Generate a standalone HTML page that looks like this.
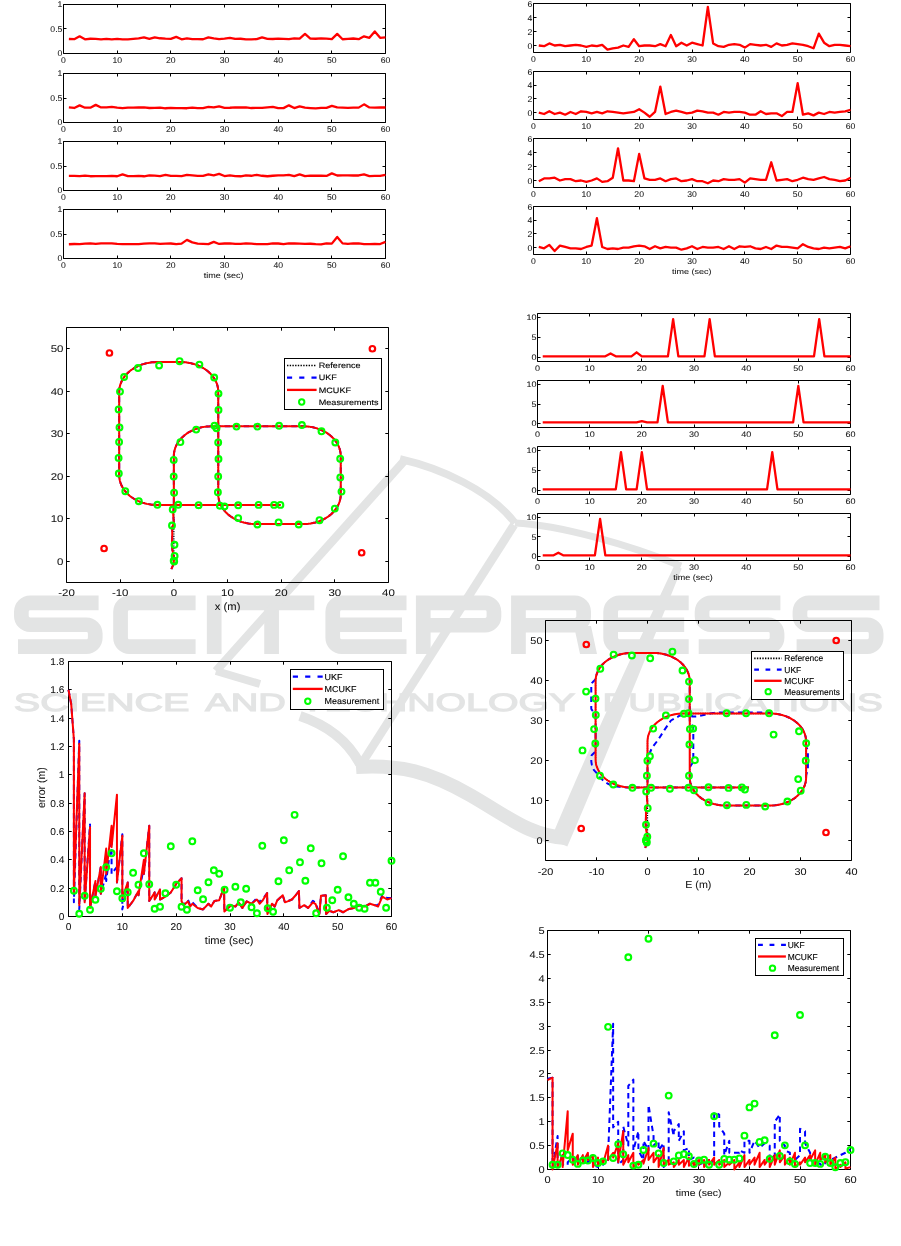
<!DOCTYPE html>
<html><head><meta charset="utf-8"><style>
html,body{margin:0;padding:0;background:#fff;}
body{width:901px;height:1246px;overflow:hidden;position:relative;}
svg{position:absolute;left:0;top:0;font-family:"Liberation Sans", sans-serif;will-change:transform;}
</style></head><body>
<svg width="901" height="1246" viewBox="0 0 901 1246" text-rendering="geometricPrecision">
<path d="M98.6 602.85H30.15A8.8 8.8 0 0 0 21.35 611.65V615.95A8.8 8.8 0 0 0 30.15 624.75H86.45A8.8 8.8 0 0 1 95.25 633.55V637.85A8.8 8.8 0 0 1 86.45 646.65H18M195.6 602.85H129.35A8.8 8.8 0 0 0 120.55 611.65V637.85A8.8 8.8 0 0 0 129.35 646.65H195.6M214.2 595.5V654M230 602.85H314.3 M271.6 602.85V654M406.5 602.85H341.55A8.8 8.8 0 0 0 332.75 611.65V637.85A8.8 8.8 0 0 0 341.55 646.65H406.5 M332.75 624.75H402M423.25 654V602.85H485.15A8.8 8.8 0 0 1 493.95 611.65V616.45A8.8 8.8 0 0 1 485.15 625.25H423.25M518.45 654V602.85H574.85A8.8 8.8 0 0 1 583.65 611.65V616.45A8.8 8.8 0 0 1 574.85 625.25H518.45M688.7 602.85H619.45A8.8 8.8 0 0 0 610.65 611.65V637.85A8.8 8.8 0 0 0 619.45 646.65H688.7 M610.65 624.75H684.2M780.4 602.85H710.85A8.8 8.8 0 0 0 702.05 611.65V615.95A8.8 8.8 0 0 0 710.85 624.75H768.25A8.8 8.8 0 0 1 777.05 633.55V637.85A8.8 8.8 0 0 1 768.25 646.65H698.7M879.5 602.85H808.75A8.8 8.8 0 0 0 799.95 611.65V615.95A8.8 8.8 0 0 0 808.75 624.75H867.35A8.8 8.8 0 0 1 876.15 633.55V637.85A8.8 8.8 0 0 1 867.35 646.65H796.6" fill="none" stroke="#e3e4e4" stroke-width="14.7" stroke-linejoin="miter"/>
<path d="M574 626 L591 626 L597 654 L580 654 Z" fill="#e3e4e4"/>
<text x="13.8" y="710.5" font-size="25" fill="#e3e4e4" stroke="#e3e4e4" stroke-width="1.1" textLength="175.7" lengthAdjust="spacingAndGlyphs">SCIENCE</text>
<text x="205.3" y="710.5" font-size="25" fill="#e3e4e4" stroke="#e3e4e4" stroke-width="1.1" textLength="80.6" lengthAdjust="spacingAndGlyphs">AND</text>
<text x="300.5" y="710.5" font-size="25" fill="#e3e4e4" stroke="#e3e4e4" stroke-width="1.1" textLength="274.6" lengthAdjust="spacingAndGlyphs">TECHNOLOGY</text>
<text x="602.5" y="710.5" font-size="25" fill="#e3e4e4" stroke="#e3e4e4" stroke-width="1.1" textLength="280.4" lengthAdjust="spacingAndGlyphs">PUBLICATIONS</text>
<path d="M216 671 L405 460" fill="none" stroke="#e3e4e4" stroke-width="8.5" stroke-linejoin="round"/>
<path d="M216 671 L260 684" fill="none" stroke="#e3e4e4" stroke-width="8" stroke-linejoin="round"/>
<path d="M400 459 C 440 468, 490 490, 515 523" fill="none" stroke="#e3e4e4" stroke-width="7.5" stroke-linejoin="round"/>
<path d="M515 523 C 560 525, 630 545, 681 566" fill="none" stroke="#e3e4e4" stroke-width="7" stroke-linejoin="round"/>
<path d="M514 525 L362 763" fill="none" stroke="#e3e4e4" stroke-width="8.5" stroke-linejoin="round"/>
<path d="M300 716 Q 342 730, 360 764" fill="none" stroke="#e3e4e4" stroke-width="10" stroke-linejoin="round"/>
<path d="M356 767 C 400 764, 430 772, 470 795 C 510 818, 530 836, 566 838" fill="none" stroke="#e3e4e4" stroke-width="14" stroke-linejoin="round"/>
<path d="M550.7 839.4 L567.3 846.6 Q 611 745, 681.7 568.6 L674.3 565.4 Q 594 735, 550.7 839.4Z" fill="#e3e4e4"/>
<path d="M63.5 4.5H385.5V53.5H63.5Z M63.5 53.5V50.5 M63.5 4.5V7.5 M117.5 53.5V50.5 M117.5 4.5V7.5 M170.5 53.5V50.5 M170.5 4.5V7.5 M224.5 53.5V50.5 M224.5 4.5V7.5 M278.5 53.5V50.5 M278.5 4.5V7.5 M331.5 53.5V50.5 M331.5 4.5V7.5 M385.5 53.5V50.5 M385.5 4.5V7.5 M63.5 53.5H66.5 M385.5 53.5H382.5 M63.5 28.5H66.5 M385.5 28.5H382.5 M63.5 4.5H66.5 M385.5 4.5H382.5" fill="none" stroke="#000" stroke-width="1"/>
<text transform="translate(63.5,60.45) scale(1.04,1)" y="2.97" font-size="8.3" text-anchor="middle" fill="#111111" stroke="#111111" stroke-width="0.05">0</text>
<text transform="translate(117.17,60.45) scale(1.04,1)" y="2.97" font-size="8.3" text-anchor="middle" fill="#111111" stroke="#111111" stroke-width="0.05">10</text>
<text transform="translate(170.83,60.45) scale(1.04,1)" y="2.97" font-size="8.3" text-anchor="middle" fill="#111111" stroke="#111111" stroke-width="0.05">20</text>
<text transform="translate(224.5,60.45) scale(1.04,1)" y="2.97" font-size="8.3" text-anchor="middle" fill="#111111" stroke="#111111" stroke-width="0.05">30</text>
<text transform="translate(278.17,60.45) scale(1.04,1)" y="2.97" font-size="8.3" text-anchor="middle" fill="#111111" stroke="#111111" stroke-width="0.05">40</text>
<text transform="translate(331.83,60.45) scale(1.04,1)" y="2.97" font-size="8.3" text-anchor="middle" fill="#111111" stroke="#111111" stroke-width="0.05">50</text>
<text transform="translate(385.5,60.45) scale(1.04,1)" y="2.97" font-size="8.3" text-anchor="middle" fill="#111111" stroke="#111111" stroke-width="0.05">60</text>
<text transform="translate(62.35,53.5) scale(1.04,1)" y="2.97" font-size="8.3" text-anchor="end" fill="#111111" stroke="#111111" stroke-width="0.05">0</text>
<text transform="translate(62.35,29) scale(1.04,1)" y="2.97" font-size="8.3" text-anchor="end" fill="#111111" stroke="#111111" stroke-width="0.05">0.5</text>
<text transform="translate(62.35,4.5) scale(1.04,1)" y="2.97" font-size="8.3" text-anchor="end" fill="#111111" stroke="#111111" stroke-width="0.05">1</text>
<path d="M68.87 39.01 L74.23 39.21 L79.6 36.35 L84.97 39.3 L90.33 38.76 L95.7 38.96 L101.07 39.32 L106.43 38.79 L111.8 39.34 L117.17 38.88 L122.53 39.31 L127.9 39.28 L133.27 38.89 L138.63 38.42 L144 37.33 L149.37 38.8 L154.73 37.33 L160.1 38.27 L165.47 38.71 L170.83 38.92 L176.2 36.84 L181.57 39.33 L186.93 38.38 L192.3 39.05 L197.67 39.22 L203.03 39.25 L208.4 37.33 L213.77 38.43 L219.13 39.18 L224.5 38.7 L229.87 37.82 L235.23 38.95 L240.6 38.74 L245.97 39.31 L251.33 39.32 L256.7 39.15 L262.07 37.33 L267.43 38.89 L272.8 39.02 L278.17 38.7 L283.53 38.86 L288.9 39.04 L294.27 38.45 L299.63 38.57 L305 33.9 L310.37 38.71 L315.73 38.77 L321.1 38.36 L326.47 38.53 L331.83 39.05 L337.2 33.9 L342.57 39.25 L347.93 38.9 L353.3 38.5 L358.67 39.21 L364.03 36.35 L369.4 37.82 L374.77 31.45 L380.13 37.82 L385.5 37.33" fill="none" stroke="#ff0000" stroke-width="2.3" stroke-linejoin="round" stroke-linecap="butt"/>
<path d="M63.5 73.5H385.5V122.5H63.5Z M63.5 122.5V119.5 M63.5 73.5V76.5 M117.5 122.5V119.5 M117.5 73.5V76.5 M170.5 122.5V119.5 M170.5 73.5V76.5 M224.5 122.5V119.5 M224.5 73.5V76.5 M278.5 122.5V119.5 M278.5 73.5V76.5 M331.5 122.5V119.5 M331.5 73.5V76.5 M385.5 122.5V119.5 M385.5 73.5V76.5 M63.5 122.5H66.5 M385.5 122.5H382.5 M63.5 98.5H66.5 M385.5 98.5H382.5 M63.5 73.5H66.5 M385.5 73.5H382.5" fill="none" stroke="#000" stroke-width="1"/>
<text transform="translate(63.5,129.45) scale(1.04,1)" y="2.97" font-size="8.3" text-anchor="middle" fill="#111111" stroke="#111111" stroke-width="0.05">0</text>
<text transform="translate(117.17,129.45) scale(1.04,1)" y="2.97" font-size="8.3" text-anchor="middle" fill="#111111" stroke="#111111" stroke-width="0.05">10</text>
<text transform="translate(170.83,129.45) scale(1.04,1)" y="2.97" font-size="8.3" text-anchor="middle" fill="#111111" stroke="#111111" stroke-width="0.05">20</text>
<text transform="translate(224.5,129.45) scale(1.04,1)" y="2.97" font-size="8.3" text-anchor="middle" fill="#111111" stroke="#111111" stroke-width="0.05">30</text>
<text transform="translate(278.17,129.45) scale(1.04,1)" y="2.97" font-size="8.3" text-anchor="middle" fill="#111111" stroke="#111111" stroke-width="0.05">40</text>
<text transform="translate(331.83,129.45) scale(1.04,1)" y="2.97" font-size="8.3" text-anchor="middle" fill="#111111" stroke="#111111" stroke-width="0.05">50</text>
<text transform="translate(385.5,129.45) scale(1.04,1)" y="2.97" font-size="8.3" text-anchor="middle" fill="#111111" stroke="#111111" stroke-width="0.05">60</text>
<text transform="translate(62.35,122.5) scale(1.04,1)" y="2.97" font-size="8.3" text-anchor="end" fill="#111111" stroke="#111111" stroke-width="0.05">0</text>
<text transform="translate(62.35,98) scale(1.04,1)" y="2.97" font-size="8.3" text-anchor="end" fill="#111111" stroke="#111111" stroke-width="0.05">0.5</text>
<text transform="translate(62.35,73.5) scale(1.04,1)" y="2.97" font-size="8.3" text-anchor="end" fill="#111111" stroke="#111111" stroke-width="0.05">1</text>
<path d="M68.87 107.43 L74.23 107.98 L79.6 105.35 L84.97 107.71 L90.33 107.72 L95.7 104.86 L101.07 107.47 L106.43 107.36 L111.8 106.82 L117.17 107.64 L122.53 108.23 L127.9 107.6 L133.27 107.66 L138.63 107.32 L144 107.48 L149.37 108.01 L154.73 107.91 L160.1 107.63 L165.47 108.27 L170.83 107.84 L176.2 108.13 L181.57 108.18 L186.93 108.23 L192.3 107.54 L197.67 108.16 L203.03 108.05 L208.4 106.82 L213.77 107.44 L219.13 106.33 L224.5 107.85 L229.87 107.75 L235.23 107.42 L240.6 107.49 L245.97 107.44 L251.33 108.02 L256.7 107.88 L262.07 107.94 L267.43 107.42 L272.8 106.82 L278.17 108.14 L283.53 108.12 L288.9 105.35 L294.27 108.06 L299.63 106.33 L305 107.71 L310.37 108.03 L315.73 108.29 L321.1 107.88 L326.47 107.93 L331.83 105.84 L337.2 107.36 L342.57 107.61 L347.93 107.78 L353.3 107.68 L358.67 107.63 L364.03 104.37 L369.4 107.41 L374.77 107.53 L380.13 107.43 L385.5 107.51" fill="none" stroke="#ff0000" stroke-width="2.3" stroke-linejoin="round" stroke-linecap="butt"/>
<path d="M63.5 141.5H385.5V190.5H63.5Z M63.5 190.5V187.5 M63.5 141.5V144.5 M117.5 190.5V187.5 M117.5 141.5V144.5 M170.5 190.5V187.5 M170.5 141.5V144.5 M224.5 190.5V187.5 M224.5 141.5V144.5 M278.5 190.5V187.5 M278.5 141.5V144.5 M331.5 190.5V187.5 M331.5 141.5V144.5 M385.5 190.5V187.5 M385.5 141.5V144.5 M63.5 190.5H66.5 M385.5 190.5H382.5 M63.5 166.5H66.5 M385.5 166.5H382.5 M63.5 141.5H66.5 M385.5 141.5H382.5" fill="none" stroke="#000" stroke-width="1"/>
<text transform="translate(63.5,197.45) scale(1.04,1)" y="2.97" font-size="8.3" text-anchor="middle" fill="#111111" stroke="#111111" stroke-width="0.05">0</text>
<text transform="translate(117.17,197.45) scale(1.04,1)" y="2.97" font-size="8.3" text-anchor="middle" fill="#111111" stroke="#111111" stroke-width="0.05">10</text>
<text transform="translate(170.83,197.45) scale(1.04,1)" y="2.97" font-size="8.3" text-anchor="middle" fill="#111111" stroke="#111111" stroke-width="0.05">20</text>
<text transform="translate(224.5,197.45) scale(1.04,1)" y="2.97" font-size="8.3" text-anchor="middle" fill="#111111" stroke="#111111" stroke-width="0.05">30</text>
<text transform="translate(278.17,197.45) scale(1.04,1)" y="2.97" font-size="8.3" text-anchor="middle" fill="#111111" stroke="#111111" stroke-width="0.05">40</text>
<text transform="translate(331.83,197.45) scale(1.04,1)" y="2.97" font-size="8.3" text-anchor="middle" fill="#111111" stroke="#111111" stroke-width="0.05">50</text>
<text transform="translate(385.5,197.45) scale(1.04,1)" y="2.97" font-size="8.3" text-anchor="middle" fill="#111111" stroke="#111111" stroke-width="0.05">60</text>
<text transform="translate(62.35,190.5) scale(1.04,1)" y="2.97" font-size="8.3" text-anchor="end" fill="#111111" stroke="#111111" stroke-width="0.05">0</text>
<text transform="translate(62.35,166) scale(1.04,1)" y="2.97" font-size="8.3" text-anchor="end" fill="#111111" stroke="#111111" stroke-width="0.05">0.5</text>
<text transform="translate(62.35,141.5) scale(1.04,1)" y="2.97" font-size="8.3" text-anchor="end" fill="#111111" stroke="#111111" stroke-width="0.05">1</text>
<path d="M68.87 175.91 L74.23 175.9 L79.6 176.19 L84.97 175.67 L90.33 176.23 L95.7 176.22 L101.07 176.09 L106.43 176.13 L111.8 175.96 L117.17 176.24 L122.53 174.33 L127.9 176.14 L133.27 176.19 L138.63 175.93 L144 176.27 L149.37 175.43 L154.73 175.69 L160.1 176.14 L165.47 174.82 L170.83 175.95 L176.2 175.93 L181.57 176.17 L186.93 174.82 L192.3 175.32 L197.67 175.83 L203.03 175.82 L208.4 174.33 L213.77 175.31 L219.13 173.84 L224.5 176.03 L229.87 175.48 L235.23 176.13 L240.6 176.27 L245.97 175.36 L251.33 175.77 L256.7 174.82 L262.07 175.76 L267.43 176.26 L272.8 175.77 L278.17 175.33 L283.53 175.44 L288.9 174.82 L294.27 176.03 L299.63 174.33 L305 176.13 L310.37 175.53 L315.73 175.77 L321.1 175.53 L326.47 175.97 L331.83 173.35 L337.2 175.49 L342.57 175.32 L347.93 175.45 L353.3 175.5 L358.67 175.49 L364.03 174.33 L369.4 176.07 L374.77 175.78 L380.13 175.94 L385.5 174.82" fill="none" stroke="#ff0000" stroke-width="2.3" stroke-linejoin="round" stroke-linecap="butt"/>
<path d="M63.5 209.5H385.5V258.5H63.5Z M63.5 258.5V255.5 M63.5 209.5V212.5 M117.5 258.5V255.5 M117.5 209.5V212.5 M170.5 258.5V255.5 M170.5 209.5V212.5 M224.5 258.5V255.5 M224.5 209.5V212.5 M278.5 258.5V255.5 M278.5 209.5V212.5 M331.5 258.5V255.5 M331.5 209.5V212.5 M385.5 258.5V255.5 M385.5 209.5V212.5 M63.5 258.5H66.5 M385.5 258.5H382.5 M63.5 234.5H66.5 M385.5 234.5H382.5 M63.5 209.5H66.5 M385.5 209.5H382.5" fill="none" stroke="#000" stroke-width="1"/>
<text transform="translate(63.5,265.45) scale(1.04,1)" y="2.97" font-size="8.3" text-anchor="middle" fill="#111111" stroke="#111111" stroke-width="0.05">0</text>
<text transform="translate(117.17,265.45) scale(1.04,1)" y="2.97" font-size="8.3" text-anchor="middle" fill="#111111" stroke="#111111" stroke-width="0.05">10</text>
<text transform="translate(170.83,265.45) scale(1.04,1)" y="2.97" font-size="8.3" text-anchor="middle" fill="#111111" stroke="#111111" stroke-width="0.05">20</text>
<text transform="translate(224.5,265.45) scale(1.04,1)" y="2.97" font-size="8.3" text-anchor="middle" fill="#111111" stroke="#111111" stroke-width="0.05">30</text>
<text transform="translate(278.17,265.45) scale(1.04,1)" y="2.97" font-size="8.3" text-anchor="middle" fill="#111111" stroke="#111111" stroke-width="0.05">40</text>
<text transform="translate(331.83,265.45) scale(1.04,1)" y="2.97" font-size="8.3" text-anchor="middle" fill="#111111" stroke="#111111" stroke-width="0.05">50</text>
<text transform="translate(385.5,265.45) scale(1.04,1)" y="2.97" font-size="8.3" text-anchor="middle" fill="#111111" stroke="#111111" stroke-width="0.05">60</text>
<text transform="translate(62.35,258.5) scale(1.04,1)" y="2.97" font-size="8.3" text-anchor="end" fill="#111111" stroke="#111111" stroke-width="0.05">0</text>
<text transform="translate(62.35,234) scale(1.04,1)" y="2.97" font-size="8.3" text-anchor="end" fill="#111111" stroke="#111111" stroke-width="0.05">0.5</text>
<text transform="translate(62.35,209.5) scale(1.04,1)" y="2.97" font-size="8.3" text-anchor="end" fill="#111111" stroke="#111111" stroke-width="0.05">1</text>
<path d="M68.87 244.26 L74.23 244.02 L79.6 244.04 L84.97 243.61 L90.33 243.35 L95.7 243.85 L101.07 243.37 L106.43 243.32 L111.8 243.35 L117.17 243.93 L122.53 244.07 L127.9 244.07 L133.27 244.1 L138.63 244.09 L144 243.68 L149.37 243.41 L154.73 243.47 L160.1 243.82 L165.47 243.65 L170.83 243.51 L176.2 244.21 L181.57 243.64 L186.93 239.88 L192.3 242.33 L197.67 243.55 L203.03 243.82 L208.4 244.12 L213.77 241.84 L219.13 243.96 L224.5 243.51 L229.87 243.34 L235.23 243.9 L240.6 243.9 L245.97 243.36 L251.33 243.58 L256.7 244.12 L262.07 244.17 L267.43 244.14 L272.8 243.4 L278.17 243.5 L283.53 244.15 L288.9 243.48 L294.27 243.33 L299.63 243.65 L305 243.95 L310.37 243.75 L315.73 244.16 L321.1 244.28 L326.47 243.34 L331.83 243.65 L337.2 236.94 L342.57 243.38 L347.93 243.86 L353.3 243.44 L358.67 243.48 L364.03 244.08 L369.4 244.04 L374.77 244 L380.13 244.05 L385.5 241.84" fill="none" stroke="#ff0000" stroke-width="2.3" stroke-linejoin="round" stroke-linecap="butt"/>
<text transform="translate(223.65,276) scale(1.16,1)" y="2.03" font-size="7.8" text-anchor="middle" fill="#111111" stroke="#111111" stroke-width="0.05">time (sec)</text>
<path d="M533.5 3.5H850.5V52.5H533.5Z M533.5 52.5V49.5 M533.5 3.5V6.5 M586.5 52.5V49.5 M586.5 3.5V6.5 M639.5 52.5V49.5 M639.5 3.5V6.5 M692.5 52.5V49.5 M692.5 3.5V6.5 M744.5 52.5V49.5 M744.5 3.5V6.5 M797.5 52.5V49.5 M797.5 3.5V6.5 M850.5 52.5V49.5 M850.5 3.5V6.5 M533.5 45.5H536.5 M850.5 45.5H847.5 M533.5 31.5H536.5 M850.5 31.5H847.5 M533.5 17.5H536.5 M850.5 17.5H847.5 M533.5 3.5H536.5 M850.5 3.5H847.5" fill="none" stroke="#000" stroke-width="1"/>
<text transform="translate(533.5,59.1) scale(1.03,1)" y="3.01" font-size="8.4" text-anchor="middle" fill="#111111" stroke="#111111" stroke-width="0.05">0</text>
<text transform="translate(586.33,59.1) scale(1.03,1)" y="3.01" font-size="8.4" text-anchor="middle" fill="#111111" stroke="#111111" stroke-width="0.05">10</text>
<text transform="translate(639.17,59.1) scale(1.03,1)" y="3.01" font-size="8.4" text-anchor="middle" fill="#111111" stroke="#111111" stroke-width="0.05">20</text>
<text transform="translate(692,59.1) scale(1.03,1)" y="3.01" font-size="8.4" text-anchor="middle" fill="#111111" stroke="#111111" stroke-width="0.05">30</text>
<text transform="translate(744.83,59.1) scale(1.03,1)" y="3.01" font-size="8.4" text-anchor="middle" fill="#111111" stroke="#111111" stroke-width="0.05">40</text>
<text transform="translate(797.67,59.1) scale(1.03,1)" y="3.01" font-size="8.4" text-anchor="middle" fill="#111111" stroke="#111111" stroke-width="0.05">50</text>
<text transform="translate(850.5,59.1) scale(1.03,1)" y="3.01" font-size="8.4" text-anchor="middle" fill="#111111" stroke="#111111" stroke-width="0.05">60</text>
<text transform="translate(532.35,45.5) scale(1.03,1)" y="3.01" font-size="8.4" text-anchor="end" fill="#111111" stroke="#111111" stroke-width="0.05">0</text>
<text transform="translate(532.35,31.5) scale(1.03,1)" y="3.01" font-size="8.4" text-anchor="end" fill="#111111" stroke="#111111" stroke-width="0.05">2</text>
<text transform="translate(532.35,17.5) scale(1.03,1)" y="3.01" font-size="8.4" text-anchor="end" fill="#111111" stroke="#111111" stroke-width="0.05">4</text>
<text transform="translate(532.35,3.5) scale(1.03,1)" y="3.01" font-size="8.4" text-anchor="end" fill="#111111" stroke="#111111" stroke-width="0.05">6</text>
<path d="M538.78 45.5 L544.07 46.2 L549.35 43.4 L554.63 45.5 L559.92 44.8 L565.2 46.2 L570.48 45.5 L575.77 44.8 L581.05 45.5 L586.33 46.9 L591.62 45.5 L596.9 46.2 L602.18 44.8 L607.47 49.7 L612.75 48.3 L618.03 47.6 L623.32 45.5 L628.6 46.9 L633.88 39.2 L639.17 46.2 L644.45 45.5 L649.73 45.5 L655.02 46.2 L660.3 44.1 L665.58 46.2 L670.87 35 L676.15 46.2 L681.43 42.7 L686.72 45.5 L692 42.7 L697.28 44.1 L702.57 45.5 L707.85 7 L713.13 43.4 L718.42 46.2 L723.7 46.9 L728.98 44.8 L734.27 44.1 L739.55 44.8 L744.83 47.6 L750.12 44.1 L755.4 44.8 L760.68 45.5 L765.97 44.8 L771.25 46.9 L776.53 43.4 L781.82 45.5 L787.1 44.8 L792.38 43.4 L797.67 44.1 L802.95 44.8 L808.23 46.2 L813.52 48.3 L818.8 33.6 L824.08 42.7 L829.37 46.2 L834.65 44.8 L839.93 44.8 L845.22 45.5 L850.5 46.2" fill="none" stroke="#ff0000" stroke-width="2.3" stroke-linejoin="round" stroke-linecap="butt"/>
<path d="M533.5 71.5H850.5V119.5H533.5Z M533.5 119.5V116.5 M533.5 71.5V74.5 M586.5 119.5V116.5 M586.5 71.5V74.5 M639.5 119.5V116.5 M639.5 71.5V74.5 M692.5 119.5V116.5 M692.5 71.5V74.5 M744.5 119.5V116.5 M744.5 71.5V74.5 M797.5 119.5V116.5 M797.5 71.5V74.5 M850.5 119.5V116.5 M850.5 71.5V74.5 M533.5 112.5H536.5 M850.5 112.5H847.5 M533.5 98.5H536.5 M850.5 98.5H847.5 M533.5 85.5H536.5 M850.5 85.5H847.5 M533.5 71.5H536.5 M850.5 71.5H847.5" fill="none" stroke="#000" stroke-width="1"/>
<text transform="translate(533.5,126.1) scale(1.03,1)" y="3.01" font-size="8.4" text-anchor="middle" fill="#111111" stroke="#111111" stroke-width="0.05">0</text>
<text transform="translate(586.33,126.1) scale(1.03,1)" y="3.01" font-size="8.4" text-anchor="middle" fill="#111111" stroke="#111111" stroke-width="0.05">10</text>
<text transform="translate(639.17,126.1) scale(1.03,1)" y="3.01" font-size="8.4" text-anchor="middle" fill="#111111" stroke="#111111" stroke-width="0.05">20</text>
<text transform="translate(692,126.1) scale(1.03,1)" y="3.01" font-size="8.4" text-anchor="middle" fill="#111111" stroke="#111111" stroke-width="0.05">30</text>
<text transform="translate(744.83,126.1) scale(1.03,1)" y="3.01" font-size="8.4" text-anchor="middle" fill="#111111" stroke="#111111" stroke-width="0.05">40</text>
<text transform="translate(797.67,126.1) scale(1.03,1)" y="3.01" font-size="8.4" text-anchor="middle" fill="#111111" stroke="#111111" stroke-width="0.05">50</text>
<text transform="translate(850.5,126.1) scale(1.03,1)" y="3.01" font-size="8.4" text-anchor="middle" fill="#111111" stroke="#111111" stroke-width="0.05">60</text>
<text transform="translate(532.35,112.64) scale(1.03,1)" y="3.01" font-size="8.4" text-anchor="end" fill="#111111" stroke="#111111" stroke-width="0.05">0</text>
<text transform="translate(532.35,98.93) scale(1.03,1)" y="3.01" font-size="8.4" text-anchor="end" fill="#111111" stroke="#111111" stroke-width="0.05">2</text>
<text transform="translate(532.35,85.21) scale(1.03,1)" y="3.01" font-size="8.4" text-anchor="end" fill="#111111" stroke="#111111" stroke-width="0.05">4</text>
<text transform="translate(532.35,71.5) scale(1.03,1)" y="3.01" font-size="8.4" text-anchor="end" fill="#111111" stroke="#111111" stroke-width="0.05">6</text>
<path d="M538.78 112.64 L544.07 114.01 L549.35 111.27 L554.63 114.01 L559.92 112.64 L565.2 114.7 L570.48 111.96 L575.77 114.01 L581.05 111.27 L586.33 111.96 L591.62 113.33 L596.9 111.96 L602.18 113.33 L607.47 111.27 L612.75 111.96 L618.03 112.64 L623.32 113.33 L628.6 112.64 L633.88 111.96 L639.17 109.21 L644.45 112.64 L649.73 116.76 L655.02 111.96 L660.3 86.59 L665.58 114.01 L670.87 111.96 L676.15 110.59 L681.43 111.96 L686.72 113.33 L692 112.64 L697.28 110.59 L702.57 111.27 L707.85 112.64 L713.13 112.64 L718.42 114.7 L723.7 111.96 L728.98 112.64 L734.27 111.96 L739.55 111.96 L744.83 112.64 L750.12 114.7 L755.4 114.7 L760.68 111.27 L765.97 114.01 L771.25 113.33 L776.53 113.33 L781.82 116.07 L787.1 111.96 L792.38 111.96 L797.67 83.16 L802.95 114.7 L808.23 113.33 L813.52 115.39 L818.8 112.64 L824.08 114.01 L829.37 111.96 L834.65 112.64 L839.93 111.96 L845.22 111.27 L850.5 109.9" fill="none" stroke="#ff0000" stroke-width="2.3" stroke-linejoin="round" stroke-linecap="butt"/>
<path d="M533.5 138.5H850.5V187.5H533.5Z M533.5 187.5V184.5 M533.5 138.5V141.5 M586.5 187.5V184.5 M586.5 138.5V141.5 M639.5 187.5V184.5 M639.5 138.5V141.5 M692.5 187.5V184.5 M692.5 138.5V141.5 M744.5 187.5V184.5 M744.5 138.5V141.5 M797.5 187.5V184.5 M797.5 138.5V141.5 M850.5 187.5V184.5 M850.5 138.5V141.5 M533.5 180.5H536.5 M850.5 180.5H847.5 M533.5 166.5H536.5 M850.5 166.5H847.5 M533.5 152.5H536.5 M850.5 152.5H847.5 M533.5 138.5H536.5 M850.5 138.5H847.5" fill="none" stroke="#000" stroke-width="1"/>
<text transform="translate(533.5,194.1) scale(1.03,1)" y="3.01" font-size="8.4" text-anchor="middle" fill="#111111" stroke="#111111" stroke-width="0.05">0</text>
<text transform="translate(586.33,194.1) scale(1.03,1)" y="3.01" font-size="8.4" text-anchor="middle" fill="#111111" stroke="#111111" stroke-width="0.05">10</text>
<text transform="translate(639.17,194.1) scale(1.03,1)" y="3.01" font-size="8.4" text-anchor="middle" fill="#111111" stroke="#111111" stroke-width="0.05">20</text>
<text transform="translate(692,194.1) scale(1.03,1)" y="3.01" font-size="8.4" text-anchor="middle" fill="#111111" stroke="#111111" stroke-width="0.05">30</text>
<text transform="translate(744.83,194.1) scale(1.03,1)" y="3.01" font-size="8.4" text-anchor="middle" fill="#111111" stroke="#111111" stroke-width="0.05">40</text>
<text transform="translate(797.67,194.1) scale(1.03,1)" y="3.01" font-size="8.4" text-anchor="middle" fill="#111111" stroke="#111111" stroke-width="0.05">50</text>
<text transform="translate(850.5,194.1) scale(1.03,1)" y="3.01" font-size="8.4" text-anchor="middle" fill="#111111" stroke="#111111" stroke-width="0.05">60</text>
<text transform="translate(532.35,180.5) scale(1.03,1)" y="3.01" font-size="8.4" text-anchor="end" fill="#111111" stroke="#111111" stroke-width="0.05">0</text>
<text transform="translate(532.35,166.5) scale(1.03,1)" y="3.01" font-size="8.4" text-anchor="end" fill="#111111" stroke="#111111" stroke-width="0.05">2</text>
<text transform="translate(532.35,152.5) scale(1.03,1)" y="3.01" font-size="8.4" text-anchor="end" fill="#111111" stroke="#111111" stroke-width="0.05">4</text>
<text transform="translate(532.35,138.5) scale(1.03,1)" y="3.01" font-size="8.4" text-anchor="end" fill="#111111" stroke="#111111" stroke-width="0.05">6</text>
<path d="M538.78 181.2 L544.07 178.4 L549.35 178.4 L554.63 177.7 L559.92 180.5 L565.2 179.1 L570.48 179.1 L575.77 181.2 L581.05 180.5 L586.33 181.9 L591.62 180.5 L596.9 178.4 L602.18 181.9 L607.47 181.2 L612.75 177.7 L618.03 148.3 L623.32 180.5 L628.6 180.5 L633.88 181.2 L639.17 153.9 L644.45 178.4 L649.73 179.8 L655.02 179.8 L660.3 178.4 L665.58 181.2 L670.87 179.1 L676.15 178.4 L681.43 181.2 L686.72 180.5 L692 179.1 L697.28 181.2 L702.57 181.2 L707.85 183.3 L713.13 180.5 L718.42 181.2 L723.7 179.1 L728.98 179.8 L734.27 179.8 L739.55 179.1 L744.83 182.6 L750.12 178.4 L755.4 179.1 L760.68 179.8 L765.97 179.8 L771.25 162.3 L776.53 180.5 L781.82 179.8 L787.1 179.1 L792.38 181.2 L797.67 179.8 L802.95 177.7 L808.23 179.1 L813.52 179.8 L818.8 178.4 L824.08 177 L829.37 179.1 L834.65 179.8 L839.93 181.2 L845.22 180.5 L850.5 177.7" fill="none" stroke="#ff0000" stroke-width="2.3" stroke-linejoin="round" stroke-linecap="butt"/>
<path d="M533.5 206.5H850.5V254.5H533.5Z M533.5 254.5V251.5 M533.5 206.5V209.5 M586.5 254.5V251.5 M586.5 206.5V209.5 M639.5 254.5V251.5 M639.5 206.5V209.5 M692.5 254.5V251.5 M692.5 206.5V209.5 M744.5 254.5V251.5 M744.5 206.5V209.5 M797.5 254.5V251.5 M797.5 206.5V209.5 M850.5 254.5V251.5 M850.5 206.5V209.5 M533.5 247.5H536.5 M850.5 247.5H847.5 M533.5 233.5H536.5 M850.5 233.5H847.5 M533.5 220.5H536.5 M850.5 220.5H847.5 M533.5 206.5H536.5 M850.5 206.5H847.5" fill="none" stroke="#000" stroke-width="1"/>
<text transform="translate(533.5,261.1) scale(1.03,1)" y="3.01" font-size="8.4" text-anchor="middle" fill="#111111" stroke="#111111" stroke-width="0.05">0</text>
<text transform="translate(586.33,261.1) scale(1.03,1)" y="3.01" font-size="8.4" text-anchor="middle" fill="#111111" stroke="#111111" stroke-width="0.05">10</text>
<text transform="translate(639.17,261.1) scale(1.03,1)" y="3.01" font-size="8.4" text-anchor="middle" fill="#111111" stroke="#111111" stroke-width="0.05">20</text>
<text transform="translate(692,261.1) scale(1.03,1)" y="3.01" font-size="8.4" text-anchor="middle" fill="#111111" stroke="#111111" stroke-width="0.05">30</text>
<text transform="translate(744.83,261.1) scale(1.03,1)" y="3.01" font-size="8.4" text-anchor="middle" fill="#111111" stroke="#111111" stroke-width="0.05">40</text>
<text transform="translate(797.67,261.1) scale(1.03,1)" y="3.01" font-size="8.4" text-anchor="middle" fill="#111111" stroke="#111111" stroke-width="0.05">50</text>
<text transform="translate(850.5,261.1) scale(1.03,1)" y="3.01" font-size="8.4" text-anchor="middle" fill="#111111" stroke="#111111" stroke-width="0.05">60</text>
<text transform="translate(532.35,247.64) scale(1.03,1)" y="3.01" font-size="8.4" text-anchor="end" fill="#111111" stroke="#111111" stroke-width="0.05">0</text>
<text transform="translate(532.35,233.93) scale(1.03,1)" y="3.01" font-size="8.4" text-anchor="end" fill="#111111" stroke="#111111" stroke-width="0.05">2</text>
<text transform="translate(532.35,220.21) scale(1.03,1)" y="3.01" font-size="8.4" text-anchor="end" fill="#111111" stroke="#111111" stroke-width="0.05">4</text>
<text transform="translate(532.35,206.5) scale(1.03,1)" y="3.01" font-size="8.4" text-anchor="end" fill="#111111" stroke="#111111" stroke-width="0.05">6</text>
<path d="M538.78 246.96 L544.07 248.33 L549.35 244.9 L554.63 251.07 L559.92 245.59 L565.2 246.96 L570.48 248.33 L575.77 248.33 L581.05 249.01 L586.33 246.96 L591.62 245.59 L596.9 218.16 L602.18 246.96 L607.47 249.01 L612.75 248.33 L618.03 249.01 L623.32 247.64 L628.6 247.64 L633.88 246.27 L639.17 245.59 L644.45 246.27 L649.73 249.01 L655.02 246.27 L660.3 248.33 L665.58 246.96 L670.87 247.64 L676.15 247.64 L681.43 249.7 L686.72 248.33 L692 246.27 L697.28 249.01 L702.57 246.96 L707.85 247.64 L713.13 247.64 L718.42 246.96 L723.7 249.01 L728.98 246.27 L734.27 249.01 L739.55 246.27 L744.83 246.96 L750.12 246.27 L755.4 248.33 L760.68 249.01 L765.97 246.96 L771.25 249.01 L776.53 245.59 L781.82 246.96 L787.1 246.96 L792.38 247.64 L797.67 248.33 L802.95 244.21 L808.23 246.96 L813.52 248.33 L818.8 249.01 L824.08 247.64 L829.37 248.33 L834.65 247.64 L839.93 246.96 L845.22 248.33 L850.5 246.27" fill="none" stroke="#ff0000" stroke-width="2.3" stroke-linejoin="round" stroke-linecap="butt"/>
<text transform="translate(691.65,271.8) scale(1.2,1)" y="1.95" font-size="7.5" text-anchor="middle" fill="#111111" stroke="#111111" stroke-width="0.05">time (sec)</text>
<path d="M537.5 313.5H850.5V361.5H537.5Z M537.5 361.5V358.5 M537.5 313.5V316.5 M589.5 361.5V358.5 M589.5 313.5V316.5 M641.5 361.5V358.5 M641.5 313.5V316.5 M694.5 361.5V358.5 M694.5 313.5V316.5 M746.5 361.5V358.5 M746.5 313.5V316.5 M798.5 361.5V358.5 M798.5 313.5V316.5 M850.5 361.5V358.5 M850.5 313.5V316.5 M537.5 357.5H540.5 M850.5 357.5H847.5 M537.5 337.5H540.5 M850.5 337.5H847.5 M537.5 317.5H540.5 M850.5 317.5H847.5" fill="none" stroke="#000" stroke-width="1"/>
<text transform="translate(537.5,368.2) scale(1.12,1)" y="2.88" font-size="8.05" text-anchor="middle" fill="#111111" stroke="#111111" stroke-width="0.05">0</text>
<text transform="translate(589.67,368.2) scale(1.12,1)" y="2.88" font-size="8.05" text-anchor="middle" fill="#111111" stroke="#111111" stroke-width="0.05">10</text>
<text transform="translate(641.83,368.2) scale(1.12,1)" y="2.88" font-size="8.05" text-anchor="middle" fill="#111111" stroke="#111111" stroke-width="0.05">20</text>
<text transform="translate(694,368.2) scale(1.12,1)" y="2.88" font-size="8.05" text-anchor="middle" fill="#111111" stroke="#111111" stroke-width="0.05">30</text>
<text transform="translate(746.17,368.2) scale(1.12,1)" y="2.88" font-size="8.05" text-anchor="middle" fill="#111111" stroke="#111111" stroke-width="0.05">40</text>
<text transform="translate(798.33,368.2) scale(1.12,1)" y="2.88" font-size="8.05" text-anchor="middle" fill="#111111" stroke="#111111" stroke-width="0.05">50</text>
<text transform="translate(850.5,368.2) scale(1.12,1)" y="2.88" font-size="8.05" text-anchor="middle" fill="#111111" stroke="#111111" stroke-width="0.05">60</text>
<text transform="translate(536.46,357.5) scale(1.12,1)" y="2.88" font-size="8.05" text-anchor="end" fill="#111111" stroke="#111111" stroke-width="0.05">0</text>
<text transform="translate(536.46,337.5) scale(1.12,1)" y="2.88" font-size="8.05" text-anchor="end" fill="#111111" stroke="#111111" stroke-width="0.05">5</text>
<text transform="translate(536.46,317.5) scale(1.12,1)" y="2.88" font-size="8.05" text-anchor="end" fill="#111111" stroke="#111111" stroke-width="0.05">10</text>
<path d="M542.72 356.3 L547.93 356.3 L553.15 356.3 L558.37 356.3 L563.58 356.3 L568.8 356.3 L574.02 356.3 L579.23 356.3 L584.45 356.3 L589.67 356.3 L594.88 356.3 L600.1 356.3 L605.32 356.3 L610.53 353.5 L615.75 356.3 L620.97 356.3 L626.18 356.3 L631.4 356.3 L636.62 352.3 L641.83 356.3 L647.05 356.3 L652.27 356.3 L657.48 356.3 L662.7 356.3 L667.92 356.3 L673.13 319.1 L678.35 356.3 L683.57 356.3 L688.78 356.3 L694 356.3 L699.22 356.3 L704.43 356.3 L709.65 319.1 L714.87 356.3 L720.08 356.3 L725.3 356.3 L730.52 356.3 L735.73 356.3 L740.95 356.3 L746.17 356.3 L751.38 356.3 L756.6 356.3 L761.82 356.3 L767.03 356.3 L772.25 356.3 L777.47 356.3 L782.68 356.3 L787.9 356.3 L793.12 356.3 L798.33 356.3 L803.55 356.3 L808.77 356.3 L813.98 356.3 L819.2 319.1 L824.42 356.3 L829.63 356.3 L834.85 356.3 L840.07 356.3 L845.28 356.3 L850.5 356.3" fill="none" stroke="#ff0000" stroke-width="2.3" stroke-linejoin="round" stroke-linecap="butt"/>
<path d="M537.5 380.5H850.5V427.5H537.5Z M537.5 427.5V424.5 M537.5 380.5V383.5 M589.5 427.5V424.5 M589.5 380.5V383.5 M641.5 427.5V424.5 M641.5 380.5V383.5 M694.5 427.5V424.5 M694.5 380.5V383.5 M746.5 427.5V424.5 M746.5 380.5V383.5 M798.5 427.5V424.5 M798.5 380.5V383.5 M850.5 427.5V424.5 M850.5 380.5V383.5 M537.5 423.5H540.5 M850.5 423.5H847.5 M537.5 404.5H540.5 M850.5 404.5H847.5 M537.5 384.5H540.5 M850.5 384.5H847.5" fill="none" stroke="#000" stroke-width="1"/>
<text transform="translate(537.5,434.2) scale(1.12,1)" y="2.88" font-size="8.05" text-anchor="middle" fill="#111111" stroke="#111111" stroke-width="0.05">0</text>
<text transform="translate(589.67,434.2) scale(1.12,1)" y="2.88" font-size="8.05" text-anchor="middle" fill="#111111" stroke="#111111" stroke-width="0.05">10</text>
<text transform="translate(641.83,434.2) scale(1.12,1)" y="2.88" font-size="8.05" text-anchor="middle" fill="#111111" stroke="#111111" stroke-width="0.05">20</text>
<text transform="translate(694,434.2) scale(1.12,1)" y="2.88" font-size="8.05" text-anchor="middle" fill="#111111" stroke="#111111" stroke-width="0.05">30</text>
<text transform="translate(746.17,434.2) scale(1.12,1)" y="2.88" font-size="8.05" text-anchor="middle" fill="#111111" stroke="#111111" stroke-width="0.05">40</text>
<text transform="translate(798.33,434.2) scale(1.12,1)" y="2.88" font-size="8.05" text-anchor="middle" fill="#111111" stroke="#111111" stroke-width="0.05">50</text>
<text transform="translate(850.5,434.2) scale(1.12,1)" y="2.88" font-size="8.05" text-anchor="middle" fill="#111111" stroke="#111111" stroke-width="0.05">60</text>
<text transform="translate(536.46,423.58) scale(1.12,1)" y="2.88" font-size="8.05" text-anchor="end" fill="#111111" stroke="#111111" stroke-width="0.05">0</text>
<text transform="translate(536.46,404) scale(1.12,1)" y="2.88" font-size="8.05" text-anchor="end" fill="#111111" stroke="#111111" stroke-width="0.05">5</text>
<text transform="translate(536.46,384.42) scale(1.12,1)" y="2.88" font-size="8.05" text-anchor="end" fill="#111111" stroke="#111111" stroke-width="0.05">10</text>
<path d="M542.72 422.41 L547.93 422.41 L553.15 422.41 L558.37 422.41 L563.58 422.41 L568.8 422.41 L574.02 422.41 L579.23 422.41 L584.45 422.41 L589.67 422.41 L594.88 422.41 L600.1 422.41 L605.32 422.41 L610.53 422.41 L615.75 422.41 L620.97 422.41 L626.18 422.41 L631.4 422.41 L636.62 422.41 L641.83 421.23 L647.05 422.41 L652.27 422.41 L657.48 422.41 L662.7 385.98 L667.92 422.41 L673.13 422.41 L678.35 422.41 L683.57 422.41 L688.78 422.41 L694 422.41 L699.22 422.41 L704.43 422.41 L709.65 422.41 L714.87 422.41 L720.08 422.41 L725.3 422.41 L730.52 422.41 L735.73 422.41 L740.95 422.41 L746.17 422.41 L751.38 422.41 L756.6 422.41 L761.82 422.41 L767.03 422.41 L772.25 422.41 L777.47 422.41 L782.68 422.41 L787.9 422.41 L793.12 422.41 L798.33 385.98 L803.55 422.41 L808.77 422.41 L813.98 422.41 L819.2 422.41 L824.42 422.41 L829.63 422.41 L834.85 422.41 L840.07 422.41 L845.28 422.41 L850.5 422.41" fill="none" stroke="#ff0000" stroke-width="2.3" stroke-linejoin="round" stroke-linecap="butt"/>
<path d="M537.5 446.5H850.5V494.5H537.5Z M537.5 494.5V491.5 M537.5 446.5V449.5 M589.5 494.5V491.5 M589.5 446.5V449.5 M641.5 494.5V491.5 M641.5 446.5V449.5 M694.5 494.5V491.5 M694.5 446.5V449.5 M746.5 494.5V491.5 M746.5 446.5V449.5 M798.5 494.5V491.5 M798.5 446.5V449.5 M850.5 494.5V491.5 M850.5 446.5V449.5 M537.5 490.5H540.5 M850.5 490.5H847.5 M537.5 470.5H540.5 M850.5 470.5H847.5 M537.5 450.5H540.5 M850.5 450.5H847.5" fill="none" stroke="#000" stroke-width="1"/>
<text transform="translate(537.5,501.2) scale(1.12,1)" y="2.88" font-size="8.05" text-anchor="middle" fill="#111111" stroke="#111111" stroke-width="0.05">0</text>
<text transform="translate(589.67,501.2) scale(1.12,1)" y="2.88" font-size="8.05" text-anchor="middle" fill="#111111" stroke="#111111" stroke-width="0.05">10</text>
<text transform="translate(641.83,501.2) scale(1.12,1)" y="2.88" font-size="8.05" text-anchor="middle" fill="#111111" stroke="#111111" stroke-width="0.05">20</text>
<text transform="translate(694,501.2) scale(1.12,1)" y="2.88" font-size="8.05" text-anchor="middle" fill="#111111" stroke="#111111" stroke-width="0.05">30</text>
<text transform="translate(746.17,501.2) scale(1.12,1)" y="2.88" font-size="8.05" text-anchor="middle" fill="#111111" stroke="#111111" stroke-width="0.05">40</text>
<text transform="translate(798.33,501.2) scale(1.12,1)" y="2.88" font-size="8.05" text-anchor="middle" fill="#111111" stroke="#111111" stroke-width="0.05">50</text>
<text transform="translate(850.5,501.2) scale(1.12,1)" y="2.88" font-size="8.05" text-anchor="middle" fill="#111111" stroke="#111111" stroke-width="0.05">60</text>
<text transform="translate(536.46,490.5) scale(1.12,1)" y="2.88" font-size="8.05" text-anchor="end" fill="#111111" stroke="#111111" stroke-width="0.05">0</text>
<text transform="translate(536.46,470.5) scale(1.12,1)" y="2.88" font-size="8.05" text-anchor="end" fill="#111111" stroke="#111111" stroke-width="0.05">5</text>
<text transform="translate(536.46,450.5) scale(1.12,1)" y="2.88" font-size="8.05" text-anchor="end" fill="#111111" stroke="#111111" stroke-width="0.05">10</text>
<path d="M542.72 489.3 L547.93 489.3 L553.15 489.3 L558.37 489.3 L563.58 489.3 L568.8 489.3 L574.02 489.3 L579.23 489.3 L584.45 489.3 L589.67 489.3 L594.88 489.3 L600.1 489.3 L605.32 489.3 L610.53 489.3 L615.75 489.3 L620.97 452.1 L626.18 489.3 L631.4 489.3 L636.62 489.3 L641.83 452.1 L647.05 489.3 L652.27 489.3 L657.48 489.3 L662.7 489.3 L667.92 489.3 L673.13 489.3 L678.35 489.3 L683.57 489.3 L688.78 489.3 L694 489.3 L699.22 489.3 L704.43 489.3 L709.65 489.3 L714.87 489.3 L720.08 489.3 L725.3 489.3 L730.52 489.3 L735.73 489.3 L740.95 489.3 L746.17 489.3 L751.38 489.3 L756.6 489.3 L761.82 489.3 L767.03 489.3 L772.25 452.1 L777.47 489.3 L782.68 489.3 L787.9 489.3 L793.12 489.3 L798.33 489.3 L803.55 489.3 L808.77 489.3 L813.98 489.3 L819.2 489.3 L824.42 489.3 L829.63 489.3 L834.85 489.3 L840.07 489.3 L845.28 489.3 L850.5 489.3" fill="none" stroke="#ff0000" stroke-width="2.3" stroke-linejoin="round" stroke-linecap="butt"/>
<path d="M537.5 513.5H850.5V560.5H537.5Z M537.5 560.5V557.5 M537.5 513.5V516.5 M589.5 560.5V557.5 M589.5 513.5V516.5 M641.5 560.5V557.5 M641.5 513.5V516.5 M694.5 560.5V557.5 M694.5 513.5V516.5 M746.5 560.5V557.5 M746.5 513.5V516.5 M798.5 560.5V557.5 M798.5 513.5V516.5 M850.5 560.5V557.5 M850.5 513.5V516.5 M537.5 556.5H540.5 M850.5 556.5H847.5 M537.5 536.5H540.5 M850.5 536.5H847.5 M537.5 517.5H540.5 M850.5 517.5H847.5" fill="none" stroke="#000" stroke-width="1"/>
<text transform="translate(537.5,567.2) scale(1.12,1)" y="2.88" font-size="8.05" text-anchor="middle" fill="#111111" stroke="#111111" stroke-width="0.05">0</text>
<text transform="translate(589.67,567.2) scale(1.12,1)" y="2.88" font-size="8.05" text-anchor="middle" fill="#111111" stroke="#111111" stroke-width="0.05">10</text>
<text transform="translate(641.83,567.2) scale(1.12,1)" y="2.88" font-size="8.05" text-anchor="middle" fill="#111111" stroke="#111111" stroke-width="0.05">20</text>
<text transform="translate(694,567.2) scale(1.12,1)" y="2.88" font-size="8.05" text-anchor="middle" fill="#111111" stroke="#111111" stroke-width="0.05">30</text>
<text transform="translate(746.17,567.2) scale(1.12,1)" y="2.88" font-size="8.05" text-anchor="middle" fill="#111111" stroke="#111111" stroke-width="0.05">40</text>
<text transform="translate(798.33,567.2) scale(1.12,1)" y="2.88" font-size="8.05" text-anchor="middle" fill="#111111" stroke="#111111" stroke-width="0.05">50</text>
<text transform="translate(850.5,567.2) scale(1.12,1)" y="2.88" font-size="8.05" text-anchor="middle" fill="#111111" stroke="#111111" stroke-width="0.05">60</text>
<text transform="translate(536.46,556.58) scale(1.12,1)" y="2.88" font-size="8.05" text-anchor="end" fill="#111111" stroke="#111111" stroke-width="0.05">0</text>
<text transform="translate(536.46,537) scale(1.12,1)" y="2.88" font-size="8.05" text-anchor="end" fill="#111111" stroke="#111111" stroke-width="0.05">5</text>
<text transform="translate(536.46,517.42) scale(1.12,1)" y="2.88" font-size="8.05" text-anchor="end" fill="#111111" stroke="#111111" stroke-width="0.05">10</text>
<path d="M542.72 555.41 L547.93 555.41 L553.15 555.41 L558.37 552.67 L563.58 555.41 L568.8 555.41 L574.02 555.41 L579.23 555.41 L584.45 555.41 L589.67 555.41 L594.88 555.41 L600.1 518.98 L605.32 555.41 L610.53 555.41 L615.75 555.41 L620.97 555.41 L626.18 555.41 L631.4 555.41 L636.62 555.41 L641.83 555.41 L647.05 555.41 L652.27 555.41 L657.48 555.41 L662.7 555.41 L667.92 555.41 L673.13 555.41 L678.35 555.41 L683.57 555.41 L688.78 555.41 L694 555.41 L699.22 555.41 L704.43 555.41 L709.65 555.41 L714.87 555.41 L720.08 555.41 L725.3 555.41 L730.52 555.41 L735.73 555.41 L740.95 555.41 L746.17 555.41 L751.38 555.41 L756.6 555.41 L761.82 555.41 L767.03 555.41 L772.25 555.41 L777.47 555.41 L782.68 555.41 L787.9 555.41 L793.12 555.41 L798.33 555.41 L803.55 555.41 L808.77 555.41 L813.98 555.41 L819.2 555.41 L824.42 555.41 L829.63 555.41 L834.85 555.41 L840.07 555.41 L845.28 555.41 L850.5 555.41" fill="none" stroke="#ff0000" stroke-width="2.3" stroke-linejoin="round" stroke-linecap="butt"/>
<text transform="translate(693,577.9) scale(1.14,1)" y="2.05" font-size="7.9" text-anchor="middle" fill="#111111" stroke="#111111" stroke-width="0.05">time (sec)</text>
<path d="M66.5 327.5H388.5V582.5H66.5Z M66.5 582.5V579.3 M66.5 327.5V330.7 M120.5 582.5V579.3 M120.5 327.5V330.7 M173.5 582.5V579.3 M173.5 327.5V330.7 M227.5 582.5V579.3 M227.5 327.5V330.7 M281.5 582.5V579.3 M281.5 327.5V330.7 M334.5 582.5V579.3 M334.5 327.5V330.7 M388.5 582.5V579.3 M388.5 327.5V330.7 M66.5 561.5H69.7 M388.5 561.5H385.3 M66.5 518.5H69.7 M388.5 518.5H385.3 M66.5 476.5H69.7 M388.5 476.5H385.3 M66.5 433.5H69.7 M388.5 433.5H385.3 M66.5 391.5H69.7 M388.5 391.5H385.3 M66.5 348.5H69.7 M388.5 348.5H385.3" fill="none" stroke="#000" stroke-width="1"/>
<text transform="translate(66.5,592.8) scale(1.17,1)" y="3.51" font-size="9.8" text-anchor="middle" fill="#111111" stroke="#111111" stroke-width="0.05">-20</text>
<text transform="translate(120.17,592.8) scale(1.17,1)" y="3.51" font-size="9.8" text-anchor="middle" fill="#111111" stroke="#111111" stroke-width="0.05">-10</text>
<text transform="translate(173.83,592.8) scale(1.17,1)" y="3.51" font-size="9.8" text-anchor="middle" fill="#111111" stroke="#111111" stroke-width="0.05">0</text>
<text transform="translate(227.5,592.8) scale(1.17,1)" y="3.51" font-size="9.8" text-anchor="middle" fill="#111111" stroke="#111111" stroke-width="0.05">10</text>
<text transform="translate(281.17,592.8) scale(1.17,1)" y="3.51" font-size="9.8" text-anchor="middle" fill="#111111" stroke="#111111" stroke-width="0.05">20</text>
<text transform="translate(334.83,592.8) scale(1.17,1)" y="3.51" font-size="9.8" text-anchor="middle" fill="#111111" stroke="#111111" stroke-width="0.05">30</text>
<text transform="translate(388.5,592.8) scale(1.17,1)" y="3.51" font-size="9.8" text-anchor="middle" fill="#111111" stroke="#111111" stroke-width="0.05">40</text>
<text transform="translate(63.46,561.25) scale(1.17,1)" y="3.51" font-size="9.8" text-anchor="end" fill="#111111" stroke="#111111" stroke-width="0.05">0</text>
<text transform="translate(63.46,518.75) scale(1.17,1)" y="3.51" font-size="9.8" text-anchor="end" fill="#111111" stroke="#111111" stroke-width="0.05">10</text>
<text transform="translate(63.46,476.25) scale(1.17,1)" y="3.51" font-size="9.8" text-anchor="end" fill="#111111" stroke="#111111" stroke-width="0.05">20</text>
<text transform="translate(63.46,433.75) scale(1.17,1)" y="3.51" font-size="9.8" text-anchor="end" fill="#111111" stroke="#111111" stroke-width="0.05">30</text>
<text transform="translate(63.46,391.25) scale(1.17,1)" y="3.51" font-size="9.8" text-anchor="end" fill="#111111" stroke="#111111" stroke-width="0.05">40</text>
<text transform="translate(63.46,348.75) scale(1.17,1)" y="3.51" font-size="9.8" text-anchor="end" fill="#111111" stroke="#111111" stroke-width="0.05">50</text>
<path d="M173.83 563.38 L173.83 562.31 L173.83 561.25 L173.83 560.19 L173.83 559.12 L173.83 558.06 L173.83 557 L173.83 555.94 L173.83 554.88 L173.83 553.81 L173.83 552.75 L173.83 551.69 L173.83 550.62 L173.83 549.56 L173.83 548.5 L173.83 547.44 L173.83 546.38 L173.83 545.31 L173.83 544.25 L173.83 543.19 L173.83 542.12 L173.83 541.06 L173.83 540 L173.83 538.94 L173.83 537.88 L173.83 536.81 L173.83 535.75 L173.83 534.69 L173.83 533.62 L173.83 532.56 L173.83 531.5 L173.83 530.44 L173.83 529.38 L173.83 528.31 L173.83 527.25 L173.83 526.19 L173.83 525.12 L173.83 524.06 L173.83 523 L173.83 521.94 L173.83 520.88 L173.83 519.81 L173.83 518.75 L173.83 517.69 L173.83 516.62 L173.83 515.56 L173.83 514.5 L173.83 513.44 L173.83 512.38 L173.83 511.31 L173.83 510.25 L173.83 509.19 L173.83 508.12 L173.83 507.06 L173.83 506 L173.83 504.94 L173.83 503.88 L173.83 502.81 L173.83 501.75 L173.83 500.69 L173.83 499.62 L173.83 498.56 L173.83 497.5 L173.83 496.44 L173.83 495.38 L173.83 494.31 L173.83 493.25 L173.83 492.19 L173.83 491.12 L173.83 490.06 L173.83 489 L173.83 487.94 L173.83 486.88 L173.83 485.81 L173.83 484.75 L173.83 483.69 L173.83 482.62 L173.83 481.56 L173.83 480.5 L173.83 479.44 L173.83 478.38 L173.83 477.31 L173.83 476.25 L173.83 475.19 L173.83 474.12 L173.83 473.06 L173.83 472 L173.83 470.94 L173.83 469.88 L173.83 468.81 L173.83 467.75 L173.83 466.69 L173.83 465.62 L173.83 464.56 L173.83 463.5 L173.83 462.44 L173.83 461.38 L173.83 460.31 L173.83 459.25 L173.83 458.19 L173.83 457.12 L173.83 456.06 L173.91 454.12 L174.15 452.18 L174.56 450.26 L175.11 448.36 L175.83 446.5 L176.69 444.68 L177.71 442.9 L178.87 441.19 L180.16 439.53 L181.6 437.95 L183.16 436.45 L184.84 435.03 L186.63 433.7 L188.53 432.46 L190.53 431.33 L192.62 430.3 L194.78 429.38 L197.02 428.58 L199.32 427.89 L201.68 427.33 L204.07 426.88 L206.5 426.57 L208.94 426.38 L211.4 426.31 L212.75 426.31 L214.1 426.31 L215.45 426.31 L216.8 426.31 L218.15 426.31 L219.5 426.31 L220.85 426.31 L222.2 426.31 L223.55 426.31 L224.9 426.31 L226.25 426.31 L227.59 426.31 L228.94 426.31 L230.29 426.31 L231.64 426.31 L232.99 426.31 L234.34 426.31 L235.69 426.31 L237.04 426.31 L238.39 426.31 L239.74 426.31 L241.09 426.31 L242.44 426.31 L243.79 426.31 L245.14 426.31 L246.49 426.31 L247.84 426.31 L249.19 426.31 L250.54 426.31 L251.89 426.31 L253.24 426.31 L254.59 426.31 L255.94 426.31 L257.28 426.31 L258.63 426.31 L259.98 426.31 L261.33 426.31 L262.68 426.31 L264.03 426.31 L265.38 426.31 L266.73 426.31 L268.08 426.31 L269.43 426.31 L270.78 426.31 L272.13 426.31 L273.48 426.31 L274.83 426.31 L276.18 426.31 L277.53 426.31 L278.88 426.31 L280.23 426.31 L281.58 426.31 L282.93 426.31 L284.28 426.31 L285.63 426.31 L286.98 426.31 L288.32 426.31 L289.67 426.31 L291.02 426.31 L292.37 426.31 L293.72 426.31 L295.07 426.31 L296.42 426.31 L297.77 426.31 L299.12 426.31 L300.47 426.31 L301.82 426.31 L303.17 426.31 L305.63 426.38 L308.07 426.57 L310.5 426.88 L312.89 427.33 L315.25 427.89 L317.55 428.58 L319.79 429.38 L321.95 430.3 L324.04 431.33 L326.04 432.46 L327.94 433.7 L329.73 435.03 L331.41 436.45 L332.97 437.95 L334.41 439.53 L335.7 441.19 L336.86 442.9 L337.88 444.68 L338.74 446.5 L339.46 448.36 L340.01 450.26 L340.42 452.18 L340.66 454.12 L340.74 456.06 L340.74 457.13 L340.74 458.19 L340.74 459.25 L340.74 460.32 L340.74 461.38 L340.74 462.44 L340.74 463.51 L340.74 464.57 L340.74 465.64 L340.74 466.7 L340.74 467.76 L340.74 468.83 L340.74 469.89 L340.74 470.95 L340.74 472.02 L340.74 473.08 L340.74 474.15 L340.74 475.21 L340.74 476.27 L340.74 477.34 L340.74 478.4 L340.74 479.46 L340.74 480.53 L340.74 481.59 L340.74 482.65 L340.74 483.72 L340.74 484.78 L340.74 485.85 L340.74 486.91 L340.74 487.97 L340.74 489.04 L340.74 490.1 L340.74 491.16 L340.74 492.23 L340.74 493.29 L340.74 494.36 L340.66 496.3 L340.42 498.24 L340.01 500.16 L339.46 502.05 L338.74 503.92 L337.88 505.74 L336.86 507.51 L335.7 509.23 L334.41 510.88 L332.97 512.47 L331.41 513.97 L329.73 515.39 L327.94 516.72 L326.04 517.96 L324.04 519.09 L321.95 520.12 L319.79 521.04 L317.55 521.84 L315.25 522.53 L312.89 523.09 L310.5 523.53 L308.07 523.85 L305.63 524.04 L303.17 524.11 L301.82 524.11 L300.47 524.11 L299.11 524.11 L297.76 524.11 L296.41 524.11 L295.06 524.11 L293.7 524.11 L292.35 524.11 L291 524.11 L289.65 524.11 L288.29 524.11 L286.94 524.11 L285.59 524.11 L284.24 524.11 L282.88 524.11 L281.53 524.11 L280.18 524.11 L278.83 524.11 L277.47 524.11 L276.12 524.11 L274.77 524.11 L273.42 524.11 L272.06 524.11 L270.71 524.11 L269.36 524.11 L268.01 524.11 L266.66 524.11 L265.3 524.11 L263.95 524.11 L262.6 524.11 L261.25 524.11 L259.89 524.11 L258.54 524.11 L257.19 524.11 L255.84 524.11 L253.38 524.04 L250.93 523.85 L248.51 523.53 L246.11 523.09 L243.76 522.53 L241.46 521.84 L239.22 521.04 L237.05 520.12 L234.97 519.09 L232.97 517.96 L231.07 516.72 L229.27 515.39 L227.59 513.97 L226.03 512.47 L224.6 510.88 L223.3 509.23 L222.14 507.51 L221.13 505.74 L220.26 503.92 L219.55 502.05 L218.99 500.16 L218.59 498.24 L218.35 496.3 L218.27 494.36 L218.27 493.29 L218.27 492.22 L218.27 491.15 L218.27 490.08 L218.27 489.02 L218.27 487.95 L218.27 486.88 L218.27 485.81 L218.27 484.74 L218.27 483.68 L218.27 482.61 L218.27 481.54 L218.27 480.47 L218.27 479.41 L218.27 478.34 L218.27 477.27 L218.27 476.2 L218.27 475.13 L218.27 474.07 L218.27 473 L218.27 471.93 L218.27 470.86 L218.27 469.8 L218.27 468.73 L218.27 467.66 L218.27 466.59 L218.27 465.52 L218.27 464.46 L218.27 463.39 L218.27 462.32 L218.27 461.25 L218.27 460.19 L218.27 459.12 L218.27 458.05 L218.27 456.98 L218.27 455.91 L218.27 454.85 L218.27 453.78 L218.27 452.71 L218.27 451.64 L218.27 450.57 L218.27 449.51 L218.27 448.44 L218.27 447.37 L218.27 446.3 L218.27 445.24 L218.27 444.17 L218.27 443.1 L218.27 442.03 L218.27 440.96 L218.27 439.9 L218.27 438.83 L218.27 437.76 L218.27 436.69 L218.27 435.63 L218.27 434.56 L218.27 433.49 L218.27 432.42 L218.27 431.35 L218.27 430.29 L218.27 429.22 L218.27 428.15 L218.27 427.08 L218.27 426.01 L218.27 424.95 L218.27 423.88 L218.27 422.81 L218.27 421.74 L218.27 420.68 L218.27 419.61 L218.27 418.54 L218.27 417.47 L218.27 416.4 L218.27 415.34 L218.27 414.27 L218.27 413.2 L218.27 412.13 L218.27 411.07 L218.27 410 L218.27 408.93 L218.27 407.86 L218.27 406.79 L218.27 405.73 L218.27 404.66 L218.27 403.59 L218.27 402.52 L218.27 401.46 L218.27 400.39 L218.27 399.32 L218.27 398.25 L218.27 397.18 L218.27 396.12 L218.27 395.05 L218.27 393.98 L218.27 392.91 L218.27 391.85 L218.19 389.9 L217.95 387.96 L217.55 386.04 L216.99 384.15 L216.28 382.28 L215.41 380.46 L214.4 378.69 L213.24 376.97 L211.94 375.32 L210.51 373.73 L208.95 372.23 L207.27 370.81 L205.47 369.48 L203.57 368.24 L201.57 367.11 L199.49 366.08 L197.32 365.16 L195.08 364.36 L192.78 363.67 L190.43 363.11 L188.03 362.67 L185.61 362.35 L183.16 362.16 L180.7 362.1 L179.29 362.1 L177.89 362.1 L176.48 362.1 L175.07 362.1 L173.66 362.1 L172.25 362.1 L170.85 362.1 L169.44 362.1 L168.03 362.1 L166.62 362.1 L165.22 362.1 L163.81 362.1 L162.4 362.1 L160.99 362.1 L159.58 362.1 L158.18 362.1 L156.77 362.1 L154.31 362.16 L151.86 362.35 L149.44 362.67 L147.04 363.11 L144.69 363.67 L142.39 364.36 L140.15 365.16 L137.98 366.08 L135.9 367.11 L133.9 368.24 L132 369.48 L130.2 370.81 L128.52 372.23 L126.96 373.73 L125.53 375.32 L124.23 376.97 L123.07 378.69 L122.06 380.46 L121.19 382.28 L120.48 384.15 L119.92 386.04 L119.52 387.96 L119.28 389.9 L119.2 391.85 L119.2 392.91 L119.2 393.98 L119.2 395.05 L119.2 396.12 L119.2 397.18 L119.2 398.25 L119.2 399.32 L119.2 400.39 L119.2 401.46 L119.2 402.52 L119.2 403.59 L119.2 404.66 L119.2 405.73 L119.2 406.8 L119.2 407.86 L119.2 408.93 L119.2 410 L119.2 411.07 L119.2 412.14 L119.2 413.2 L119.2 414.27 L119.2 415.34 L119.2 416.41 L119.2 417.48 L119.2 418.54 L119.2 419.61 L119.2 420.68 L119.2 421.75 L119.2 422.82 L119.2 423.88 L119.2 424.95 L119.2 426.02 L119.2 427.09 L119.2 428.16 L119.2 429.22 L119.2 430.29 L119.2 431.36 L119.2 432.43 L119.2 433.5 L119.2 434.56 L119.2 435.63 L119.2 436.7 L119.2 437.77 L119.2 438.83 L119.2 439.9 L119.2 440.97 L119.2 442.04 L119.2 443.11 L119.2 444.17 L119.2 445.24 L119.2 446.31 L119.2 447.38 L119.2 448.45 L119.2 449.51 L119.2 450.58 L119.2 451.65 L119.2 452.72 L119.2 453.79 L119.2 454.85 L119.2 455.92 L119.2 456.99 L119.2 458.06 L119.2 459.13 L119.2 460.19 L119.2 461.26 L119.2 462.33 L119.2 463.4 L119.2 464.47 L119.2 465.53 L119.2 466.6 L119.2 467.67 L119.2 468.74 L119.2 469.81 L119.2 470.87 L119.2 471.94 L119.2 473.01 L119.2 474.08 L119.2 475.14 L119.28 477.09 L119.52 479.03 L119.92 480.95 L120.48 482.84 L121.19 484.71 L122.06 486.53 L123.07 488.3 L124.23 490.02 L125.53 491.67 L126.96 493.26 L128.52 494.76 L130.2 496.18 L132 497.51 L133.9 498.75 L135.9 499.88 L137.98 500.91 L140.15 501.83 L142.39 502.63 L144.69 503.32 L147.04 503.88 L149.44 504.32 L151.86 504.64 L154.31 504.83 L156.77 504.89 L158.11 504.89 L159.46 504.89 L160.81 504.89 L162.15 504.89 L163.5 504.89 L164.85 504.89 L166.19 504.89 L167.54 504.89 L168.88 504.89 L170.23 504.89 L171.58 504.89 L172.92 504.89 L174.27 504.89 L175.62 504.89 L176.96 504.89 L178.31 504.89 L179.66 504.89 L181 504.89 L182.35 504.89 L183.69 504.89 L185.04 504.89 L186.39 504.89 L187.73 504.89 L189.08 504.89 L190.43 504.89 L191.77 504.89 L193.12 504.89 L194.46 504.89 L195.81 504.89 L197.16 504.89 L198.5 504.89 L199.85 504.89 L201.2 504.89 L202.54 504.89 L203.89 504.89 L205.24 504.89 L206.58 504.89 L207.93 504.89 L209.27 504.89 L210.62 504.89 L211.97 504.89 L213.31 504.89 L214.66 504.89 L216.01 504.89 L217.35 504.89 L218.7 504.89 L220.05 504.89 L221.39 504.89 L222.74 504.89 L224.08 504.89 L225.43 504.89 L226.78 504.89 L228.12 504.89 L229.47 504.89 L230.82 504.89 L232.16 504.89 L233.51 504.89 L234.85 504.89 L236.2 504.89 L237.55 504.89 L238.89 504.89 L240.24 504.89 L241.59 504.89 L242.93 504.89 L244.28 504.89 L245.63 504.89 L246.97 504.89 L248.32 504.89 L249.66 504.89 L251.01 504.89 L252.36 504.89 L253.7 504.89 L255.05 504.89 L256.4 504.89 L257.74 504.89 L259.09 504.89 L260.44 504.89 L261.78 504.89 L263.13 504.89 L264.47 504.89 L265.82 504.89 L267.17 504.89 L268.51 504.89 L269.86 504.89 L271.21 504.89 L272.55 504.89 L273.9 504.89 L275.24 504.89 L276.59 504.89 L277.94 504.89 L279.28 504.89 L280.63 504.89" fill="none" stroke="#000" stroke-width="1.3" stroke-linejoin="round" stroke-linecap="butt" stroke-dasharray="1.2 1.2"/>
<path d="M171.36 569.11 L173.83 563.38 L173.83 562.31 L173.83 561.25 L173.83 560.19 L173.83 559.12 L173.83 558.06 L173.83 557 L173.61 555.94 L173.39 554.88 L173.16 553.81 L172.94 552.75 L172.72 551.69 L172.49 550.62 L172.4 549.56 L172.31 548.5 L172.22 547.44 L172.13 546.38 L172.04 545.31 L171.95 544.25 L171.99 543.19 L172.02 542.12 L172.06 541.06 L172.09 540 L172.12 538.94 L172.16 537.88 L172.19 536.81 L172.22 535.75 L172.22 534.69 L172.22 533.62 L172.22 532.56 L172.22 531.5 L172.22 530.44 L172.22 529.38 L172.22 528.31 L172.22 527.25 L172.63 526.19 L173.03 525.12 L173.43 524.06 L173.83 523 L173.75 521.94 L173.67 520.88 L173.59 519.81 L173.51 518.75 L173.43 517.69 L173.35 516.62 L173.27 515.56 L173.19 514.5 L173.27 513.44 L173.35 512.38 L173.43 511.31 L173.51 510.25 L173.59 509.19 L173.67 508.12 L173.75 507.06 L173.83 506 L173.83 504.94 L173.83 503.88 L173.83 502.81 L173.83 501.75 L173.83 500.69 L173.83 499.62 L173.83 498.56 L173.83 497.5 L173.83 496.44 L173.83 495.38 L173.83 494.31 L173.83 493.25 L173.83 492.19 L173.83 491.12 L173.83 490.06 L173.83 489 L173.83 487.94 L173.83 486.88 L173.83 485.81 L173.83 484.75 L173.83 483.69 L173.83 482.62 L173.83 481.56 L173.83 480.5 L173.83 479.44 L173.83 478.38 L173.83 477.31 L173.83 476.25 L173.83 475.19 L173.83 474.12 L173.83 473.06 L173.83 472 L173.83 470.94 L173.83 469.88 L173.83 468.81 L173.83 467.75 L173.83 466.69 L173.83 465.62 L173.83 464.56 L173.83 463.5 L173.83 462.44 L173.83 461.38 L173.83 460.31 L173.83 459.25 L173.83 458.19 L173.83 457.12 L173.83 456.06 L173.91 454.12 L174.15 452.18 L174.56 450.26 L175.11 448.36 L175.83 446.5 L176.69 444.68 L177.71 442.9 L178.87 441.19 L180.16 439.53 L181.6 437.95 L183.16 436.45 L184.84 435.03 L186.63 433.7 L188.53 432.46 L190.53 431.33 L192.62 430.3 L194.78 429.38 L197.02 428.58 L199.32 427.89 L201.68 427.33 L204.07 426.88 L206.5 426.57 L208.94 426.38 L211.4 426.31 L212.75 426.31 L214.1 426.31 L215.45 426.31 L216.8 426.31 L218.15 426.31 L219.5 426.31 L220.85 426.31 L222.2 426.31 L223.55 426.31 L224.9 426.31 L226.25 426.31 L227.59 426.31 L228.94 426.31 L230.29 426.31 L231.64 426.31 L232.99 426.31 L234.34 426.31 L235.69 426.31 L237.04 426.31 L238.39 426.31 L239.74 426.31 L241.09 426.31 L242.44 426.31 L243.79 426.31 L245.14 426.31 L246.49 426.31 L247.84 426.31 L249.19 426.31 L250.54 426.31 L251.89 426.31 L253.24 426.31 L254.59 426.31 L255.94 426.31 L257.28 426.31 L258.63 426.31 L259.98 426.31 L261.33 426.31 L262.68 426.31 L264.03 426.31 L265.38 426.31 L266.73 426.31 L268.08 426.31 L269.43 426.31 L270.78 426.31 L272.13 426.31 L273.48 426.31 L274.83 426.31 L276.18 426.31 L277.53 426.31 L278.88 426.31 L280.23 426.31 L281.58 426.31 L282.93 426.31 L284.28 426.31 L285.63 426.31 L286.98 426.31 L288.32 426.31 L289.67 426.31 L291.02 426.31 L292.37 426.31 L293.72 426.31 L295.07 426.31 L296.42 426.31 L297.77 426.31 L299.12 426.31 L300.47 426.31 L301.82 426.31 L303.17 426.31 L305.63 426.38 L308.07 426.57 L310.5 426.88 L312.89 427.33 L315.25 427.89 L317.55 428.58 L319.79 429.38 L321.95 430.3 L324.04 431.33 L326.04 432.46 L327.94 433.7 L329.73 435.03 L331.41 436.45 L332.97 437.95 L334.41 439.53 L335.7 441.19 L336.86 442.9 L337.88 444.68 L338.74 446.5 L339.46 448.36 L340.01 450.26 L340.42 452.18 L340.66 454.12 L340.74 456.06 L340.74 457.13 L340.74 458.19 L340.74 459.25 L340.74 460.32 L340.74 461.38 L340.74 462.44 L340.74 463.51 L340.74 464.57 L340.74 465.64 L340.74 466.7 L340.74 467.76 L340.74 468.83 L340.74 469.89 L340.74 470.95 L340.74 472.02 L340.74 473.08 L340.74 474.15 L340.74 475.21 L340.74 476.27 L340.74 477.34 L340.74 478.4 L340.74 479.46 L340.74 480.53 L340.74 481.59 L340.74 482.65 L340.74 483.72 L340.74 484.78 L340.74 485.85 L340.74 486.91 L340.74 487.97 L340.74 489.04 L340.74 490.1 L340.74 491.16 L340.74 492.23 L340.74 493.29 L340.74 494.36 L340.66 496.3 L340.42 498.24 L340.01 500.16 L339.46 502.05 L338.74 503.92 L337.88 505.74 L336.86 507.51 L335.7 509.23 L334.41 510.88 L332.97 512.47 L331.41 513.97 L329.73 515.39 L327.94 516.72 L326.04 517.96 L324.04 519.09 L321.95 520.12 L319.79 521.04 L317.55 521.84 L315.25 522.53 L312.89 523.09 L310.5 523.53 L308.07 523.85 L305.63 524.04 L303.17 524.11 L301.82 524.11 L300.47 524.11 L299.11 524.11 L297.76 524.11 L296.41 524.11 L295.06 524.11 L293.7 524.11 L292.35 524.11 L291 524.11 L289.65 524.11 L288.29 524.11 L286.94 524.11 L285.59 524.11 L284.24 524.11 L282.88 524.11 L281.53 524.11 L280.18 524.11 L278.83 524.11 L277.47 524.11 L276.12 524.11 L274.77 524.11 L273.42 524.11 L272.06 524.11 L270.71 524.11 L269.36 524.11 L268.01 524.11 L266.66 524.11 L265.3 524.11 L263.95 524.11 L262.6 524.11 L261.25 524.11 L259.89 524.11 L258.54 524.11 L257.19 524.11 L255.84 524.11 L253.38 524.04 L250.93 523.85 L248.51 523.53 L246.11 523.09 L243.76 522.53 L241.46 521.84 L239.22 521.04 L237.05 520.12 L234.97 519.09 L232.97 517.96 L231.07 516.72 L229.27 515.39 L227.59 513.97 L226.03 512.47 L224.6 510.88 L223.3 509.23 L222.14 507.51 L221.13 505.74 L220.26 503.92 L219.55 502.05 L218.99 500.16 L218.59 498.24 L218.35 496.3 L218.27 494.36 L218.27 493.29 L218.27 492.22 L218.27 491.15 L218.27 490.08 L218.27 489.02 L218.27 487.95 L218.27 486.88 L218.27 485.81 L218.27 484.74 L218.27 483.68 L218.27 482.61 L218.27 481.54 L218.27 480.47 L218.27 479.41 L218.27 478.34 L218.27 477.27 L218.27 476.2 L218.27 475.13 L218.27 474.07 L218.27 473 L218.27 471.93 L218.27 470.86 L218.27 469.8 L218.27 468.73 L218.27 467.66 L218.27 466.59 L218.27 465.52 L218.27 464.46 L218.27 463.39 L218.27 462.32 L218.27 461.25 L218.27 460.19 L218.27 459.12 L218.27 458.05 L218.27 456.98 L218.27 455.91 L218.27 454.85 L218.27 453.78 L218.27 452.71 L218.27 451.64 L218.27 450.57 L218.27 449.51 L218.27 448.44 L218.27 447.37 L218.27 446.3 L218.27 445.24 L218.27 444.17 L218.27 443.1 L218.27 442.03 L218.27 440.96 L218.27 439.9 L218.27 438.83 L218.27 437.76 L218.27 436.69 L218.27 435.63 L218.27 434.56 L218.27 433.49 L218.27 432.42 L218.27 431.35 L218.27 430.29 L218.27 429.22 L218.27 428.15 L218.27 427.08 L218.27 426.01 L218.27 424.95 L218.27 423.88 L218.27 422.81 L218.27 421.74 L218.27 420.68 L218.27 419.61 L218.27 418.54 L218.27 417.47 L218.27 416.4 L218.27 415.34 L218.27 414.27 L218.27 413.2 L218.27 412.13 L218.27 411.07 L218.27 410 L218.27 408.93 L218.27 407.86 L218.27 406.79 L218.27 405.73 L218.27 404.66 L218.27 403.59 L218.27 402.52 L218.27 401.46 L218.27 400.39 L218.27 399.32 L218.27 398.25 L218.27 397.18 L218.27 396.12 L218.27 395.05 L218.27 393.98 L218.27 392.91 L218.27 391.85 L218.19 389.9 L217.95 387.96 L217.55 386.04 L216.99 384.15 L216.28 382.28 L215.41 380.46 L214.4 378.69 L213.24 376.97 L211.94 375.32 L210.51 373.73 L208.95 372.23 L207.27 370.81 L205.47 369.48 L203.57 368.24 L201.57 367.11 L199.49 366.08 L197.32 365.16 L195.08 364.36 L192.78 363.67 L190.43 363.11 L188.03 362.67 L185.61 362.35 L183.16 362.16 L180.7 362.1 L179.29 362.1 L177.89 362.1 L176.48 362.1 L175.07 362.1 L173.66 362.1 L172.25 362.1 L170.85 362.1 L169.44 362.1 L168.03 362.1 L166.62 362.1 L165.22 362.1 L163.81 362.1 L162.4 362.1 L160.99 362.1 L159.58 362.1 L158.18 362.1 L156.77 362.1 L154.31 362.16 L151.86 362.35 L149.44 362.67 L147.04 363.11 L144.69 363.67 L142.39 364.36 L140.15 365.16 L137.98 366.08 L135.9 367.11 L133.9 368.24 L132 369.48 L130.2 370.81 L128.52 372.23 L126.96 373.73 L125.53 375.32 L124.23 376.97 L123.07 378.69 L122.06 380.46 L121.19 382.28 L120.48 384.15 L119.92 386.04 L119.52 387.96 L119.28 389.9 L119.2 391.85 L119.2 392.91 L119.2 393.98 L119.2 395.05 L119.2 396.12 L119.2 397.18 L119.2 398.25 L119.2 399.32 L119.2 400.39 L119.2 401.46 L119.2 402.52 L119.2 403.59 L119.2 404.66 L119.2 405.73 L119.2 406.8 L119.2 407.86 L119.2 408.93 L119.2 410 L119.2 411.07 L119.2 412.14 L119.2 413.2 L119.2 414.27 L119.2 415.34 L119.2 416.41 L119.2 417.48 L119.2 418.54 L119.2 419.61 L119.2 420.68 L119.2 421.75 L119.2 422.82 L119.2 423.88 L119.2 424.95 L119.2 426.02 L119.2 427.09 L119.2 428.16 L119.2 429.22 L119.2 430.29 L119.2 431.36 L119.2 432.43 L119.2 433.5 L119.2 434.56 L119.2 435.63 L119.2 436.7 L119.2 437.77 L119.2 438.83 L119.2 439.9 L119.2 440.97 L119.2 442.04 L119.2 443.11 L119.2 444.17 L119.2 445.24 L119.2 446.31 L119.2 447.38 L119.2 448.45 L119.2 449.51 L119.2 450.58 L119.2 451.65 L119.2 452.72 L119.2 453.79 L119.2 454.85 L119.2 455.92 L119.2 456.99 L119.2 458.06 L119.2 459.13 L119.2 460.19 L119.2 461.26 L119.2 462.33 L119.2 463.4 L119.2 464.47 L119.2 465.53 L119.2 466.6 L119.2 467.67 L119.2 468.74 L119.2 469.81 L119.2 470.87 L119.2 471.94 L119.2 473.01 L119.2 474.08 L119.2 475.14 L119.28 477.09 L119.52 479.03 L119.92 480.95 L120.48 482.84 L121.19 484.71 L122.06 486.53 L123.07 488.3 L124.23 490.02 L125.53 491.67 L126.96 493.26 L128.52 494.76 L130.2 496.18 L132 497.51 L133.9 498.75 L135.9 499.88 L137.98 500.91 L140.15 501.83 L142.39 502.63 L144.69 503.32 L147.04 503.88 L149.44 504.32 L151.86 504.64 L154.31 504.83 L156.77 504.89 L158.11 504.89 L159.46 504.89 L160.81 504.89 L162.15 504.89 L163.5 504.89 L164.85 504.89 L166.19 504.89 L167.54 504.89 L168.88 504.89 L170.23 504.89 L171.58 504.89 L172.92 504.89 L174.27 504.89 L175.62 504.89 L176.96 504.89 L178.31 504.89 L179.66 504.89 L181 504.89 L182.35 504.89 L183.69 504.89 L185.04 504.89 L186.39 504.89 L187.73 504.89 L189.08 504.89 L190.43 504.89 L191.77 504.89 L193.12 504.89 L194.46 504.89 L195.81 504.89 L197.16 504.89 L198.5 504.89 L199.85 504.89 L201.2 504.89 L202.54 504.89 L203.89 504.89 L205.24 504.89 L206.58 504.89 L207.93 504.89 L209.27 504.89 L210.62 504.89 L211.97 504.89 L213.31 504.89 L214.66 504.89 L216.01 504.89 L217.35 504.89 L218.7 504.89 L220.05 504.89 L221.39 504.89 L222.74 504.89 L224.08 504.89 L225.43 504.89 L226.78 504.89 L228.12 504.89 L229.47 504.89 L230.82 504.89 L232.16 504.89 L233.51 504.89 L234.85 504.89 L236.2 504.89 L237.55 504.89 L238.89 504.89 L240.24 504.89 L241.59 504.89 L242.93 504.89 L244.28 504.89 L245.63 504.89 L246.97 504.89 L248.32 504.89 L249.66 504.89 L251.01 504.89 L252.36 504.89 L253.7 504.89 L255.05 504.89 L256.4 504.89 L257.74 504.89 L259.09 504.89 L260.44 504.89 L261.78 504.89 L263.13 504.89 L264.47 504.89 L265.82 504.89 L267.17 504.89 L268.51 504.89 L269.86 504.89 L271.21 504.89 L272.55 504.89 L273.9 504.89 L275.24 504.89 L276.59 504.89 L277.94 504.89 L279.28 504.89 L280.63 504.89" fill="none" stroke="#0000ff" stroke-width="2" stroke-linejoin="round" stroke-linecap="butt" stroke-dasharray="5.5 4"/>
<path d="M171.36 569.11 L173.83 563.38 L173.83 562.31 L173.83 561.25 L173.83 560.19 L173.83 559.12 L173.83 558.06 L173.83 557 L173.61 555.94 L173.39 554.88 L173.16 553.81 L172.94 552.75 L172.72 551.69 L172.49 550.62 L172.4 549.56 L172.31 548.5 L172.22 547.44 L172.13 546.38 L172.04 545.31 L171.95 544.25 L171.99 543.19 L172.02 542.12 L172.06 541.06 L172.09 540 L172.12 538.94 L172.16 537.88 L172.19 536.81 L172.22 535.75 L172.22 534.69 L172.22 533.62 L172.22 532.56 L172.22 531.5 L172.22 530.44 L172.22 529.38 L172.22 528.31 L172.22 527.25 L172.63 526.19 L173.03 525.12 L173.43 524.06 L173.83 523 L173.75 521.94 L173.67 520.88 L173.59 519.81 L173.51 518.75 L173.43 517.69 L173.35 516.62 L173.27 515.56 L173.19 514.5 L173.27 513.44 L173.35 512.38 L173.43 511.31 L173.51 510.25 L173.59 509.19 L173.67 508.12 L173.75 507.06 L173.83 506 L173.83 504.94 L173.83 503.88 L173.83 502.81 L173.83 501.75 L173.83 500.69 L173.83 499.62 L173.83 498.56 L173.83 497.5 L173.83 496.44 L173.83 495.38 L173.83 494.31 L173.83 493.25 L173.83 492.19 L173.83 491.12 L173.83 490.06 L173.83 489 L173.83 487.94 L173.83 486.88 L173.83 485.81 L173.83 484.75 L173.83 483.69 L173.83 482.62 L173.83 481.56 L173.83 480.5 L173.83 479.44 L173.83 478.38 L173.83 477.31 L173.83 476.25 L173.83 475.19 L173.83 474.12 L173.83 473.06 L173.83 472 L173.83 470.94 L173.83 469.88 L173.83 468.81 L173.83 467.75 L173.83 466.69 L173.83 465.62 L173.83 464.56 L173.83 463.5 L173.83 462.44 L173.83 461.38 L173.83 460.31 L173.83 459.25 L173.83 458.19 L173.83 457.12 L173.83 456.06 L173.91 454.12 L174.15 452.18 L174.56 450.26 L175.11 448.36 L175.83 446.5 L176.69 444.68 L177.71 442.9 L178.87 441.19 L180.16 439.53 L181.6 437.95 L183.16 436.45 L184.84 435.03 L186.63 433.7 L188.53 432.46 L190.53 431.33 L192.62 430.3 L194.78 429.38 L197.02 428.58 L199.32 427.89 L201.68 427.33 L204.07 426.88 L206.5 426.57 L208.94 426.38 L211.4 426.31 L212.75 426.31 L214.1 426.31 L215.45 426.31 L216.8 426.31 L218.15 426.31 L219.5 426.31 L220.85 426.31 L222.2 426.31 L223.55 426.31 L224.9 426.31 L226.25 426.31 L227.59 426.31 L228.94 426.31 L230.29 426.31 L231.64 426.31 L232.99 426.31 L234.34 426.31 L235.69 426.31 L237.04 426.31 L238.39 426.31 L239.74 426.31 L241.09 426.31 L242.44 426.31 L243.79 426.31 L245.14 426.31 L246.49 426.31 L247.84 426.31 L249.19 426.31 L250.54 426.31 L251.89 426.31 L253.24 426.31 L254.59 426.31 L255.94 426.31 L257.28 426.31 L258.63 426.31 L259.98 426.31 L261.33 426.31 L262.68 426.31 L264.03 426.31 L265.38 426.31 L266.73 426.31 L268.08 426.31 L269.43 426.31 L270.78 426.31 L272.13 426.31 L273.48 426.31 L274.83 426.31 L276.18 426.31 L277.53 426.31 L278.88 426.31 L280.23 426.31 L281.58 426.31 L282.93 426.31 L284.28 426.31 L285.63 426.31 L286.98 426.31 L288.32 426.31 L289.67 426.31 L291.02 426.31 L292.37 426.31 L293.72 426.31 L295.07 426.31 L296.42 426.31 L297.77 426.31 L299.12 426.31 L300.47 426.31 L301.82 426.31 L303.17 426.31 L305.63 426.38 L308.07 426.57 L310.5 426.88 L312.89 427.33 L315.25 427.89 L317.55 428.58 L319.79 429.38 L321.95 430.3 L324.04 431.33 L326.04 432.46 L327.94 433.7 L329.73 435.03 L331.41 436.45 L332.97 437.95 L334.41 439.53 L335.7 441.19 L336.86 442.9 L337.88 444.68 L338.74 446.5 L339.46 448.36 L340.01 450.26 L340.42 452.18 L340.66 454.12 L340.74 456.06 L340.74 457.13 L340.74 458.19 L340.74 459.25 L340.74 460.32 L340.74 461.38 L340.74 462.44 L340.74 463.51 L340.74 464.57 L340.74 465.64 L340.74 466.7 L340.74 467.76 L340.74 468.83 L340.74 469.89 L340.74 470.95 L340.74 472.02 L340.74 473.08 L340.74 474.15 L340.74 475.21 L340.74 476.27 L340.74 477.34 L340.74 478.4 L340.74 479.46 L340.74 480.53 L340.74 481.59 L340.74 482.65 L340.74 483.72 L340.74 484.78 L340.74 485.85 L340.74 486.91 L340.74 487.97 L340.74 489.04 L340.74 490.1 L340.74 491.16 L340.74 492.23 L340.74 493.29 L340.74 494.36 L340.66 496.3 L340.42 498.24 L340.01 500.16 L339.46 502.05 L338.74 503.92 L337.88 505.74 L336.86 507.51 L335.7 509.23 L334.41 510.88 L332.97 512.47 L331.41 513.97 L329.73 515.39 L327.94 516.72 L326.04 517.96 L324.04 519.09 L321.95 520.12 L319.79 521.04 L317.55 521.84 L315.25 522.53 L312.89 523.09 L310.5 523.53 L308.07 523.85 L305.63 524.04 L303.17 524.11 L301.82 524.11 L300.47 524.11 L299.11 524.11 L297.76 524.11 L296.41 524.11 L295.06 524.11 L293.7 524.11 L292.35 524.11 L291 524.11 L289.65 524.11 L288.29 524.11 L286.94 524.11 L285.59 524.11 L284.24 524.11 L282.88 524.11 L281.53 524.11 L280.18 524.11 L278.83 524.11 L277.47 524.11 L276.12 524.11 L274.77 524.11 L273.42 524.11 L272.06 524.11 L270.71 524.11 L269.36 524.11 L268.01 524.11 L266.66 524.11 L265.3 524.11 L263.95 524.11 L262.6 524.11 L261.25 524.11 L259.89 524.11 L258.54 524.11 L257.19 524.11 L255.84 524.11 L253.38 524.04 L250.93 523.85 L248.51 523.53 L246.11 523.09 L243.76 522.53 L241.46 521.84 L239.22 521.04 L237.05 520.12 L234.97 519.09 L232.97 517.96 L231.07 516.72 L229.27 515.39 L227.59 513.97 L226.03 512.47 L224.6 510.88 L223.3 509.23 L222.14 507.51 L221.13 505.74 L220.26 503.92 L219.55 502.05 L218.99 500.16 L218.59 498.24 L218.35 496.3 L218.27 494.36 L218.27 493.29 L218.27 492.22 L218.27 491.15 L218.27 490.08 L218.27 489.02 L218.27 487.95 L218.27 486.88 L218.27 485.81 L218.27 484.74 L218.27 483.68 L218.27 482.61 L218.27 481.54 L218.27 480.47 L218.27 479.41 L218.27 478.34 L218.27 477.27 L218.27 476.2 L218.27 475.13 L218.27 474.07 L218.27 473 L218.27 471.93 L218.27 470.86 L218.27 469.8 L218.27 468.73 L218.27 467.66 L218.27 466.59 L218.27 465.52 L218.27 464.46 L218.27 463.39 L218.27 462.32 L218.27 461.25 L218.27 460.19 L218.27 459.12 L218.27 458.05 L218.27 456.98 L218.27 455.91 L218.27 454.85 L218.27 453.78 L218.27 452.71 L218.27 451.64 L218.27 450.57 L218.27 449.51 L218.27 448.44 L218.27 447.37 L218.27 446.3 L218.27 445.24 L218.27 444.17 L218.27 443.1 L218.27 442.03 L218.27 440.96 L218.27 439.9 L218.27 438.83 L218.27 437.76 L218.27 436.69 L218.27 435.63 L218.27 434.56 L218.27 433.49 L218.27 432.42 L218.27 431.35 L218.27 430.29 L218.27 429.22 L218.27 428.15 L218.27 427.08 L218.27 426.01 L218.27 424.95 L218.27 423.88 L218.27 422.81 L218.27 421.74 L218.27 420.68 L218.27 419.61 L218.27 418.54 L218.27 417.47 L218.27 416.4 L218.27 415.34 L218.27 414.27 L218.27 413.2 L218.27 412.13 L218.27 411.07 L218.27 410 L218.27 408.93 L218.27 407.86 L218.27 406.79 L218.27 405.73 L218.27 404.66 L218.27 403.59 L218.27 402.52 L218.27 401.46 L218.27 400.39 L218.27 399.32 L218.27 398.25 L218.27 397.18 L218.27 396.12 L218.27 395.05 L218.27 393.98 L218.27 392.91 L218.27 391.85 L218.19 389.9 L217.95 387.96 L217.55 386.04 L216.99 384.15 L216.28 382.28 L215.41 380.46 L214.4 378.69 L213.24 376.97 L211.94 375.32 L210.51 373.73 L208.95 372.23 L207.27 370.81 L205.47 369.48 L203.57 368.24 L201.57 367.11 L199.49 366.08 L197.32 365.16 L195.08 364.36 L192.78 363.67 L190.43 363.11 L188.03 362.67 L185.61 362.35 L183.16 362.16 L180.7 362.1 L179.29 362.1 L177.89 362.1 L176.48 362.1 L175.07 362.1 L173.66 362.1 L172.25 362.1 L170.85 362.1 L169.44 362.1 L168.03 362.1 L166.62 362.1 L165.22 362.1 L163.81 362.1 L162.4 362.1 L160.99 362.1 L159.58 362.1 L158.18 362.1 L156.77 362.1 L154.31 362.16 L151.86 362.35 L149.44 362.67 L147.04 363.11 L144.69 363.67 L142.39 364.36 L140.15 365.16 L137.98 366.08 L135.9 367.11 L133.9 368.24 L132 369.48 L130.2 370.81 L128.52 372.23 L126.96 373.73 L125.53 375.32 L124.23 376.97 L123.07 378.69 L122.06 380.46 L121.19 382.28 L120.48 384.15 L119.92 386.04 L119.52 387.96 L119.28 389.9 L119.2 391.85 L119.2 392.91 L119.2 393.98 L119.2 395.05 L119.2 396.12 L119.2 397.18 L119.2 398.25 L119.2 399.32 L119.2 400.39 L119.2 401.46 L119.2 402.52 L119.2 403.59 L119.2 404.66 L119.2 405.73 L119.2 406.8 L119.2 407.86 L119.2 408.93 L119.2 410 L119.2 411.07 L119.2 412.14 L119.2 413.2 L119.2 414.27 L119.2 415.34 L119.2 416.41 L119.2 417.48 L119.2 418.54 L119.2 419.61 L119.2 420.68 L119.2 421.75 L119.2 422.82 L119.2 423.88 L119.2 424.95 L119.2 426.02 L119.2 427.09 L119.2 428.16 L119.2 429.22 L119.2 430.29 L119.2 431.36 L119.2 432.43 L119.2 433.5 L119.2 434.56 L119.2 435.63 L119.2 436.7 L119.2 437.77 L119.2 438.83 L119.2 439.9 L119.2 440.97 L119.2 442.04 L119.2 443.11 L119.2 444.17 L119.2 445.24 L119.2 446.31 L119.2 447.38 L119.2 448.45 L119.2 449.51 L119.2 450.58 L119.2 451.65 L119.2 452.72 L119.2 453.79 L119.2 454.85 L119.2 455.92 L119.2 456.99 L119.2 458.06 L119.2 459.13 L119.2 460.19 L119.2 461.26 L119.2 462.33 L119.2 463.4 L119.2 464.47 L119.2 465.53 L119.2 466.6 L119.2 467.67 L119.2 468.74 L119.2 469.81 L119.2 470.87 L119.2 471.94 L119.2 473.01 L119.2 474.08 L119.2 475.14 L119.28 477.09 L119.52 479.03 L119.92 480.95 L120.48 482.84 L121.19 484.71 L122.06 486.53 L123.07 488.3 L124.23 490.02 L125.53 491.67 L126.96 493.26 L128.52 494.76 L130.2 496.18 L132 497.51 L133.9 498.75 L135.9 499.88 L137.98 500.91 L140.15 501.83 L142.39 502.63 L144.69 503.32 L147.04 503.88 L149.44 504.32 L151.86 504.64 L154.31 504.83 L156.77 504.89 L158.11 504.89 L159.46 504.89 L160.81 504.89 L162.15 504.89 L163.5 504.89 L164.85 504.89 L166.19 504.89 L167.54 504.89 L168.88 504.89 L170.23 504.89 L171.58 504.89 L172.92 504.89 L174.27 504.89 L175.62 504.89 L176.96 504.89 L178.31 504.89 L179.66 504.89 L181 504.89 L182.35 504.89 L183.69 504.89 L185.04 504.89 L186.39 504.89 L187.73 504.89 L189.08 504.89 L190.43 504.89 L191.77 504.89 L193.12 504.89 L194.46 504.89 L195.81 504.89 L197.16 504.89 L198.5 504.89 L199.85 504.89 L201.2 504.89 L202.54 504.89 L203.89 504.89 L205.24 504.89 L206.58 504.89 L207.93 504.89 L209.27 504.89 L210.62 504.89 L211.97 504.89 L213.31 504.89 L214.66 504.89 L216.01 504.89 L217.35 504.89 L218.7 504.89 L220.05 504.89 L221.39 504.89 L222.74 504.89 L224.08 504.89 L225.43 504.89 L226.78 504.89 L228.12 504.89 L229.47 504.89 L230.82 504.89 L232.16 504.89 L233.51 504.89 L234.85 504.89 L236.2 504.89 L237.55 504.89 L238.89 504.89 L240.24 504.89 L241.59 504.89 L242.93 504.89 L244.28 504.89 L245.63 504.89 L246.97 504.89 L248.32 504.89 L249.66 504.89 L251.01 504.89 L252.36 504.89 L253.7 504.89 L255.05 504.89 L256.4 504.89 L257.74 504.89 L259.09 504.89 L260.44 504.89 L261.78 504.89 L263.13 504.89 L264.47 504.89 L265.82 504.89 L267.17 504.89 L268.51 504.89 L269.86 504.89 L271.21 504.89 L272.55 504.89 L273.9 504.89 L275.24 504.89 L276.59 504.89 L277.94 504.89 L279.28 504.89 L280.63 504.89" fill="none" stroke="#ff0000" stroke-width="2" stroke-linejoin="round" stroke-linecap="butt"/>
<circle cx="109.43" cy="353" r="2.75" fill="none" stroke="#ff0000" stroke-width="2.2"/>
<circle cx="372.4" cy="348.75" r="2.75" fill="none" stroke="#ff0000" stroke-width="2.2"/>
<circle cx="104.07" cy="548.5" r="2.75" fill="none" stroke="#ff0000" stroke-width="2.2"/>
<circle cx="361.67" cy="552.75" r="2.75" fill="none" stroke="#ff0000" stroke-width="2.2"/>
<circle cx="124.1" cy="377" r="2.9" fill="none" stroke="#00ff00" stroke-width="2.1"/>
<circle cx="138" cy="368" r="2.9" fill="none" stroke="#00ff00" stroke-width="2.1"/>
<circle cx="159.1" cy="365.5" r="2.9" fill="none" stroke="#00ff00" stroke-width="2.1"/>
<circle cx="179.6" cy="361.2" r="2.9" fill="none" stroke="#00ff00" stroke-width="2.1"/>
<circle cx="199.4" cy="364.6" r="2.9" fill="none" stroke="#00ff00" stroke-width="2.1"/>
<circle cx="214.2" cy="377.5" r="2.9" fill="none" stroke="#00ff00" stroke-width="2.1"/>
<circle cx="218.5" cy="393.6" r="2.9" fill="none" stroke="#00ff00" stroke-width="2.1"/>
<circle cx="218.5" cy="409.9" r="2.9" fill="none" stroke="#00ff00" stroke-width="2.1"/>
<circle cx="120" cy="391.6" r="2.9" fill="none" stroke="#00ff00" stroke-width="2.1"/>
<circle cx="118.6" cy="409.4" r="2.9" fill="none" stroke="#00ff00" stroke-width="2.1"/>
<circle cx="119.5" cy="427.4" r="2.9" fill="none" stroke="#00ff00" stroke-width="2.1"/>
<circle cx="119.1" cy="441.9" r="2.9" fill="none" stroke="#00ff00" stroke-width="2.1"/>
<circle cx="118.6" cy="457.9" r="2.9" fill="none" stroke="#00ff00" stroke-width="2.1"/>
<circle cx="118.8" cy="473.5" r="2.9" fill="none" stroke="#00ff00" stroke-width="2.1"/>
<circle cx="125.3" cy="491.2" r="2.9" fill="none" stroke="#00ff00" stroke-width="2.1"/>
<circle cx="138.8" cy="501.2" r="2.9" fill="none" stroke="#00ff00" stroke-width="2.1"/>
<circle cx="157.4" cy="504.8" r="2.9" fill="none" stroke="#00ff00" stroke-width="2.1"/>
<circle cx="172.7" cy="509.5" r="2.9" fill="none" stroke="#00ff00" stroke-width="2.1"/>
<circle cx="178.2" cy="504.8" r="2.9" fill="none" stroke="#00ff00" stroke-width="2.1"/>
<circle cx="198.6" cy="505.2" r="2.9" fill="none" stroke="#00ff00" stroke-width="2.1"/>
<circle cx="219.9" cy="505.7" r="2.9" fill="none" stroke="#00ff00" stroke-width="2.1"/>
<circle cx="224.5" cy="506.5" r="2.9" fill="none" stroke="#00ff00" stroke-width="2.1"/>
<circle cx="238.2" cy="505.3" r="2.9" fill="none" stroke="#00ff00" stroke-width="2.1"/>
<circle cx="238.2" cy="518.1" r="2.9" fill="none" stroke="#00ff00" stroke-width="2.1"/>
<circle cx="173.7" cy="459.9" r="2.9" fill="none" stroke="#00ff00" stroke-width="2.1"/>
<circle cx="173.7" cy="476.5" r="2.9" fill="none" stroke="#00ff00" stroke-width="2.1"/>
<circle cx="174.1" cy="492.7" r="2.9" fill="none" stroke="#00ff00" stroke-width="2.1"/>
<circle cx="180.4" cy="442.1" r="2.9" fill="none" stroke="#00ff00" stroke-width="2.1"/>
<circle cx="196.2" cy="429.6" r="2.9" fill="none" stroke="#00ff00" stroke-width="2.1"/>
<circle cx="214.5" cy="425.7" r="2.9" fill="none" stroke="#00ff00" stroke-width="2.1"/>
<circle cx="216.5" cy="428.2" r="2.9" fill="none" stroke="#00ff00" stroke-width="2.1"/>
<circle cx="218.2" cy="442.4" r="2.9" fill="none" stroke="#00ff00" stroke-width="2.1"/>
<circle cx="218.5" cy="459" r="2.9" fill="none" stroke="#00ff00" stroke-width="2.1"/>
<circle cx="218.2" cy="476.5" r="2.9" fill="none" stroke="#00ff00" stroke-width="2.1"/>
<circle cx="217.9" cy="492.3" r="2.9" fill="none" stroke="#00ff00" stroke-width="2.1"/>
<circle cx="236.5" cy="426.6" r="2.9" fill="none" stroke="#00ff00" stroke-width="2.1"/>
<circle cx="257.4" cy="426.6" r="2.9" fill="none" stroke="#00ff00" stroke-width="2.1"/>
<circle cx="279.1" cy="425.8" r="2.9" fill="none" stroke="#00ff00" stroke-width="2.1"/>
<circle cx="301.9" cy="425" r="2.9" fill="none" stroke="#00ff00" stroke-width="2.1"/>
<circle cx="321.5" cy="431.3" r="2.9" fill="none" stroke="#00ff00" stroke-width="2.1"/>
<circle cx="335.3" cy="442.5" r="2.9" fill="none" stroke="#00ff00" stroke-width="2.1"/>
<circle cx="340.2" cy="458.8" r="2.9" fill="none" stroke="#00ff00" stroke-width="2.1"/>
<circle cx="340.3" cy="477.4" r="2.9" fill="none" stroke="#00ff00" stroke-width="2.1"/>
<circle cx="341.5" cy="491.6" r="2.9" fill="none" stroke="#00ff00" stroke-width="2.1"/>
<circle cx="334.8" cy="508.6" r="2.9" fill="none" stroke="#00ff00" stroke-width="2.1"/>
<circle cx="319.5" cy="520.2" r="2.9" fill="none" stroke="#00ff00" stroke-width="2.1"/>
<circle cx="298.7" cy="524.5" r="2.9" fill="none" stroke="#00ff00" stroke-width="2.1"/>
<circle cx="278.6" cy="522.4" r="2.9" fill="none" stroke="#00ff00" stroke-width="2.1"/>
<circle cx="257.4" cy="524.5" r="2.9" fill="none" stroke="#00ff00" stroke-width="2.1"/>
<circle cx="258.6" cy="504.9" r="2.9" fill="none" stroke="#00ff00" stroke-width="2.1"/>
<circle cx="274.1" cy="504.9" r="2.9" fill="none" stroke="#00ff00" stroke-width="2.1"/>
<circle cx="280.4" cy="504.9" r="2.9" fill="none" stroke="#00ff00" stroke-width="2.1"/>
<circle cx="172" cy="525.5" r="2.9" fill="none" stroke="#00ff00" stroke-width="2.1"/>
<circle cx="174.5" cy="544.8" r="2.9" fill="none" stroke="#00ff00" stroke-width="2.1"/>
<circle cx="174.6" cy="555.9" r="2.9" fill="none" stroke="#00ff00" stroke-width="2.1"/>
<circle cx="173.7" cy="560.8" r="2.9" fill="none" stroke="#00ff00" stroke-width="2.1"/>
<circle cx="174.2" cy="561.5" r="2.9" fill="none" stroke="#00ff00" stroke-width="2.1"/>
<text transform="translate(227.65,606.85) scale(1.07,1)" y="2.73" font-size="10.5" text-anchor="middle" fill="#111111" stroke="#111111" stroke-width="0.05">x (m)</text>
<rect x="284.5" y="358.5" width="97" height="51" fill="#fff" stroke="#000" stroke-width="1"/>
<path d="M287 365.5 L316.6 365.5" fill="none" stroke="#000" stroke-width="1.6" stroke-linejoin="round" stroke-linecap="butt" stroke-dasharray="1.4 1.3"/>
<text transform="translate(318.8,365.5) scale(1.16,1)" y="2.79" font-size="7.8" text-anchor="start" fill="#000" stroke="#000" stroke-width="0.12">Reference</text>
<path d="M287 377.7 L316.6 377.7" fill="none" stroke="#0000ff" stroke-width="2.3" stroke-linejoin="round" stroke-linecap="butt" stroke-dasharray="5.13 7.1"/>
<text transform="translate(318.8,377.7) scale(1.16,1)" y="2.79" font-size="7.8" text-anchor="start" fill="#000" stroke="#000" stroke-width="0.12">UKF</text>
<path d="M287 389.9 L316.6 389.9" fill="none" stroke="#ff0000" stroke-width="2.3" stroke-linejoin="round" stroke-linecap="butt"/>
<text transform="translate(318.8,389.9) scale(1.16,1)" y="2.79" font-size="7.8" text-anchor="start" fill="#000" stroke="#000" stroke-width="0.12">MCUKF</text>
<circle cx="301.7" cy="402.05" r="2.7" fill="none" stroke="#00ff00" stroke-width="2"/>
<text transform="translate(318.8,402.05) scale(1.16,1)" y="2.79" font-size="7.8" text-anchor="start" fill="#000" stroke="#000" stroke-width="0.12">Measurements</text>
<path d="M545.5 620.5H851.5V860.5H545.5Z M545.5 860.5V857.3 M545.5 620.5V623.7 M596.5 860.5V857.3 M596.5 620.5V623.7 M647.5 860.5V857.3 M647.5 620.5V623.7 M698.5 860.5V857.3 M698.5 620.5V623.7 M749.5 860.5V857.3 M749.5 620.5V623.7 M800.5 860.5V857.3 M800.5 620.5V623.7 M851.5 860.5V857.3 M851.5 620.5V623.7 M545.5 840.5H548.7 M851.5 840.5H848.3 M545.5 800.5H548.7 M851.5 800.5H848.3 M545.5 760.5H548.7 M851.5 760.5H848.3 M545.5 720.5H548.7 M851.5 720.5H848.3 M545.5 680.5H548.7 M851.5 680.5H848.3 M545.5 640.5H548.7 M851.5 640.5H848.3" fill="none" stroke="#000" stroke-width="1"/>
<text transform="translate(545.5,871.5) scale(1.12,1)" y="3.47" font-size="9.7" text-anchor="middle" fill="#111111" stroke="#111111" stroke-width="0.05">-20</text>
<text transform="translate(596.5,871.5) scale(1.12,1)" y="3.47" font-size="9.7" text-anchor="middle" fill="#111111" stroke="#111111" stroke-width="0.05">-10</text>
<text transform="translate(647.5,871.5) scale(1.12,1)" y="3.47" font-size="9.7" text-anchor="middle" fill="#111111" stroke="#111111" stroke-width="0.05">0</text>
<text transform="translate(698.5,871.5) scale(1.12,1)" y="3.47" font-size="9.7" text-anchor="middle" fill="#111111" stroke="#111111" stroke-width="0.05">10</text>
<text transform="translate(749.5,871.5) scale(1.12,1)" y="3.47" font-size="9.7" text-anchor="middle" fill="#111111" stroke="#111111" stroke-width="0.05">20</text>
<text transform="translate(800.5,871.5) scale(1.12,1)" y="3.47" font-size="9.7" text-anchor="middle" fill="#111111" stroke="#111111" stroke-width="0.05">30</text>
<text transform="translate(851.5,871.5) scale(1.12,1)" y="3.47" font-size="9.7" text-anchor="middle" fill="#111111" stroke="#111111" stroke-width="0.05">40</text>
<text transform="translate(542.43,840.5) scale(1.12,1)" y="3.47" font-size="9.7" text-anchor="end" fill="#111111" stroke="#111111" stroke-width="0.05">0</text>
<text transform="translate(542.43,800.5) scale(1.12,1)" y="3.47" font-size="9.7" text-anchor="end" fill="#111111" stroke="#111111" stroke-width="0.05">10</text>
<text transform="translate(542.43,760.5) scale(1.12,1)" y="3.47" font-size="9.7" text-anchor="end" fill="#111111" stroke="#111111" stroke-width="0.05">20</text>
<text transform="translate(542.43,720.5) scale(1.12,1)" y="3.47" font-size="9.7" text-anchor="end" fill="#111111" stroke="#111111" stroke-width="0.05">30</text>
<text transform="translate(542.43,680.5) scale(1.12,1)" y="3.47" font-size="9.7" text-anchor="end" fill="#111111" stroke="#111111" stroke-width="0.05">40</text>
<text transform="translate(542.43,640.5) scale(1.12,1)" y="3.47" font-size="9.7" text-anchor="end" fill="#111111" stroke="#111111" stroke-width="0.05">50</text>
<path d="M647.5 842.5 L647.5 841.5 L647.5 840.5 L647.5 839.5 L647.5 838.5 L647.5 837.5 L647.5 836.5 L647.5 835.5 L647.5 834.5 L647.5 833.5 L647.5 832.5 L647.5 831.5 L647.5 830.5 L647.5 829.5 L647.5 828.5 L647.5 827.5 L647.5 826.5 L647.5 825.5 L647.5 824.5 L647.5 823.5 L647.5 822.5 L647.5 821.5 L647.5 820.5 L647.5 819.5 L647.5 818.5 L647.5 817.5 L647.5 816.5 L647.5 815.5 L647.5 814.5 L647.5 813.5 L647.5 812.5 L647.5 811.5 L647.5 810.5 L647.5 809.5 L647.5 808.5 L647.5 807.5 L647.5 806.5 L647.5 805.5 L647.5 804.5 L647.5 803.5 L647.5 802.5 L647.5 801.5 L647.5 800.5 L647.5 799.5 L647.5 798.5 L647.5 797.5 L647.5 796.5 L647.5 795.5 L647.5 794.5 L647.5 793.5 L647.5 792.5 L647.5 791.5 L647.5 790.5 L647.5 789.5 L647.5 788.5 L647.5 787.5 L647.5 786.5 L647.5 785.5 L647.5 784.5 L647.5 783.5 L647.5 782.5 L647.5 781.5 L647.5 780.5 L647.5 779.5 L647.5 778.5 L647.5 777.5 L647.5 776.5 L647.5 775.5 L647.5 774.5 L647.5 773.5 L647.5 772.5 L647.5 771.5 L647.5 770.5 L647.5 769.5 L647.5 768.5 L647.5 767.5 L647.5 766.5 L647.5 765.5 L647.5 764.5 L647.5 763.5 L647.5 762.5 L647.5 761.5 L647.5 760.5 L647.5 759.5 L647.5 758.5 L647.5 757.5 L647.5 756.5 L647.5 755.5 L647.5 754.5 L647.5 753.5 L647.5 752.5 L647.5 751.5 L647.5 750.5 L647.5 749.5 L647.5 748.5 L647.5 747.5 L647.5 746.5 L647.5 745.5 L647.5 744.5 L647.5 743.5 L647.5 742.5 L647.5 741.5 L647.58 739.67 L647.81 737.85 L648.19 736.04 L648.72 734.25 L649.39 732.5 L650.22 730.78 L651.18 729.12 L652.28 727.5 L653.52 725.94 L654.88 724.45 L656.36 723.04 L657.96 721.7 L659.66 720.45 L661.47 719.29 L663.37 718.22 L665.35 717.25 L667.41 716.39 L669.54 715.63 L671.72 714.99 L673.96 714.45 L676.24 714.04 L678.54 713.74 L680.87 713.56 L683.2 713.5 L684.48 713.5 L685.76 713.5 L687.05 713.5 L688.33 713.5 L689.61 713.5 L690.89 713.5 L692.18 713.5 L693.46 713.5 L694.74 713.5 L696.02 713.5 L697.31 713.5 L698.59 713.5 L699.87 713.5 L701.15 713.5 L702.44 713.5 L703.72 713.5 L705 713.5 L706.29 713.5 L707.57 713.5 L708.85 713.5 L710.13 713.5 L711.41 713.5 L712.7 713.5 L713.98 713.5 L715.26 713.5 L716.54 713.5 L717.83 713.5 L719.11 713.5 L720.39 713.5 L721.67 713.5 L722.96 713.5 L724.24 713.5 L725.52 713.5 L726.8 713.5 L728.09 713.5 L729.37 713.5 L730.65 713.5 L731.93 713.5 L733.22 713.5 L734.5 713.5 L735.78 713.5 L737.07 713.5 L738.35 713.5 L739.63 713.5 L740.91 713.5 L742.2 713.5 L743.48 713.5 L744.76 713.5 L746.04 713.5 L747.33 713.5 L748.61 713.5 L749.89 713.5 L751.17 713.5 L752.45 713.5 L753.74 713.5 L755.02 713.5 L756.3 713.5 L757.59 713.5 L758.87 713.5 L760.15 713.5 L761.43 713.5 L762.72 713.5 L764 713.5 L765.28 713.5 L766.56 713.5 L767.85 713.5 L769.13 713.5 L770.41 713.5 L772.74 713.56 L775.07 713.74 L777.37 714.04 L779.65 714.45 L781.89 714.99 L784.07 715.63 L786.2 716.39 L788.26 717.25 L790.24 718.22 L792.14 719.29 L793.95 720.45 L795.65 721.7 L797.25 723.04 L798.73 724.45 L800.09 725.94 L801.33 727.5 L802.43 729.12 L803.39 730.78 L804.22 732.5 L804.89 734.25 L805.42 736.04 L805.8 737.85 L806.03 739.67 L806.11 741.5 L806.11 742.5 L806.11 743.5 L806.11 744.5 L806.11 745.5 L806.11 746.51 L806.11 747.51 L806.11 748.51 L806.11 749.51 L806.11 750.51 L806.11 751.51 L806.11 752.51 L806.11 753.51 L806.11 754.51 L806.11 755.52 L806.11 756.52 L806.11 757.52 L806.11 758.52 L806.11 759.52 L806.11 760.52 L806.11 761.52 L806.11 762.52 L806.11 763.52 L806.11 764.53 L806.11 765.53 L806.11 766.53 L806.11 767.53 L806.11 768.53 L806.11 769.53 L806.11 770.53 L806.11 771.53 L806.11 772.53 L806.11 773.54 L806.11 774.54 L806.11 775.54 L806.11 776.54 L806.11 777.54 L806.03 779.37 L805.8 781.19 L805.42 783 L804.89 784.79 L804.22 786.54 L803.39 788.26 L802.43 789.92 L801.33 791.54 L800.09 793.1 L798.73 794.59 L797.25 796 L795.65 797.34 L793.95 798.59 L792.14 799.75 L790.24 800.82 L788.26 801.79 L786.2 802.65 L784.07 803.41 L781.89 804.05 L779.65 804.59 L777.37 805 L775.07 805.3 L772.74 805.48 L770.41 805.54 L769.12 805.54 L767.84 805.54 L766.55 805.54 L765.27 805.54 L763.98 805.54 L762.7 805.54 L761.41 805.54 L760.13 805.54 L758.84 805.54 L757.56 805.54 L756.27 805.54 L754.99 805.54 L753.7 805.54 L752.42 805.54 L751.13 805.54 L749.85 805.54 L748.56 805.54 L747.28 805.54 L745.99 805.54 L744.71 805.54 L743.42 805.54 L742.14 805.54 L740.85 805.54 L739.57 805.54 L738.28 805.54 L736.99 805.54 L735.71 805.54 L734.42 805.54 L733.14 805.54 L731.85 805.54 L730.57 805.54 L729.28 805.54 L728 805.54 L726.71 805.54 L725.43 805.54 L723.09 805.48 L720.77 805.3 L718.46 805 L716.19 804.59 L713.95 804.05 L711.77 803.41 L709.64 802.65 L707.58 801.79 L705.59 800.82 L703.7 799.75 L701.89 798.59 L700.18 797.34 L698.59 796 L697.11 794.59 L695.74 793.1 L694.51 791.54 L693.41 789.92 L692.45 788.26 L691.62 786.54 L690.94 784.79 L690.41 783 L690.03 781.19 L689.8 779.37 L689.73 777.54 L689.73 776.53 L689.73 775.53 L689.73 774.52 L689.73 773.52 L689.73 772.51 L689.73 771.51 L689.73 770.5 L689.73 769.5 L689.73 768.5 L689.73 767.49 L689.73 766.49 L689.73 765.48 L689.73 764.48 L689.73 763.47 L689.73 762.47 L689.73 761.46 L689.73 760.46 L689.73 759.45 L689.73 758.44 L689.73 757.44 L689.73 756.43 L689.73 755.43 L689.73 754.42 L689.73 753.42 L689.73 752.41 L689.73 751.41 L689.73 750.4 L689.73 749.4 L689.73 748.39 L689.73 747.39 L689.73 746.38 L689.73 745.38 L689.73 744.38 L689.73 743.37 L689.73 742.37 L689.73 741.36 L689.73 740.36 L689.73 739.35 L689.73 738.35 L689.73 737.34 L689.73 736.34 L689.73 735.33 L689.73 734.33 L689.73 733.32 L689.73 732.32 L689.73 731.31 L689.73 730.31 L689.73 729.3 L689.73 728.3 L689.73 727.29 L689.73 726.28 L689.73 725.28 L689.73 724.27 L689.73 723.27 L689.73 722.26 L689.73 721.26 L689.73 720.25 L689.73 719.25 L689.73 718.25 L689.73 717.24 L689.73 716.24 L689.73 715.23 L689.73 714.23 L689.73 713.22 L689.73 712.22 L689.73 711.21 L689.73 710.21 L689.73 709.2 L689.73 708.2 L689.73 707.19 L689.73 706.18 L689.73 705.18 L689.73 704.17 L689.73 703.17 L689.73 702.16 L689.73 701.16 L689.73 700.15 L689.73 699.15 L689.73 698.14 L689.73 697.14 L689.73 696.13 L689.73 695.13 L689.73 694.12 L689.73 693.12 L689.73 692.12 L689.73 691.11 L689.73 690.11 L689.73 689.1 L689.73 688.1 L689.73 687.09 L689.73 686.09 L689.73 685.08 L689.73 684.08 L689.73 683.07 L689.73 682.07 L689.73 681.06 L689.65 679.23 L689.42 677.41 L689.04 675.6 L688.51 673.81 L687.83 672.06 L687.01 670.34 L686.05 668.68 L684.95 667.06 L683.71 665.5 L682.35 664.01 L680.87 662.6 L679.27 661.26 L677.57 660.01 L675.76 658.85 L673.86 657.78 L671.88 656.81 L669.82 655.95 L667.69 655.19 L665.5 654.55 L663.27 654.01 L660.99 653.6 L658.69 653.3 L656.36 653.12 L654.03 653.06 L652.69 653.06 L651.35 653.06 L650.01 653.06 L648.68 653.06 L647.34 653.06 L646 653.06 L644.66 653.06 L643.32 653.06 L641.99 653.06 L640.65 653.06 L639.31 653.06 L637.97 653.06 L636.63 653.06 L635.3 653.06 L633.96 653.06 L632.62 653.06 L631.28 653.06 L628.95 653.12 L626.62 653.3 L624.32 653.6 L622.04 654.01 L619.81 654.55 L617.62 655.19 L615.49 655.95 L613.43 656.81 L611.45 657.78 L609.55 658.85 L607.74 660.01 L606.04 661.26 L604.44 662.6 L602.96 664.01 L601.6 665.5 L600.36 667.06 L599.26 668.68 L598.3 670.34 L597.48 672.06 L596.8 673.81 L596.27 675.6 L595.89 677.41 L595.66 679.23 L595.58 681.06 L595.58 682.07 L595.58 683.07 L595.58 684.08 L595.58 685.08 L595.58 686.09 L595.58 687.09 L595.58 688.1 L595.58 689.1 L595.58 690.11 L595.58 691.11 L595.58 692.12 L595.58 693.12 L595.58 694.13 L595.58 695.13 L595.58 696.14 L595.58 697.14 L595.58 698.15 L595.58 699.15 L595.58 700.16 L595.58 701.16 L595.58 702.17 L595.58 703.17 L595.58 704.18 L595.58 705.18 L595.58 706.19 L595.58 707.19 L595.58 708.2 L595.58 709.2 L595.58 710.21 L595.58 711.21 L595.58 712.22 L595.58 713.22 L595.58 714.23 L595.58 715.23 L595.58 716.24 L595.58 717.24 L595.58 718.25 L595.58 719.25 L595.58 720.26 L595.58 721.27 L595.58 722.27 L595.58 723.28 L595.58 724.28 L595.58 725.29 L595.58 726.29 L595.58 727.3 L595.58 728.3 L595.58 729.31 L595.58 730.31 L595.58 731.32 L595.58 732.32 L595.58 733.33 L595.58 734.33 L595.58 735.34 L595.58 736.34 L595.58 737.35 L595.58 738.35 L595.58 739.36 L595.58 740.36 L595.58 741.37 L595.58 742.37 L595.58 743.38 L595.58 744.38 L595.58 745.39 L595.58 746.39 L595.58 747.4 L595.58 748.4 L595.58 749.41 L595.58 750.41 L595.58 751.42 L595.58 752.42 L595.58 753.43 L595.58 754.43 L595.58 755.44 L595.58 756.44 L595.58 757.45 L595.58 758.45 L595.58 759.46 L595.66 761.29 L595.89 763.11 L596.27 764.92 L596.8 766.71 L597.48 768.46 L598.3 770.18 L599.26 771.84 L600.36 773.46 L601.6 775.02 L602.96 776.51 L604.44 777.92 L606.04 779.26 L607.74 780.51 L609.55 781.67 L611.45 782.74 L613.43 783.71 L615.49 784.57 L617.62 785.33 L619.81 785.97 L622.04 786.51 L624.32 786.92 L626.62 787.22 L628.95 787.4 L631.28 787.46 L632.56 787.46 L633.84 787.46 L635.12 787.46 L636.4 787.46 L637.68 787.46 L638.96 787.46 L640.24 787.46 L641.52 787.46 L642.8 787.46 L644.08 787.46 L645.36 787.46 L646.64 787.46 L647.91 787.46 L649.19 787.46 L650.47 787.46 L651.75 787.46 L653.03 787.46 L654.31 787.46 L655.59 787.46 L656.87 787.46 L658.15 787.46 L659.43 787.46 L660.71 787.46 L661.99 787.46 L663.27 787.46 L664.55 787.46 L665.83 787.46 L667.11 787.46 L668.39 787.46 L669.67 787.46 L670.94 787.46 L672.22 787.46 L673.5 787.46 L674.78 787.46 L676.06 787.46 L677.34 787.46 L678.62 787.46 L679.9 787.46 L681.18 787.46 L682.46 787.46 L683.74 787.46 L685.02 787.46 L686.3 787.46 L687.58 787.46 L688.86 787.46 L690.14 787.46 L691.42 787.46 L692.69 787.46 L693.97 787.46 L695.25 787.46 L696.53 787.46 L697.81 787.46 L699.09 787.46 L700.37 787.46 L701.65 787.46 L702.93 787.46 L704.21 787.46 L705.49 787.46 L706.77 787.46 L708.05 787.46 L709.33 787.46 L710.61 787.46 L711.89 787.46 L713.17 787.46 L714.45 787.46 L715.72 787.46 L717 787.46 L718.28 787.46 L719.56 787.46 L720.84 787.46 L722.12 787.46 L723.4 787.46 L724.68 787.46 L725.96 787.46 L727.24 787.46 L728.52 787.46 L729.8 787.46 L731.08 787.46 L732.36 787.46 L733.64 787.46 L734.92 787.46 L736.2 787.46 L737.48 787.46 L738.75 787.46 L740.03 787.46 L741.31 787.46 L742.59 787.46 L743.87 787.46 L745.15 787.46 L746.43 787.46 L747.71 787.46 L748.99 787.46" fill="none" stroke="#000" stroke-width="1.3" stroke-linejoin="round" stroke-linecap="butt" stroke-dasharray="1.2 1.2"/>
<path d="M645.15 847.9 L647.5 842.5 L647.5 841.5 L647.5 840.5 L647.5 839.5 L647.5 838.5 L647.5 837.5 L647.5 836.5 L647.29 835.5 L647.08 834.5 L646.86 833.5 L646.65 832.5 L646.44 831.5 L646.23 830.5 L646.14 829.5 L646.05 828.5 L645.97 827.5 L645.88 826.5 L645.8 825.5 L645.72 824.5 L645.75 823.5 L645.78 822.5 L645.81 821.5 L645.84 820.5 L645.87 819.5 L645.91 818.5 L645.94 817.5 L645.97 816.5 L645.97 815.5 L645.97 814.5 L645.97 813.5 L645.97 812.5 L645.97 811.5 L645.97 810.5 L645.97 809.5 L645.97 808.5 L646.35 807.5 L646.74 806.5 L647.12 805.5 L647.5 804.5 L647.42 803.5 L647.35 802.5 L647.27 801.5 L647.19 800.5 L647.12 799.5 L647.04 798.5 L646.96 797.5 L646.89 796.5 L646.96 795.5 L647.04 794.5 L647.12 793.5 L647.19 792.5 L647.27 791.5 L647.35 790.5 L647.42 789.5 L647.5 788.5 L647.5 787.5 L647.5 786.5 L647.5 785.5 L647.5 784.5 L647.5 783.5 L647.5 782.5 L647.5 781.5 L647.5 780.5 L647.5 779.5 L647.5 778.5 L647.5 777.5 L647.5 776.5 L647.5 775.5 L647.5 774.5 L647.5 773.5 L647.5 772.5 L647.5 771.5 L647.5 770.5 L647.5 769.5 L647.5 768.5 L647.5 767.5 L647.5 766.5 L647.5 765.5 L647.5 764.5 L647.5 763.5 L647.5 762.5 L647.75 762.5 L649.03 754.5 L652.09 747.7 L658.21 739.7 L664.33 730.1 L670.96 720.5 L679.63 715.7 L689.83 714.1 L688.33 713.5 L689.61 713.5 L690.89 713.5 L692.18 716.5 L693.46 716.5 L694.74 716.47 L696.02 716.38 L697.31 716.25 L698.59 716.07 L699.87 715.86 L701.15 715.62 L702.44 715.35 L703.72 715.06 L705 714.77 L706.29 714.47 L707.57 714.17 L708.85 713.87 L710.13 713.59 L711.41 713.33 L712.7 713.09 L713.98 712.89 L715.26 712.72 L716.54 712.6 L717.83 712.52 L719.11 712.5 L720.39 712.5 L721.67 712.5 L722.96 712.5 L724.24 712.5 L725.52 712.5 L726.8 712.5 L728.09 712.5 L729.37 712.5 L730.65 712.5 L731.93 712.5 L733.22 712.5 L734.5 712.5 L735.78 712.5 L737.07 712.5 L738.35 712.5 L739.63 712.5 L740.91 712.5 L742.2 712.5 L743.48 712.5 L744.76 712.5 L746.04 712.5 L747.33 712.5 L748.61 712.5 L749.89 712.5 L751.17 712.5 L752.45 712.5 L753.74 712.5 L755.02 712.5 L756.3 712.5 L757.59 712.5 L758.87 712.5 L760.15 712.5 L761.43 712.5 L762.72 712.5 L764 712.5 L765.28 712.5 L766.56 712.5 L767.85 712.5 L769.13 712.5 L770.41 712.5 L772.74 712.5 L775.07 713.74 L777.37 714.04 L779.65 714.45 L781.89 714.99 L784.07 715.63 L786.2 716.39 L788.26 717.25 L790.24 718.22 L792.14 719.29 L793.95 720.45 L795.65 721.7 L797.25 723.04 L798.73 724.45 L800.09 725.94 L801.33 727.5 L802.43 729.12 L803.39 730.78 L804.22 732.5 L804.89 734.25 L805.42 736.04 L805.8 737.85 L806.03 739.67 L806.11 741.5 L806.11 742.5 L806.11 743.5 L806.11 744.5 L806.19 745.5 L806.39 746.51 L806.68 747.51 L807.01 748.51 L807.33 749.51 L807.62 750.51 L807.82 751.51 L807.89 752.51 L807.89 753.51 L807.89 754.51 L807.89 755.52 L807.89 756.52 L807.89 757.52 L807.89 758.52 L807.89 759.52 L807.89 760.52 L807.89 761.52 L807.89 762.52 L807.89 763.52 L807.89 764.53 L807.89 765.53 L807.89 766.53 L807.89 767.53 L807.89 768.53 L807.81 769.53 L807.61 770.53 L807.32 771.53 L806.99 772.53 L806.66 773.54 L806.38 774.54 L806.18 775.54 L806.11 776.54 L806.11 777.54 L806.03 779.37 L805.8 781.19 L805.42 783 L804.89 784.79 L804.22 786.54 L803.39 788.26 L802.43 789.92 L801.33 791.54 L800.09 793.1 L798.73 794.59 L797.25 796 L795.65 797.34 L793.95 798.59 L792.14 799.75 L790.24 800.82 L788.26 801.79 L786.2 802.65 L784.07 803.41 L781.89 804.05 L779.65 804.59 L777.37 805 L775.07 805.3 L772.74 805.48 L770.41 805.54 L769.12 805.54 L767.84 805.54 L766.55 805.54 L765.27 805.54 L763.98 805.54 L762.7 805.54 L761.41 805.54 L760.13 805.54 L758.84 805.54 L757.56 805.54 L756.27 805.54 L754.99 805.54 L753.7 805.54 L752.42 805.54 L751.13 805.54 L749.85 805.54 L748.56 805.54 L747.28 805.54 L745.99 805.54 L744.71 805.54 L743.42 805.54 L742.14 805.54 L740.85 805.54 L739.57 805.54 L738.28 805.54 L736.99 805.54 L735.71 805.54 L734.42 805.54 L733.14 805.54 L731.85 805.54 L730.57 805.54 L729.28 805.54 L728 805.54 L726.71 805.54 L725.43 805.54 L723.09 805.48 L720.77 805.3 L718.46 805 L716.19 804.59 L713.95 804.05 L711.77 803.41 L709.64 802.65 L707.58 801.79 L705.59 800.82 L703.7 799.75 L701.89 798.59 L700.18 797.34 L698.59 796 L697.11 794.59 L695.74 793.1 L694.51 791.54 L693.41 789.92 L692.45 788.26 L691.62 786.54 L690.94 784.79 L690.41 783 L690.03 781.19 L689.8 779.37 L689.73 777.54 L689.73 776.53 L689.73 775.53 L689.73 774.52 L689.73 773.52 L689.73 772.51 L689.73 771.51 L689.73 770.5 L689.73 769.5 L689.73 768.5 L689.88 767.49 L690.29 766.49 L690.87 765.48 L691.53 764.48 L692.19 763.47 L692.76 762.47 L693.16 761.46 L693.3 760.46 L693.3 759.45 L693.3 758.44 L693.3 757.44 L693.3 756.43 L693.3 755.43 L693.3 754.42 L693.3 753.42 L693.3 752.41 L693.3 751.41 L693.3 750.4 L693.3 749.4 L693.3 748.39 L693.3 747.39 L693.3 746.38 L693.3 745.38 L693.3 744.38 L693.3 743.37 L693.3 742.37 L693.3 741.36 L693.3 740.36 L693.3 739.35 L693.3 738.35 L693.3 737.34 L693.3 736.34 L693.3 735.33 L693.3 734.33 L693.3 733.32 L693.3 732.32 L693.3 731.31 L693.3 730.31 L693.3 729.3 L693.29 728.3 L693.08 727.29 L692.63 726.28 L692.03 725.28 L691.36 724.27 L690.72 723.27 L690.17 722.26 L689.82 721.26 L689.73 720.25 L689.73 719.25 L689.73 718.25 L689.73 717.24 L689.73 716.24 L689.73 715.23 L689.73 714.23 L689.73 713.22 L689.73 712.22 L689.73 711.21 L689.73 710.21 L689.73 709.2 L689.73 708.2 L689.73 707.19 L689.73 706.18 L689.73 705.18 L689.73 704.17 L689.73 703.17 L689.73 702.16 L689.73 701.16 L689.73 700.15 L689.73 699.15 L689.73 698.14 L689.73 697.14 L689.73 696.13 L689.73 695.13 L689.73 694.12 L689.73 693.12 L689.73 692.12 L689.73 691.11 L689.73 690.11 L689.73 689.1 L689.73 688.1 L689.73 687.09 L689.73 686.09 L689.73 685.08 L689.73 684.08 L689.73 683.07 L689.73 682.07 L689.73 681.06 L689.65 679.23 L689.42 677.41 L689.04 675.6 L688.51 673.81 L687.83 672.06 L687.01 670.34 L686.05 668.68 L684.95 667.06 L683.71 665.5 L682.35 664.01 L680.87 662.6 L679.27 661.26 L677.57 660.01 L675.76 658.85 L673.86 657.78 L671.88 656.81 L669.82 655.95 L667.69 655.19 L665.5 654.55 L663.27 654.01 L660.99 653.6 L658.69 653.3 L656.36 653.12 L654.03 653.06 L652.69 653.06 L651.35 653.06 L650.01 653.06 L648.68 653.06 L647.34 653.06 L646 653.06 L644.66 653.06 L643.32 653.06 L641.99 653.06 L640.65 653.06 L639.31 653.06 L637.97 653.06 L636.63 653.06 L635.3 653.06 L633.96 653.06 L632.62 653.06 L631.28 653.06 L628.95 653.12 L626.62 653.3 L624.32 653.6 L622.04 654.01 L619.81 654.55 L617.62 655.19 L615.49 655.95 L613.43 656.81 L611.45 657.78 L609.55 658.85 L607.74 660.01 L606.04 661.26 L604.44 662.6 L602.96 664.01 L601.6 665.5 L600.36 667.06 L599.26 668.68 L598.3 670.34 L597.48 672.06 L596.8 673.81 L596.27 675.6 L595.89 677.41 L595.48 679.23 L593.89 681.06 L592.81 682.07 L591.87 683.07 L591.31 684.08 L591.25 685.08 L591.25 686.09 L591.25 687.09 L591.25 688.1 L591.25 689.1 L591.25 690.11 L591.25 691.11 L591.25 692.12 L591.25 693.12 L591.25 694.13 L591.25 695.13 L591.25 696.14 L591.25 697.14 L591.25 698.15 L591.25 699.15 L591.25 700.16 L591.25 701.16 L591.25 702.17 L591.25 703.17 L591.25 704.18 L591.25 705.18 L591.25 706.19 L591.25 707.19 L591.25 708.2 L591.41 709.2 L592.1 710.21 L593.11 711.21 L594.18 712.22 L595.08 713.22 L595.56 714.23 L595.58 715.23 L595.58 716.24 L595.58 717.24 L595.58 718.25 L595.58 719.25 L595.58 720.26 L595.58 721.27 L595.58 722.27 L595.58 723.28 L595.58 724.28 L595.58 725.29 L595.58 726.29 L595.58 727.3 L595.58 728.3 L595.58 729.31 L595.58 730.31 L595.58 731.32 L595.58 732.32 L595.58 733.33 L595.58 734.33 L595.58 735.34 L595.58 736.34 L595.58 737.35 L595.58 738.35 L595.58 739.36 L595.58 740.36 L595.58 741.37 L595.58 742.37 L595.58 743.38 L595.58 744.38 L595.58 745.39 L595.58 746.39 L595.58 747.4 L595.58 748.4 L595.58 749.41 L595.58 750.41 L595.31 751.42 L594.53 752.42 L593.49 753.43 L592.43 754.43 L591.61 755.44 L591.25 756.44 L591.25 757.45 L591.25 758.45 L591.25 759.46 L591.32 761.29 L591.55 763.11 L591.93 764.92 L592.46 766.71 L593.14 768.46 L593.96 770.18 L596.52 772.91 L597.71 774.66 L599.05 776.35 L600.53 777.97 L602.14 779.5 L603.87 780.96 L605.73 782.32 L607.69 783.58 L609.76 784.73 L612.06 785.57 L614.51 786.13 L616.98 786.53 L619.43 786.84 L621.84 787.1 L624.22 787.32 L626.58 787.5 L628.93 787.61 L631.28 787.65 L632.56 787.46 L633.84 787.46 L635.12 787.46 L636.4 787.46 L637.68 787.46 L638.96 787.46 L640.24 787.46 L641.52 787.46 L642.8 787.46 L644.08 787.46 L645.36 787.46 L646.64 787.46 L647.91 787.46 L649.19 787.46 L650.47 787.46 L651.75 787.46 L653.03 787.46 L654.31 787.46 L655.59 787.46 L656.87 787.46 L658.15 787.46 L659.43 787.46 L660.71 787.46 L661.99 787.46 L663.27 787.46 L664.55 787.46 L665.83 787.46 L667.11 787.46 L668.39 787.46 L669.67 787.46 L670.94 787.46 L672.22 787.46 L673.5 787.46 L674.78 787.46 L676.06 787.46 L677.34 787.46 L678.62 787.46 L679.9 787.46 L681.18 787.46 L682.46 787.46 L683.74 787.46 L685.02 787.46 L686.3 787.46 L687.58 787.46 L688.86 787.46 L690.14 787.46 L691.42 787.46 L692.69 787.46 L693.97 787.46 L695.25 787.46 L696.53 787.46 L697.81 787.46 L699.09 787.46 L700.37 787.46 L701.65 787.46 L702.93 787.46 L704.21 787.46 L705.49 787.46 L706.77 787.46 L708.05 787.46 L709.33 787.46 L710.61 787.46 L711.89 787.46 L713.17 787.46 L714.45 787.46 L715.72 787.46 L717 787.46 L718.28 787.46 L719.56 787.46 L720.84 787.46 L722.12 787.46 L723.4 787.46 L724.68 787.46 L725.96 787.46 L727.24 787.46 L728.52 787.46 L729.8 787.46 L731.08 787.46 L732.36 787.46 L733.64 787.46 L734.92 787.46 L736.2 787.46 L737.48 787.46 L738.75 787.46 L740.03 787.46 L741.31 787.46 L742.59 787.46 L743.87 787.46 L745.15 787.46 L746.43 787.46 L747.71 787.46 L748.99 787.46" fill="none" stroke="#0000ff" stroke-width="2" stroke-linejoin="round" stroke-linecap="butt" stroke-dasharray="5.5 4"/>
<path d="M645.15 847.9 L647.5 842.5 L647.5 841.5 L647.5 840.5 L647.5 839.5 L647.5 838.5 L647.5 837.5 L647.5 836.5 L647.29 835.5 L647.08 834.5 L646.86 833.5 L646.65 832.5 L646.44 831.5 L646.23 830.5 L646.14 829.5 L646.05 828.5 L645.97 827.5 L645.88 826.5 L645.8 825.5 L645.72 824.5 L645.75 823.5 L645.78 822.5 L645.81 821.5 L645.84 820.5 L645.87 819.5 L645.91 818.5 L645.94 817.5 L645.97 816.5 L645.97 815.5 L645.97 814.5 L645.97 813.5 L645.97 812.5 L645.97 811.5 L645.97 810.5 L645.97 809.5 L645.97 808.5 L646.35 807.5 L646.74 806.5 L647.12 805.5 L647.5 804.5 L647.42 803.5 L647.35 802.5 L647.27 801.5 L647.19 800.5 L647.12 799.5 L647.04 798.5 L646.96 797.5 L646.89 796.5 L646.96 795.5 L647.04 794.5 L647.12 793.5 L647.19 792.5 L647.27 791.5 L647.35 790.5 L647.42 789.5 L647.5 788.5 L647.5 787.5 L647.5 786.5 L647.5 785.5 L647.5 784.5 L647.5 783.5 L647.5 782.5 L647.5 781.5 L647.5 780.5 L647.5 779.5 L647.5 778.5 L647.5 777.5 L647.5 776.5 L647.5 775.5 L647.5 774.5 L647.5 773.5 L647.5 772.5 L647.5 771.5 L647.5 770.5 L647.5 769.5 L647.5 768.5 L647.5 767.5 L647.5 766.5 L647.5 765.5 L647.5 764.5 L647.5 763.5 L647.5 762.5 L647.5 761.5 L647.5 760.5 L647.5 759.5 L647.5 758.5 L647.5 757.5 L647.5 756.5 L647.5 755.5 L647.5 754.5 L647.5 753.5 L647.5 752.5 L647.5 751.5 L647.5 750.5 L647.5 749.5 L647.5 748.5 L647.5 747.5 L647.5 746.5 L647.5 745.5 L647.5 744.5 L647.5 743.5 L647.5 742.5 L647.5 741.5 L647.58 739.67 L647.81 737.85 L648.19 736.04 L648.72 734.25 L649.39 732.5 L650.22 730.78 L651.18 729.12 L652.28 727.5 L653.52 725.94 L654.88 724.45 L656.36 723.04 L657.96 721.7 L659.66 720.45 L661.47 719.29 L663.37 718.22 L665.35 717.25 L667.41 716.39 L669.54 715.63 L671.72 714.99 L673.96 714.45 L676.24 714.04 L678.54 713.74 L680.87 713.56 L683.2 713.5 L684.48 713.5 L685.76 713.5 L687.05 713.5 L688.33 713.5 L689.61 713.5 L690.89 713.5 L692.18 713.5 L693.46 713.5 L694.74 713.5 L696.02 713.5 L697.31 713.5 L698.59 713.5 L699.87 713.5 L701.15 713.5 L702.44 713.5 L703.72 713.5 L705 713.5 L706.29 713.5 L707.57 713.5 L708.85 713.5 L710.13 713.5 L711.41 713.5 L712.7 713.5 L713.98 713.5 L715.26 713.5 L716.54 713.5 L717.83 713.5 L719.11 713.5 L720.39 713.5 L721.67 713.5 L722.96 713.5 L724.24 713.5 L725.52 713.5 L726.8 713.5 L728.09 713.5 L729.37 713.5 L730.65 713.5 L731.93 713.5 L733.22 713.5 L734.5 713.5 L735.78 713.5 L737.07 713.5 L738.35 713.5 L739.63 713.5 L740.91 713.5 L742.2 713.5 L743.48 713.5 L744.76 713.5 L746.04 713.5 L747.33 713.5 L748.61 713.5 L749.89 713.5 L751.17 713.5 L752.45 713.5 L753.74 713.5 L755.02 713.5 L756.3 713.5 L757.59 713.5 L758.87 713.5 L760.15 713.5 L761.43 713.5 L762.72 713.5 L764 713.5 L765.28 713.5 L766.56 713.5 L767.85 713.5 L769.13 713.5 L770.41 713.5 L772.74 713.56 L775.07 713.74 L777.37 714.04 L779.65 714.45 L781.89 714.99 L784.07 715.63 L786.2 716.39 L788.26 717.25 L790.24 718.22 L792.14 719.29 L793.95 720.45 L795.65 721.7 L797.25 723.04 L798.73 724.45 L800.09 725.94 L801.33 727.5 L802.43 729.12 L803.39 730.78 L804.22 732.5 L804.89 734.25 L805.42 736.04 L805.8 737.85 L806.03 739.67 L806.11 741.5 L806.11 742.5 L806.11 743.5 L806.11 744.5 L806.11 745.5 L806.11 746.51 L806.11 747.51 L806.11 748.51 L806.11 749.51 L806.11 750.51 L806.11 751.51 L806.11 752.51 L806.11 753.51 L806.11 754.51 L806.11 755.52 L806.11 756.52 L806.11 757.52 L806.11 758.52 L806.11 759.52 L806.11 760.52 L806.11 761.52 L806.11 762.52 L806.11 763.52 L806.11 764.53 L806.11 765.53 L806.11 766.53 L806.11 767.53 L806.11 768.53 L806.11 769.53 L806.11 770.53 L806.11 771.53 L806.11 772.53 L806.11 773.54 L806.11 774.54 L806.11 775.54 L806.11 776.54 L806.11 777.54 L806.03 779.37 L805.8 781.19 L805.42 783 L804.89 784.79 L804.22 786.54 L803.39 788.26 L802.43 789.92 L801.33 791.54 L800.09 793.1 L798.73 794.59 L797.25 796 L795.65 797.34 L793.95 798.59 L792.14 799.75 L790.24 800.82 L788.26 801.79 L786.2 802.65 L784.07 803.41 L781.89 804.05 L779.65 804.59 L777.37 805 L775.07 805.3 L772.74 805.48 L770.41 805.54 L769.12 805.54 L767.84 805.54 L766.55 805.54 L765.27 805.54 L763.98 805.54 L762.7 805.54 L761.41 805.54 L760.13 805.54 L758.84 805.54 L757.56 805.54 L756.27 805.54 L754.99 805.54 L753.7 805.54 L752.42 805.54 L751.13 805.54 L749.85 805.54 L748.56 805.54 L747.28 805.54 L745.99 805.54 L744.71 805.54 L743.42 805.54 L742.14 805.54 L740.85 805.54 L739.57 805.54 L738.28 805.54 L736.99 805.54 L735.71 805.54 L734.42 805.54 L733.14 805.54 L731.85 805.54 L730.57 805.54 L729.28 805.54 L728 805.54 L726.71 805.54 L725.43 805.54 L723.09 805.48 L720.77 805.3 L718.46 805 L716.19 804.59 L713.95 804.05 L711.77 803.41 L709.64 802.65 L707.58 801.79 L705.59 800.82 L703.7 799.75 L701.89 798.59 L700.18 797.34 L698.59 796 L697.11 794.59 L695.74 793.1 L694.51 791.54 L693.41 789.92 L692.45 788.26 L691.62 786.54 L690.94 784.79 L690.41 783 L690.03 781.19 L689.8 779.37 L689.73 777.54 L689.73 776.53 L689.73 775.53 L689.73 774.52 L689.73 773.52 L689.73 772.51 L689.73 771.51 L689.73 770.5 L689.73 769.5 L689.73 768.5 L689.73 767.49 L689.73 766.49 L689.73 765.48 L689.73 764.48 L689.73 763.47 L689.73 762.47 L689.73 761.46 L689.73 760.46 L689.73 759.45 L689.73 758.44 L689.73 757.44 L689.73 756.43 L689.73 755.43 L689.73 754.42 L689.73 753.42 L689.73 752.41 L689.73 751.41 L689.73 750.4 L689.73 749.4 L689.73 748.39 L689.73 747.39 L689.73 746.38 L689.73 745.38 L689.73 744.38 L689.73 743.37 L689.73 742.37 L689.73 741.36 L689.73 740.36 L689.73 739.35 L689.73 738.35 L689.73 737.34 L689.73 736.34 L689.73 735.33 L689.73 734.33 L689.73 733.32 L689.73 732.32 L689.73 731.31 L689.73 730.31 L689.73 729.3 L689.73 728.3 L689.73 727.29 L689.73 726.28 L689.73 725.28 L689.73 724.27 L689.73 723.27 L689.73 722.26 L689.73 721.26 L689.73 720.25 L689.73 719.25 L689.73 718.25 L689.73 717.24 L689.73 716.24 L689.73 715.23 L689.73 714.23 L689.73 713.22 L689.73 712.22 L689.73 711.21 L689.73 710.21 L689.73 709.2 L689.73 708.2 L689.73 707.19 L689.73 706.18 L689.73 705.18 L689.73 704.17 L689.73 703.17 L689.73 702.16 L689.73 701.16 L689.73 700.15 L689.73 699.15 L689.73 698.14 L689.73 697.14 L689.73 696.13 L689.73 695.13 L689.73 694.12 L689.73 693.12 L689.73 692.12 L689.73 691.11 L689.73 690.11 L689.73 689.1 L689.73 688.1 L689.73 687.09 L689.73 686.09 L689.73 685.08 L689.73 684.08 L689.73 683.07 L689.73 682.07 L689.73 681.06 L689.65 679.23 L689.42 677.41 L689.04 675.6 L688.51 673.81 L687.83 672.06 L687.01 670.34 L686.05 668.68 L684.95 667.06 L683.71 665.5 L682.35 664.01 L680.87 662.6 L679.27 661.26 L677.57 660.01 L675.76 658.85 L673.86 657.78 L671.88 656.81 L669.82 655.95 L667.69 655.19 L665.5 654.55 L663.27 654.01 L660.99 653.6 L658.69 653.3 L656.36 653.12 L654.03 653.06 L652.69 653.06 L651.35 653.06 L650.01 653.06 L648.68 653.06 L647.34 653.06 L646 653.06 L644.66 653.06 L643.32 653.06 L641.99 653.06 L640.65 653.06 L639.31 653.06 L637.97 653.06 L636.63 653.06 L635.3 653.06 L633.96 653.06 L632.62 653.06 L631.28 653.06 L628.95 653.12 L626.62 653.3 L624.32 653.6 L622.04 654.01 L619.81 654.55 L617.62 655.19 L615.49 655.95 L613.43 656.81 L611.45 657.78 L609.55 658.85 L607.74 660.01 L606.04 661.26 L604.44 662.6 L602.96 664.01 L601.6 665.5 L600.36 667.06 L599.26 668.68 L598.3 670.34 L597.48 672.06 L596.8 673.81 L596.27 675.6 L595.89 677.41 L595.66 679.23 L595.58 681.06 L595.58 682.07 L595.58 683.07 L595.58 684.08 L595.58 685.08 L595.58 686.09 L595.58 687.09 L595.58 688.1 L595.58 689.1 L595.58 690.11 L595.58 691.11 L595.58 692.12 L595.58 693.12 L595.58 694.13 L595.58 695.13 L595.58 696.14 L595.58 697.14 L595.58 698.15 L595.58 699.15 L595.58 700.16 L595.58 701.16 L595.58 702.17 L595.58 703.17 L595.58 704.18 L595.58 705.18 L595.58 706.19 L595.58 707.19 L595.58 708.2 L595.58 709.2 L595.58 710.21 L595.58 711.21 L595.58 712.22 L595.58 713.22 L595.58 714.23 L595.58 715.23 L595.58 716.24 L595.58 717.24 L595.58 718.25 L595.58 719.25 L595.58 720.26 L595.58 721.27 L595.58 722.27 L595.58 723.28 L595.58 724.28 L595.58 725.29 L595.58 726.29 L595.58 727.3 L595.58 728.3 L595.58 729.31 L595.58 730.31 L595.58 731.32 L595.58 732.32 L595.58 733.33 L595.58 734.33 L595.58 735.34 L595.58 736.34 L595.58 737.35 L595.58 738.35 L595.58 739.36 L595.58 740.36 L595.58 741.37 L595.58 742.37 L595.58 743.38 L595.58 744.38 L595.58 745.39 L595.58 746.39 L595.58 747.4 L595.58 748.4 L595.58 749.41 L595.58 750.41 L595.58 751.42 L595.58 752.42 L595.58 753.43 L595.58 754.43 L595.58 755.44 L595.58 756.44 L595.58 757.45 L595.58 758.45 L595.58 759.46 L595.66 761.29 L595.89 763.11 L596.27 764.92 L596.8 766.71 L597.48 768.46 L598.3 770.18 L599.26 771.84 L600.36 773.46 L601.6 775.02 L602.96 776.51 L604.44 777.92 L606.04 779.26 L607.74 780.51 L609.55 781.67 L611.45 782.74 L613.43 783.71 L615.49 784.57 L617.62 785.33 L619.81 785.97 L622.04 786.51 L624.32 786.92 L626.62 787.22 L628.95 787.4 L631.28 787.46 L632.56 787.46 L633.84 787.46 L635.12 787.46 L636.4 787.46 L637.68 787.46 L638.96 787.46 L640.24 787.46 L641.52 787.46 L642.8 787.46 L644.08 787.46 L645.36 787.46 L646.64 787.46 L647.91 787.46 L649.19 787.46 L650.47 787.46 L651.75 787.46 L653.03 787.46 L654.31 787.46 L655.59 787.46 L656.87 787.46 L658.15 787.46 L659.43 787.46 L660.71 787.46 L661.99 787.46 L663.27 787.46 L664.55 787.46 L665.83 787.46 L667.11 787.46 L668.39 787.46 L669.67 787.46 L670.94 787.46 L672.22 787.46 L673.5 787.46 L674.78 787.46 L676.06 787.46 L677.34 787.46 L678.62 787.46 L679.9 787.46 L681.18 787.46 L682.46 787.46 L683.74 787.46 L685.02 787.46 L686.3 787.46 L687.58 787.46 L688.86 787.46 L690.14 787.46 L691.42 787.46 L692.69 787.46 L693.97 787.46 L695.25 787.46 L696.53 787.46 L697.81 787.46 L699.09 787.46 L700.37 787.46 L701.65 787.46 L702.93 787.46 L704.21 787.46 L705.49 787.46 L706.77 787.46 L708.05 787.46 L709.33 787.46 L710.61 787.46 L711.89 787.46 L713.17 787.46 L714.45 787.46 L715.72 787.46 L717 787.46 L718.28 787.46 L719.56 787.46 L720.84 787.46 L722.12 787.46 L723.4 787.46 L724.68 787.46 L725.96 787.46 L727.24 787.46 L728.52 787.46 L729.8 787.46 L731.08 787.46 L732.36 787.46 L733.64 787.46 L734.92 787.46 L736.2 787.46 L737.48 787.46 L738.75 787.46 L740.03 787.46 L741.31 787.46 L742.59 787.46 L743.87 787.46 L745.15 787.46 L746.43 787.46 L747.71 787.46 L748.99 787.46" fill="none" stroke="#ff0000" stroke-width="2" stroke-linejoin="round" stroke-linecap="butt"/>
<circle cx="586.3" cy="644.5" r="2.75" fill="none" stroke="#ff0000" stroke-width="2.2"/>
<circle cx="836.2" cy="640.5" r="2.75" fill="none" stroke="#ff0000" stroke-width="2.2"/>
<circle cx="581.2" cy="828.5" r="2.75" fill="none" stroke="#ff0000" stroke-width="2.2"/>
<circle cx="826" cy="832.5" r="2.75" fill="none" stroke="#ff0000" stroke-width="2.2"/>
<circle cx="613.6" cy="654.6" r="2.9" fill="none" stroke="#00ff00" stroke-width="2.1"/>
<circle cx="631.9" cy="655.5" r="2.9" fill="none" stroke="#00ff00" stroke-width="2.1"/>
<circle cx="650.2" cy="658.3" r="2.9" fill="none" stroke="#00ff00" stroke-width="2.1"/>
<circle cx="672.4" cy="651.7" r="2.9" fill="none" stroke="#00ff00" stroke-width="2.1"/>
<circle cx="600.3" cy="668.8" r="2.9" fill="none" stroke="#00ff00" stroke-width="2.1"/>
<circle cx="682.5" cy="670.5" r="2.9" fill="none" stroke="#00ff00" stroke-width="2.1"/>
<circle cx="689" cy="681.6" r="2.9" fill="none" stroke="#00ff00" stroke-width="2.1"/>
<circle cx="689" cy="699.1" r="2.9" fill="none" stroke="#00ff00" stroke-width="2.1"/>
<circle cx="586.1" cy="691.6" r="2.9" fill="none" stroke="#00ff00" stroke-width="2.1"/>
<circle cx="595.5" cy="698.6" r="2.9" fill="none" stroke="#00ff00" stroke-width="2.1"/>
<circle cx="595.8" cy="714.9" r="2.9" fill="none" stroke="#00ff00" stroke-width="2.1"/>
<circle cx="594.1" cy="729.1" r="2.9" fill="none" stroke="#00ff00" stroke-width="2.1"/>
<circle cx="595.3" cy="743.5" r="2.9" fill="none" stroke="#00ff00" stroke-width="2.1"/>
<circle cx="582.5" cy="750.4" r="2.9" fill="none" stroke="#00ff00" stroke-width="2.1"/>
<circle cx="600" cy="775.7" r="2.9" fill="none" stroke="#00ff00" stroke-width="2.1"/>
<circle cx="613.3" cy="784.5" r="2.9" fill="none" stroke="#00ff00" stroke-width="2.1"/>
<circle cx="632.4" cy="787.8" r="2.9" fill="none" stroke="#00ff00" stroke-width="2.1"/>
<circle cx="646.2" cy="791.5" r="2.9" fill="none" stroke="#00ff00" stroke-width="2.1"/>
<circle cx="651.1" cy="787.8" r="2.9" fill="none" stroke="#00ff00" stroke-width="2.1"/>
<circle cx="669.9" cy="788.7" r="2.9" fill="none" stroke="#00ff00" stroke-width="2.1"/>
<circle cx="688.5" cy="787.8" r="2.9" fill="none" stroke="#00ff00" stroke-width="2.1"/>
<circle cx="694" cy="790.3" r="2.9" fill="none" stroke="#00ff00" stroke-width="2.1"/>
<circle cx="708.5" cy="787.3" r="2.9" fill="none" stroke="#00ff00" stroke-width="2.1"/>
<circle cx="665.9" cy="715.4" r="2.9" fill="none" stroke="#00ff00" stroke-width="2.1"/>
<circle cx="653.2" cy="728.6" r="2.9" fill="none" stroke="#00ff00" stroke-width="2.1"/>
<circle cx="684" cy="713.7" r="2.9" fill="none" stroke="#00ff00" stroke-width="2.1"/>
<circle cx="688.5" cy="713.2" r="2.9" fill="none" stroke="#00ff00" stroke-width="2.1"/>
<circle cx="689.9" cy="729.1" r="2.9" fill="none" stroke="#00ff00" stroke-width="2.1"/>
<circle cx="693.2" cy="728.6" r="2.9" fill="none" stroke="#00ff00" stroke-width="2.1"/>
<circle cx="689.4" cy="744.5" r="2.9" fill="none" stroke="#00ff00" stroke-width="2.1"/>
<circle cx="694.9" cy="760.2" r="2.9" fill="none" stroke="#00ff00" stroke-width="2.1"/>
<circle cx="689" cy="775.7" r="2.9" fill="none" stroke="#00ff00" stroke-width="2.1"/>
<circle cx="649.9" cy="756.2" r="2.9" fill="none" stroke="#00ff00" stroke-width="2.1"/>
<circle cx="647.4" cy="760.7" r="2.9" fill="none" stroke="#00ff00" stroke-width="2.1"/>
<circle cx="646.9" cy="775.7" r="2.9" fill="none" stroke="#00ff00" stroke-width="2.1"/>
<circle cx="726.6" cy="713.3" r="2.9" fill="none" stroke="#00ff00" stroke-width="2.1"/>
<circle cx="746.1" cy="713.3" r="2.9" fill="none" stroke="#00ff00" stroke-width="2.1"/>
<circle cx="769.1" cy="713.3" r="2.9" fill="none" stroke="#00ff00" stroke-width="2.1"/>
<circle cx="799" cy="731.3" r="2.9" fill="none" stroke="#00ff00" stroke-width="2.1"/>
<circle cx="806.2" cy="743.3" r="2.9" fill="none" stroke="#00ff00" stroke-width="2.1"/>
<circle cx="805.7" cy="760.8" r="2.9" fill="none" stroke="#00ff00" stroke-width="2.1"/>
<circle cx="798.2" cy="779.1" r="2.9" fill="none" stroke="#00ff00" stroke-width="2.1"/>
<circle cx="800.7" cy="790.7" r="2.9" fill="none" stroke="#00ff00" stroke-width="2.1"/>
<circle cx="787.4" cy="801.5" r="2.9" fill="none" stroke="#00ff00" stroke-width="2.1"/>
<circle cx="765.2" cy="806.5" r="2.9" fill="none" stroke="#00ff00" stroke-width="2.1"/>
<circle cx="746.3" cy="804.9" r="2.9" fill="none" stroke="#00ff00" stroke-width="2.1"/>
<circle cx="726.9" cy="805.2" r="2.9" fill="none" stroke="#00ff00" stroke-width="2.1"/>
<circle cx="773.6" cy="734.6" r="2.9" fill="none" stroke="#00ff00" stroke-width="2.1"/>
<circle cx="728.6" cy="787.9" r="2.9" fill="none" stroke="#00ff00" stroke-width="2.1"/>
<circle cx="741.9" cy="787.4" r="2.9" fill="none" stroke="#00ff00" stroke-width="2.1"/>
<circle cx="744.9" cy="789.6" r="2.9" fill="none" stroke="#00ff00" stroke-width="2.1"/>
<circle cx="708.6" cy="802.4" r="2.9" fill="none" stroke="#00ff00" stroke-width="2.1"/>
<circle cx="647.7" cy="808.2" r="2.9" fill="none" stroke="#00ff00" stroke-width="2.1"/>
<circle cx="646" cy="824.8" r="2.9" fill="none" stroke="#00ff00" stroke-width="2.1"/>
<circle cx="647.3" cy="836.8" r="2.9" fill="none" stroke="#00ff00" stroke-width="2.1"/>
<circle cx="646.4" cy="841.3" r="2.9" fill="none" stroke="#00ff00" stroke-width="2.1"/>
<circle cx="646.8" cy="842.5" r="2.9" fill="none" stroke="#00ff00" stroke-width="2.1"/>
<circle cx="645.9" cy="840.2" r="2.9" fill="none" stroke="#00ff00" stroke-width="2.1"/>
<text transform="translate(698.3,885.2) scale(1.04,1)" y="2.68" font-size="10.3" text-anchor="middle" fill="#111111" stroke="#111111" stroke-width="0.05">E (m)</text>
<rect x="751.5" y="651.5" width="92" height="48" fill="#fff" stroke="#000" stroke-width="1"/>
<path d="M754.2 658.4 L781.6 658.4" fill="none" stroke="#000" stroke-width="1.6" stroke-linejoin="round" stroke-linecap="butt" stroke-dasharray="1.4 1.3"/>
<text transform="translate(784.3,658.4) scale(0.98,1)" y="3.08" font-size="8.6" text-anchor="start" fill="#000" stroke="#000" stroke-width="0.12">Reference</text>
<path d="M754.2 669.6 L781.6 669.6" fill="none" stroke="#0000ff" stroke-width="2.3" stroke-linejoin="round" stroke-linecap="butt" stroke-dasharray="4.75 6.58"/>
<text transform="translate(784.3,669.6) scale(0.98,1)" y="3.08" font-size="8.6" text-anchor="start" fill="#000" stroke="#000" stroke-width="0.12">UKF</text>
<path d="M754.2 680.8 L781.6 680.8" fill="none" stroke="#ff0000" stroke-width="2.3" stroke-linejoin="round" stroke-linecap="butt"/>
<text transform="translate(784.3,680.8) scale(0.98,1)" y="3.08" font-size="8.6" text-anchor="start" fill="#000" stroke="#000" stroke-width="0.12">MCUKF</text>
<circle cx="768.2" cy="691.65" r="2.7" fill="none" stroke="#00ff00" stroke-width="2"/>
<text transform="translate(784.3,691.65) scale(0.98,1)" y="3.08" font-size="8.6" text-anchor="start" fill="#000" stroke="#000" stroke-width="0.12">Measurements</text>
<path d="M68.5 661.5H391.5V916.5H68.5Z M68.5 916.5V913.3 M68.5 661.5V664.7 M122.5 916.5V913.3 M122.5 661.5V664.7 M176.5 916.5V913.3 M176.5 661.5V664.7 M230.5 916.5V913.3 M230.5 661.5V664.7 M283.5 916.5V913.3 M283.5 661.5V664.7 M337.5 916.5V913.3 M337.5 661.5V664.7 M391.5 916.5V913.3 M391.5 661.5V664.7 M68.5 916.5H71.7 M391.5 916.5H388.3 M68.5 888.5H71.7 M391.5 888.5H388.3 M68.5 859.5H71.7 M391.5 859.5H388.3 M68.5 831.5H71.7 M391.5 831.5H388.3 M68.5 803.5H71.7 M391.5 803.5H388.3 M68.5 774.5H71.7 M391.5 774.5H388.3 M68.5 746.5H71.7 M391.5 746.5H388.3 M68.5 718.5H71.7 M391.5 718.5H388.3 M68.5 689.5H71.7 M391.5 689.5H388.3 M68.5 661.5H71.7 M391.5 661.5H388.3" fill="none" stroke="#000" stroke-width="1"/>
<text transform="translate(68.5,926.7) scale(1.03,1)" y="3.54" font-size="9.9" text-anchor="middle" fill="#111111" stroke="#111111" stroke-width="0.05">0</text>
<text transform="translate(122.33,926.7) scale(1.03,1)" y="3.54" font-size="9.9" text-anchor="middle" fill="#111111" stroke="#111111" stroke-width="0.05">10</text>
<text transform="translate(176.17,926.7) scale(1.03,1)" y="3.54" font-size="9.9" text-anchor="middle" fill="#111111" stroke="#111111" stroke-width="0.05">20</text>
<text transform="translate(230,926.7) scale(1.03,1)" y="3.54" font-size="9.9" text-anchor="middle" fill="#111111" stroke="#111111" stroke-width="0.05">30</text>
<text transform="translate(283.83,926.7) scale(1.03,1)" y="3.54" font-size="9.9" text-anchor="middle" fill="#111111" stroke="#111111" stroke-width="0.05">40</text>
<text transform="translate(337.67,926.7) scale(1.03,1)" y="3.54" font-size="9.9" text-anchor="middle" fill="#111111" stroke="#111111" stroke-width="0.05">50</text>
<text transform="translate(391.5,926.7) scale(1.03,1)" y="3.54" font-size="9.9" text-anchor="middle" fill="#111111" stroke="#111111" stroke-width="0.05">60</text>
<text transform="translate(64.51,916.5) scale(1.03,1)" y="3.54" font-size="9.9" text-anchor="end" fill="#111111" stroke="#111111" stroke-width="0.05">0</text>
<text transform="translate(64.51,888.17) scale(1.03,1)" y="3.54" font-size="9.9" text-anchor="end" fill="#111111" stroke="#111111" stroke-width="0.05">0.2</text>
<text transform="translate(64.51,859.83) scale(1.03,1)" y="3.54" font-size="9.9" text-anchor="end" fill="#111111" stroke="#111111" stroke-width="0.05">0.4</text>
<text transform="translate(64.51,831.5) scale(1.03,1)" y="3.54" font-size="9.9" text-anchor="end" fill="#111111" stroke="#111111" stroke-width="0.05">0.6</text>
<text transform="translate(64.51,803.17) scale(1.03,1)" y="3.54" font-size="9.9" text-anchor="end" fill="#111111" stroke="#111111" stroke-width="0.05">0.8</text>
<text transform="translate(64.51,774.83) scale(1.03,1)" y="3.54" font-size="9.9" text-anchor="end" fill="#111111" stroke="#111111" stroke-width="0.05">1</text>
<text transform="translate(64.51,746.5) scale(1.03,1)" y="3.54" font-size="9.9" text-anchor="end" fill="#111111" stroke="#111111" stroke-width="0.05">1.2</text>
<text transform="translate(64.51,718.17) scale(1.03,1)" y="3.54" font-size="9.9" text-anchor="end" fill="#111111" stroke="#111111" stroke-width="0.05">1.4</text>
<text transform="translate(64.51,689.83) scale(1.03,1)" y="3.54" font-size="9.9" text-anchor="end" fill="#111111" stroke="#111111" stroke-width="0.05">1.6</text>
<text transform="translate(64.51,661.5) scale(1.03,1)" y="3.54" font-size="9.9" text-anchor="end" fill="#111111" stroke="#111111" stroke-width="0.05">1.8</text>
<path d="M68.5 689.83 L71.19 704 L73.88 739.42 L73.88 902.33 L79.27 740.83 L79.27 909.42 L84.65 793.25 L84.65 902.33 L90.03 824.42 L90.03 908 L95.42 881.08 L95.42 896.67 L100.8 866.92 L100.8 893.83 L106.18 874 L106.18 881.08 L111.57 838.58 L111.57 874 L116.95 866.92 L116.95 882.5 L122.33 834.33 L122.33 909.42 L127.72 882.5 L127.72 908 L133.1 900.92 L133.1 900.92 L138.48 891 L138.48 895.25 L143.87 866.92 L143.87 874 L149.25 825.83 L149.25 900.92 L154.63 892.42 L154.63 899.5 L160.02 889.58 L160.02 899.5 L165.4 896.67 L170.78 892.42 L176.17 883.92 L181.55 878.25 L181.55 901.34 L183.7 905.17 L188.01 899.92 L190.16 905.17 L192.32 902.33 L197.7 908 L203.08 909.42 L208.47 903.75 L211.16 906.58 L214.39 900.92 L219.23 900.21 L224.08 887.46 L224.35 911.54 L231.08 905.17 L235.38 906.58 L238.61 902.33 L242.38 908 L246.69 901.34 L251.53 903.75 L256.92 898.08 L259.61 902.33 L262.3 899.5 L267.14 893.12 L267.41 914.09 L271.99 903.75 L274.68 906.58 L277.37 900.21 L282.76 895.25 L284.91 902.33 L287.6 901.34 L291.91 899.5 L295.68 895.25 L298.91 891 L299.44 908 L304.29 905.17 L308.06 908 L312.9 900.92 L315.6 902.62 L318.29 910.83 L319.36 914.09 L320.98 895.82 L325.82 895.25 L326.09 914.09 L329.59 910.83 L333.36 912.25 L338.74 910.12 L343.05 912.25 L348.97 908.99 L353.82 908 L359.2 905.17 L364.58 906.58 L369.97 903.75 L374.81 905.17 L378.04 905.17 L382.35 895.25 L387.19 898.08 L391.5 898.08" fill="none" stroke="#0000ff" stroke-width="2" stroke-linejoin="round" stroke-linecap="butt" stroke-dasharray="5.5 4"/>
<path d="M68.5 689.83 L71.19 704 L73.88 739.42 L73.88 892.42 L79.27 743.67 L79.27 905.17 L84.65 793.25 L84.65 902.33 L90.03 827.25 L90.03 908 L95.42 881.08 L95.42 896.67 L100.8 866.92 L100.8 893.83 L106.18 848.5 L106.18 874 L111.57 825.83 L111.57 847.08 L116.95 794.67 L116.95 882.5 L122.33 835.75 L122.33 898.08 L127.72 882.5 L127.72 908 L133.1 900.92 L133.1 900.92 L138.48 891 L138.48 895.25 L143.87 859.83 L143.87 874 L149.25 825.83 L149.25 900.92 L154.63 892.42 L154.63 899.5 L160.02 889.58 L160.02 899.5 L165.4 896.67 L170.78 892.42 L176.17 883.92 L181.55 878.25 L181.55 901.34 L183.7 905.17 L188.01 901.34 L190.16 906.58 L192.32 903.75 L197.7 908 L203.08 909.42 L208.47 903.75 L211.16 906.58 L214.39 900.92 L219.23 900.21 L224.08 887.46 L224.35 911.54 L231.08 905.17 L235.38 906.58 L238.61 902.33 L242.38 908 L246.69 901.34 L251.53 903.75 L256.92 899.5 L259.61 903.75 L262.3 900.92 L267.14 893.12 L267.41 914.09 L271.99 903.75 L274.68 906.58 L277.37 900.21 L282.76 895.25 L284.91 902.33 L287.6 901.34 L291.91 899.5 L295.68 895.25 L298.91 891 L299.44 908 L304.29 905.17 L308.06 908 L312.9 902.33 L315.6 904.03 L318.29 912.25 L319.36 914.09 L320.98 895.82 L325.82 895.25 L326.09 914.09 L329.59 910.83 L333.36 912.25 L338.74 910.12 L343.05 912.25 L348.97 908.99 L353.82 908 L359.2 905.17 L364.58 906.58 L369.97 903.75 L374.81 905.17 L378.04 906.58 L382.35 896.67 L387.19 899.5 L391.5 898.08" fill="none" stroke="#ff0000" stroke-width="2" stroke-linejoin="round" stroke-linecap="butt"/>
<circle cx="73.88" cy="890.76" r="2.9" fill="none" stroke="#00ff00" stroke-width="2.1"/>
<circle cx="79.27" cy="913.74" r="2.9" fill="none" stroke="#00ff00" stroke-width="2.1"/>
<circle cx="84.65" cy="895.75" r="2.9" fill="none" stroke="#00ff00" stroke-width="2.1"/>
<circle cx="90.03" cy="909.74" r="2.9" fill="none" stroke="#00ff00" stroke-width="2.1"/>
<circle cx="95.42" cy="899.75" r="2.9" fill="none" stroke="#00ff00" stroke-width="2.1"/>
<circle cx="100.8" cy="888.76" r="2.9" fill="none" stroke="#00ff00" stroke-width="2.1"/>
<circle cx="106.18" cy="867.28" r="2.9" fill="none" stroke="#00ff00" stroke-width="2.1"/>
<circle cx="111.57" cy="853.3" r="2.9" fill="none" stroke="#00ff00" stroke-width="2.1"/>
<circle cx="116.95" cy="891.26" r="2.9" fill="none" stroke="#00ff00" stroke-width="2.1"/>
<circle cx="122.33" cy="898.25" r="2.9" fill="none" stroke="#00ff00" stroke-width="2.1"/>
<circle cx="127.72" cy="892.26" r="2.9" fill="none" stroke="#00ff00" stroke-width="2.1"/>
<circle cx="133.1" cy="872.78" r="2.9" fill="none" stroke="#00ff00" stroke-width="2.1"/>
<circle cx="138.48" cy="884.77" r="2.9" fill="none" stroke="#00ff00" stroke-width="2.1"/>
<circle cx="143.87" cy="853.3" r="2.9" fill="none" stroke="#00ff00" stroke-width="2.1"/>
<circle cx="149.25" cy="884.27" r="2.9" fill="none" stroke="#00ff00" stroke-width="2.1"/>
<circle cx="154.63" cy="908.74" r="2.9" fill="none" stroke="#00ff00" stroke-width="2.1"/>
<circle cx="160.02" cy="906.74" r="2.9" fill="none" stroke="#00ff00" stroke-width="2.1"/>
<circle cx="165.4" cy="893.26" r="2.9" fill="none" stroke="#00ff00" stroke-width="2.1"/>
<circle cx="170.78" cy="846.3" r="2.9" fill="none" stroke="#00ff00" stroke-width="2.1"/>
<circle cx="176.17" cy="884.77" r="2.9" fill="none" stroke="#00ff00" stroke-width="2.1"/>
<circle cx="181.55" cy="906.74" r="2.9" fill="none" stroke="#00ff00" stroke-width="2.1"/>
<circle cx="186.93" cy="909.74" r="2.9" fill="none" stroke="#00ff00" stroke-width="2.1"/>
<circle cx="192.32" cy="841.31" r="2.9" fill="none" stroke="#00ff00" stroke-width="2.1"/>
<circle cx="197.7" cy="890.26" r="2.9" fill="none" stroke="#00ff00" stroke-width="2.1"/>
<circle cx="203.08" cy="899.25" r="2.9" fill="none" stroke="#00ff00" stroke-width="2.1"/>
<circle cx="208.47" cy="882.27" r="2.9" fill="none" stroke="#00ff00" stroke-width="2.1"/>
<circle cx="213.85" cy="870.28" r="2.9" fill="none" stroke="#00ff00" stroke-width="2.1"/>
<circle cx="219.23" cy="873.78" r="2.9" fill="none" stroke="#00ff00" stroke-width="2.1"/>
<circle cx="224.62" cy="889.76" r="2.9" fill="none" stroke="#00ff00" stroke-width="2.1"/>
<circle cx="230" cy="907.74" r="2.9" fill="none" stroke="#00ff00" stroke-width="2.1"/>
<circle cx="235.38" cy="886.76" r="2.9" fill="none" stroke="#00ff00" stroke-width="2.1"/>
<circle cx="240.77" cy="902.25" r="2.9" fill="none" stroke="#00ff00" stroke-width="2.1"/>
<circle cx="246.15" cy="888.76" r="2.9" fill="none" stroke="#00ff00" stroke-width="2.1"/>
<circle cx="251.53" cy="907.24" r="2.9" fill="none" stroke="#00ff00" stroke-width="2.1"/>
<circle cx="256.92" cy="913.24" r="2.9" fill="none" stroke="#00ff00" stroke-width="2.1"/>
<circle cx="262.3" cy="845.8" r="2.9" fill="none" stroke="#00ff00" stroke-width="2.1"/>
<circle cx="267.68" cy="908.24" r="2.9" fill="none" stroke="#00ff00" stroke-width="2.1"/>
<circle cx="273.07" cy="911.74" r="2.9" fill="none" stroke="#00ff00" stroke-width="2.1"/>
<circle cx="278.45" cy="881.27" r="2.9" fill="none" stroke="#00ff00" stroke-width="2.1"/>
<circle cx="283.83" cy="840.31" r="2.9" fill="none" stroke="#00ff00" stroke-width="2.1"/>
<circle cx="289.22" cy="870.28" r="2.9" fill="none" stroke="#00ff00" stroke-width="2.1"/>
<circle cx="294.6" cy="814.84" r="2.9" fill="none" stroke="#00ff00" stroke-width="2.1"/>
<circle cx="299.98" cy="862.29" r="2.9" fill="none" stroke="#00ff00" stroke-width="2.1"/>
<circle cx="305.37" cy="880.77" r="2.9" fill="none" stroke="#00ff00" stroke-width="2.1"/>
<circle cx="310.75" cy="848.3" r="2.9" fill="none" stroke="#00ff00" stroke-width="2.1"/>
<circle cx="316.13" cy="913.24" r="2.9" fill="none" stroke="#00ff00" stroke-width="2.1"/>
<circle cx="321.52" cy="863.29" r="2.9" fill="none" stroke="#00ff00" stroke-width="2.1"/>
<circle cx="326.9" cy="907.74" r="2.9" fill="none" stroke="#00ff00" stroke-width="2.1"/>
<circle cx="332.28" cy="900.25" r="2.9" fill="none" stroke="#00ff00" stroke-width="2.1"/>
<circle cx="337.67" cy="889.76" r="2.9" fill="none" stroke="#00ff00" stroke-width="2.1"/>
<circle cx="343.05" cy="856.29" r="2.9" fill="none" stroke="#00ff00" stroke-width="2.1"/>
<circle cx="348.43" cy="897.25" r="2.9" fill="none" stroke="#00ff00" stroke-width="2.1"/>
<circle cx="353.82" cy="903.75" r="2.9" fill="none" stroke="#00ff00" stroke-width="2.1"/>
<circle cx="359.2" cy="907.74" r="2.9" fill="none" stroke="#00ff00" stroke-width="2.1"/>
<circle cx="364.58" cy="908.74" r="2.9" fill="none" stroke="#00ff00" stroke-width="2.1"/>
<circle cx="369.97" cy="882.77" r="2.9" fill="none" stroke="#00ff00" stroke-width="2.1"/>
<circle cx="375.35" cy="882.77" r="2.9" fill="none" stroke="#00ff00" stroke-width="2.1"/>
<circle cx="380.73" cy="891.76" r="2.9" fill="none" stroke="#00ff00" stroke-width="2.1"/>
<circle cx="386.12" cy="907.74" r="2.9" fill="none" stroke="#00ff00" stroke-width="2.1"/>
<circle cx="391.5" cy="860.79" r="2.9" fill="none" stroke="#00ff00" stroke-width="2.1"/>
<text transform="translate(229.2,940.85) scale(1.02,1)" y="2.83" font-size="10.9" text-anchor="middle" fill="#111111" stroke="#111111" stroke-width="0.05">time (sec)</text>
<text transform="translate(41.75,787.65) rotate(-90) scale(0.97,1)" y="2.81" font-size="10.8" text-anchor="middle" fill="#111111" stroke="#111111" stroke-width="0.05">error (m)</text>
<rect x="290.5" y="669.5" width="93" height="40" fill="#fff" stroke="#000" stroke-width="1"/>
<path d="M292.8 676.6 L322.7 676.6" fill="none" stroke="#0000ff" stroke-width="2.3" stroke-linejoin="round" stroke-linecap="butt" stroke-dasharray="5.18 7.18"/>
<text transform="translate(324.6,676.6) scale(1.04,1)" y="3.08" font-size="8.6" text-anchor="start" fill="#000" stroke="#000" stroke-width="0.12">UKF</text>
<path d="M292.8 688.9 L322.7 688.9" fill="none" stroke="#ff0000" stroke-width="2.3" stroke-linejoin="round" stroke-linecap="butt"/>
<text transform="translate(324.6,688.9) scale(1.04,1)" y="3.08" font-size="8.6" text-anchor="start" fill="#000" stroke="#000" stroke-width="0.12">MCUKF</text>
<circle cx="307.8" cy="701.25" r="2.7" fill="none" stroke="#00ff00" stroke-width="2"/>
<text transform="translate(324.6,701.25) scale(1.04,1)" y="3.08" font-size="8.6" text-anchor="start" fill="#000" stroke="#000" stroke-width="0.12">Measurement</text>
<path d="M547.5 930.5H850.5V1169.5H547.5Z M547.5 1169.5V1166.3 M547.5 930.5V933.7 M598.5 1169.5V1166.3 M598.5 930.5V933.7 M648.5 1169.5V1166.3 M648.5 930.5V933.7 M698.5 1169.5V1166.3 M698.5 930.5V933.7 M749.5 1169.5V1166.3 M749.5 930.5V933.7 M800.5 1169.5V1166.3 M800.5 930.5V933.7 M850.5 1169.5V1166.3 M850.5 930.5V933.7 M547.5 1169.5H550.7 M850.5 1169.5H847.3 M547.5 1145.5H550.7 M850.5 1145.5H847.3 M547.5 1121.5H550.7 M850.5 1121.5H847.3 M547.5 1097.5H550.7 M850.5 1097.5H847.3 M547.5 1073.5H550.7 M850.5 1073.5H847.3 M547.5 1050.5H550.7 M850.5 1050.5H847.3 M547.5 1026.5H550.7 M850.5 1026.5H847.3 M547.5 1002.5H550.7 M850.5 1002.5H847.3 M547.5 978.5H550.7 M850.5 978.5H847.3 M547.5 954.5H550.7 M850.5 954.5H847.3 M547.5 930.5H550.7 M850.5 930.5H847.3" fill="none" stroke="#000" stroke-width="1"/>
<text transform="translate(547.5,1179.75) scale(1.12,1)" y="3.53" font-size="9.85" text-anchor="middle" fill="#111111" stroke="#111111" stroke-width="0.05">0</text>
<text transform="translate(598,1179.75) scale(1.12,1)" y="3.53" font-size="9.85" text-anchor="middle" fill="#111111" stroke="#111111" stroke-width="0.05">10</text>
<text transform="translate(648.5,1179.75) scale(1.12,1)" y="3.53" font-size="9.85" text-anchor="middle" fill="#111111" stroke="#111111" stroke-width="0.05">20</text>
<text transform="translate(699,1179.75) scale(1.12,1)" y="3.53" font-size="9.85" text-anchor="middle" fill="#111111" stroke="#111111" stroke-width="0.05">30</text>
<text transform="translate(749.5,1179.75) scale(1.12,1)" y="3.53" font-size="9.85" text-anchor="middle" fill="#111111" stroke="#111111" stroke-width="0.05">40</text>
<text transform="translate(800,1179.75) scale(1.12,1)" y="3.53" font-size="9.85" text-anchor="middle" fill="#111111" stroke="#111111" stroke-width="0.05">50</text>
<text transform="translate(850.5,1179.75) scale(1.12,1)" y="3.53" font-size="9.85" text-anchor="middle" fill="#111111" stroke="#111111" stroke-width="0.05">60</text>
<text transform="translate(544.74,1169.5) scale(1.12,1)" y="3.53" font-size="9.85" text-anchor="end" fill="#111111" stroke="#111111" stroke-width="0.05">0</text>
<text transform="translate(544.74,1145.6) scale(1.12,1)" y="3.53" font-size="9.85" text-anchor="end" fill="#111111" stroke="#111111" stroke-width="0.05">0.5</text>
<text transform="translate(544.74,1121.7) scale(1.12,1)" y="3.53" font-size="9.85" text-anchor="end" fill="#111111" stroke="#111111" stroke-width="0.05">1</text>
<text transform="translate(544.74,1097.8) scale(1.12,1)" y="3.53" font-size="9.85" text-anchor="end" fill="#111111" stroke="#111111" stroke-width="0.05">1.5</text>
<text transform="translate(544.74,1073.9) scale(1.12,1)" y="3.53" font-size="9.85" text-anchor="end" fill="#111111" stroke="#111111" stroke-width="0.05">2</text>
<text transform="translate(544.74,1050) scale(1.12,1)" y="3.53" font-size="9.85" text-anchor="end" fill="#111111" stroke="#111111" stroke-width="0.05">2.5</text>
<text transform="translate(544.74,1026.1) scale(1.12,1)" y="3.53" font-size="9.85" text-anchor="end" fill="#111111" stroke="#111111" stroke-width="0.05">3</text>
<text transform="translate(544.74,1002.2) scale(1.12,1)" y="3.53" font-size="9.85" text-anchor="end" fill="#111111" stroke="#111111" stroke-width="0.05">3.5</text>
<text transform="translate(544.74,978.3) scale(1.12,1)" y="3.53" font-size="9.85" text-anchor="end" fill="#111111" stroke="#111111" stroke-width="0.05">4</text>
<text transform="translate(544.74,954.4) scale(1.12,1)" y="3.53" font-size="9.85" text-anchor="end" fill="#111111" stroke="#111111" stroke-width="0.05">4.5</text>
<text transform="translate(544.74,930.5) scale(1.12,1)" y="3.53" font-size="9.85" text-anchor="end" fill="#111111" stroke="#111111" stroke-width="0.05">5</text>
<path d="M547.5 1078.68 L552.55 1077.72 L552.55 1167.11 L557.6 1136.04 L557.6 1164.72 L562.65 1155.16 L562.65 1164.72 L567.7 1165.2 L567.7 1162.33 L572.75 1157.55 L572.75 1159.94 L577.8 1155.16 L577.8 1162.33 L582.85 1157.55 L582.85 1159.94 L587.9 1155.16 L587.9 1162.33 L592.95 1157.55 L592.95 1164.72 L598 1167.11 L598 1164.72 L603.05 1162.33 L603.05 1164.72 L608.1 1159.94 L608.1 1155.16 L613.15 1023.71 L613.15 1127.44 L618.2 1121.7 L618.2 1164.72 L623.25 1159.94 L623.25 1126.48 L628.3 1145.6 L628.3 1085.85 L633.35 1079.64 L633.35 1150.38 L638.4 1131.26 L638.4 1150.38 L643.45 1159.94 L643.45 1140.82 L648.5 1150.38 L648.5 1104.97 L653.55 1136.04 L653.55 1145.6 L658.6 1140.82 L658.6 1150.38 L663.65 1143.21 L663.65 1167.11 L668.7 1159.94 L668.7 1112.14 L673.75 1136.04 L673.75 1131.26 L678.8 1124.09 L678.8 1140.82 L683.85 1131.26 L683.85 1150.38 L688.9 1147.99 L688.9 1159.94 L693.95 1157.55 L693.95 1162.33 L699 1159.94 L699 1164.72 L704.05 1162.33 L704.05 1162.33 L709.1 1159.94 L709.1 1164.72 L714.15 1159.94 L714.15 1112.14 L719.2 1114.53 L719.2 1126.48 L724.25 1133.65 L724.25 1155.16 L729.3 1140.82 L729.3 1152.77 L734.35 1152.77 L734.35 1152.77 L739.4 1152.77 L739.4 1150.38 L744.45 1152.77 L744.45 1140.82 L749.5 1140.82 L749.5 1152.77 L754.55 1140.82 L754.55 1140.82 L759.6 1147.99 L759.6 1147.99 L764.65 1143.21 L764.65 1143.21 L769.7 1145.6 L769.7 1159.94 L774.75 1155.16 L774.75 1121.7 L779.8 1114.53 L779.8 1140.82 L784.85 1145.6 L784.85 1150.38 L789.9 1152.77 L789.9 1162.33 L794.95 1159.94 L794.95 1159.94 L800 1155.16 L800 1128.87 L805.05 1131.26 L805.05 1143.21 L810.1 1152.77 L810.1 1159.94 L815.15 1162.33 L815.15 1162.33 L820.2 1163.76 L820.2 1164.72 L825.25 1164.72 L825.25 1162.33 L830.3 1159.94 L830.3 1159.94 L835.35 1157.55 L835.35 1157.55 L840.4 1155.16 L840.4 1155.16 L845.45 1152.77 L845.45 1152.77 L850.5 1149.42" fill="none" stroke="#0000ff" stroke-width="2" stroke-linejoin="round" stroke-linecap="butt" stroke-dasharray="5.5 4"/>
<path d="M547.5 1080.11 L552.55 1077.72 L552.55 1169.5 L557.6 1143.21 L557.6 1167.11 L562.65 1155.16 L562.65 1167.11 L567.7 1111.18 L567.7 1150.38 L572.75 1133.65 L572.75 1164.72 L577.8 1155.16 L577.8 1164.72 L582.85 1155.16 L582.85 1162.33 L587.9 1152.77 L587.9 1159.94 L592.95 1155.16 L592.95 1167.11 L598 1157.55 L598 1164.72 L603.05 1159.94 L603.05 1163.76 L608.1 1145.6 L608.1 1159.94 L613.15 1152.77 L613.15 1157.55 L618.2 1143.21 L618.2 1162.33 L623.25 1131.26 L623.25 1164.72 L628.3 1155.16 L628.3 1162.33 L633.35 1152.77 L633.35 1167.11 L638.4 1162.33 L638.4 1164.72 L643.45 1159.94 L643.45 1163.76 L648.5 1147.99 L648.5 1159.94 L653.55 1152.77 L653.55 1162.33 L658.6 1155.16 L658.6 1167.11 L663.65 1147.99 L663.65 1164.72 L668.7 1159.94 L668.7 1164.72 L673.75 1162.33 L673.75 1167.11 L678.8 1159.94 L678.8 1164.72 L683.85 1159.94 L683.85 1167.11 L688.9 1157.55 L688.9 1165.68 L693.95 1162.33 L693.95 1167.11 L699 1159.94 L699 1164.72 L704.05 1159.94 L704.05 1167.11 L709.1 1159.94 L709.1 1164.72 L714.15 1157.55 L714.15 1164.72 L719.2 1159.94 L719.2 1164.72 L724.25 1159.94 L724.25 1167.11 L729.3 1162.33 L729.3 1164.72 L734.35 1159.94 L734.35 1169.5 L739.4 1162.33 L739.4 1167.11 L744.45 1155.16 L744.45 1167.11 L749.5 1159.94 L749.5 1164.72 L754.55 1157.55 L754.55 1164.72 L759.6 1152.77 L759.6 1167.11 L764.65 1159.94 L764.65 1164.72 L769.7 1157.55 L769.7 1167.11 L774.75 1155.16 L774.75 1164.72 L779.8 1150.38 L779.8 1162.33 L784.85 1155.16 L784.85 1164.72 L789.9 1157.55 L789.9 1164.72 L794.95 1152.77 L794.95 1167.11 L800 1162.33 L800 1164.72 L805.05 1157.55 L805.05 1162.33 L810.1 1155.16 L810.1 1159.94 L815.15 1150.38 L815.15 1164.72 L820.2 1152.77 L820.2 1159.94 L825.25 1155.16 L825.25 1162.33 L830.3 1155.16 L830.3 1164.72 L835.35 1157.55 L835.35 1169.5 L840.4 1164.72 L840.4 1167.11 L845.45 1162.33 L845.45 1168.54 L850.5 1167.11" fill="none" stroke="#ff0000" stroke-width="2" stroke-linejoin="round" stroke-linecap="butt"/>
<circle cx="552.55" cy="1164.74" r="2.9" fill="none" stroke="#00ff00" stroke-width="2.1"/>
<circle cx="557.6" cy="1164.74" r="2.9" fill="none" stroke="#00ff00" stroke-width="2.1"/>
<circle cx="562.65" cy="1153.36" r="2.9" fill="none" stroke="#00ff00" stroke-width="2.1"/>
<circle cx="567.7" cy="1155.04" r="2.9" fill="none" stroke="#00ff00" stroke-width="2.1"/>
<circle cx="572.75" cy="1159.68" r="2.9" fill="none" stroke="#00ff00" stroke-width="2.1"/>
<circle cx="577.8" cy="1163.9" r="2.9" fill="none" stroke="#00ff00" stroke-width="2.1"/>
<circle cx="582.85" cy="1160.53" r="2.9" fill="none" stroke="#00ff00" stroke-width="2.1"/>
<circle cx="587.9" cy="1160.53" r="2.9" fill="none" stroke="#00ff00" stroke-width="2.1"/>
<circle cx="592.95" cy="1158" r="2.9" fill="none" stroke="#00ff00" stroke-width="2.1"/>
<circle cx="598" cy="1163.06" r="2.9" fill="none" stroke="#00ff00" stroke-width="2.1"/>
<circle cx="603.05" cy="1161.37" r="2.9" fill="none" stroke="#00ff00" stroke-width="2.1"/>
<circle cx="608.1" cy="1026.83" r="2.9" fill="none" stroke="#00ff00" stroke-width="2.1"/>
<circle cx="613.15" cy="1158" r="2.9" fill="none" stroke="#00ff00" stroke-width="2.1"/>
<circle cx="618.2" cy="1144.08" r="2.9" fill="none" stroke="#00ff00" stroke-width="2.1"/>
<circle cx="623.25" cy="1154.2" r="2.9" fill="none" stroke="#00ff00" stroke-width="2.1"/>
<circle cx="628.3" cy="957.24" r="2.9" fill="none" stroke="#00ff00" stroke-width="2.1"/>
<circle cx="633.35" cy="1165.59" r="2.9" fill="none" stroke="#00ff00" stroke-width="2.1"/>
<circle cx="638.4" cy="1164.74" r="2.9" fill="none" stroke="#00ff00" stroke-width="2.1"/>
<circle cx="643.45" cy="1149.98" r="2.9" fill="none" stroke="#00ff00" stroke-width="2.1"/>
<circle cx="648.5" cy="938.68" r="2.9" fill="none" stroke="#00ff00" stroke-width="2.1"/>
<circle cx="653.55" cy="1143.66" r="2.9" fill="none" stroke="#00ff00" stroke-width="2.1"/>
<circle cx="658.6" cy="1153.36" r="2.9" fill="none" stroke="#00ff00" stroke-width="2.1"/>
<circle cx="663.65" cy="1163.06" r="2.9" fill="none" stroke="#00ff00" stroke-width="2.1"/>
<circle cx="668.7" cy="1095.58" r="2.9" fill="none" stroke="#00ff00" stroke-width="2.1"/>
<circle cx="673.75" cy="1161.37" r="2.9" fill="none" stroke="#00ff00" stroke-width="2.1"/>
<circle cx="678.8" cy="1155.47" r="2.9" fill="none" stroke="#00ff00" stroke-width="2.1"/>
<circle cx="683.85" cy="1154.2" r="2.9" fill="none" stroke="#00ff00" stroke-width="2.1"/>
<circle cx="688.9" cy="1156.31" r="2.9" fill="none" stroke="#00ff00" stroke-width="2.1"/>
<circle cx="693.95" cy="1163.9" r="2.9" fill="none" stroke="#00ff00" stroke-width="2.1"/>
<circle cx="699" cy="1160.53" r="2.9" fill="none" stroke="#00ff00" stroke-width="2.1"/>
<circle cx="704.05" cy="1159.68" r="2.9" fill="none" stroke="#00ff00" stroke-width="2.1"/>
<circle cx="709.1" cy="1164.74" r="2.9" fill="none" stroke="#00ff00" stroke-width="2.1"/>
<circle cx="714.15" cy="1116.24" r="2.9" fill="none" stroke="#00ff00" stroke-width="2.1"/>
<circle cx="719.2" cy="1164.74" r="2.9" fill="none" stroke="#00ff00" stroke-width="2.1"/>
<circle cx="724.25" cy="1158.84" r="2.9" fill="none" stroke="#00ff00" stroke-width="2.1"/>
<circle cx="729.3" cy="1159.68" r="2.9" fill="none" stroke="#00ff00" stroke-width="2.1"/>
<circle cx="734.35" cy="1159.68" r="2.9" fill="none" stroke="#00ff00" stroke-width="2.1"/>
<circle cx="739.4" cy="1158.42" r="2.9" fill="none" stroke="#00ff00" stroke-width="2.1"/>
<circle cx="744.45" cy="1135.64" r="2.9" fill="none" stroke="#00ff00" stroke-width="2.1"/>
<circle cx="749.5" cy="1107.39" r="2.9" fill="none" stroke="#00ff00" stroke-width="2.1"/>
<circle cx="754.55" cy="1103.59" r="2.9" fill="none" stroke="#00ff00" stroke-width="2.1"/>
<circle cx="759.6" cy="1141.97" r="2.9" fill="none" stroke="#00ff00" stroke-width="2.1"/>
<circle cx="764.65" cy="1140.28" r="2.9" fill="none" stroke="#00ff00" stroke-width="2.1"/>
<circle cx="769.7" cy="1158.84" r="2.9" fill="none" stroke="#00ff00" stroke-width="2.1"/>
<circle cx="774.75" cy="1035.26" r="2.9" fill="none" stroke="#00ff00" stroke-width="2.1"/>
<circle cx="779.8" cy="1155.89" r="2.9" fill="none" stroke="#00ff00" stroke-width="2.1"/>
<circle cx="784.85" cy="1145.34" r="2.9" fill="none" stroke="#00ff00" stroke-width="2.1"/>
<circle cx="789.9" cy="1161.37" r="2.9" fill="none" stroke="#00ff00" stroke-width="2.1"/>
<circle cx="794.95" cy="1163.9" r="2.9" fill="none" stroke="#00ff00" stroke-width="2.1"/>
<circle cx="800" cy="1015.02" r="2.9" fill="none" stroke="#00ff00" stroke-width="2.1"/>
<circle cx="805.05" cy="1145.34" r="2.9" fill="none" stroke="#00ff00" stroke-width="2.1"/>
<circle cx="810.1" cy="1163.06" r="2.9" fill="none" stroke="#00ff00" stroke-width="2.1"/>
<circle cx="815.15" cy="1163.06" r="2.9" fill="none" stroke="#00ff00" stroke-width="2.1"/>
<circle cx="820.2" cy="1163.9" r="2.9" fill="none" stroke="#00ff00" stroke-width="2.1"/>
<circle cx="825.25" cy="1156.73" r="2.9" fill="none" stroke="#00ff00" stroke-width="2.1"/>
<circle cx="830.3" cy="1163.06" r="2.9" fill="none" stroke="#00ff00" stroke-width="2.1"/>
<circle cx="835.35" cy="1167.28" r="2.9" fill="none" stroke="#00ff00" stroke-width="2.1"/>
<circle cx="840.4" cy="1163.06" r="2.9" fill="none" stroke="#00ff00" stroke-width="2.1"/>
<circle cx="845.45" cy="1162.21" r="2.9" fill="none" stroke="#00ff00" stroke-width="2.1"/>
<circle cx="850.5" cy="1149.98" r="2.9" fill="none" stroke="#00ff00" stroke-width="2.1"/>
<text transform="translate(698.6,1193.6) scale(1.11,1)" y="2.44" font-size="9.4" text-anchor="middle" fill="#111111" stroke="#111111" stroke-width="0.05">time (sec)</text>
<rect x="755.5" y="938.5" width="88" height="37" fill="#fff" stroke="#000" stroke-width="1"/>
<path d="M758 944.9 L785.9 944.9" fill="none" stroke="#0000ff" stroke-width="2.3" stroke-linejoin="round" stroke-linecap="butt" stroke-dasharray="4.84 6.7"/>
<text transform="translate(787.7,944.9) scale(0.98,1)" y="3.08" font-size="8.6" text-anchor="start" fill="#000" stroke="#000" stroke-width="0.12">UKF</text>
<path d="M758 956.5 L785.9 956.5" fill="none" stroke="#ff0000" stroke-width="2.3" stroke-linejoin="round" stroke-linecap="butt"/>
<text transform="translate(787.7,956.5) scale(0.98,1)" y="3.08" font-size="8.6" text-anchor="start" fill="#000" stroke="#000" stroke-width="0.12">MCUKF</text>
<circle cx="772.5" cy="968.15" r="2.7" fill="none" stroke="#00ff00" stroke-width="2"/>
<text transform="translate(787.7,968.15) scale(0.98,1)" y="3.08" font-size="8.6" text-anchor="start" fill="#000" stroke="#000" stroke-width="0.12">Measurement</text>
</svg>
</body></html>
